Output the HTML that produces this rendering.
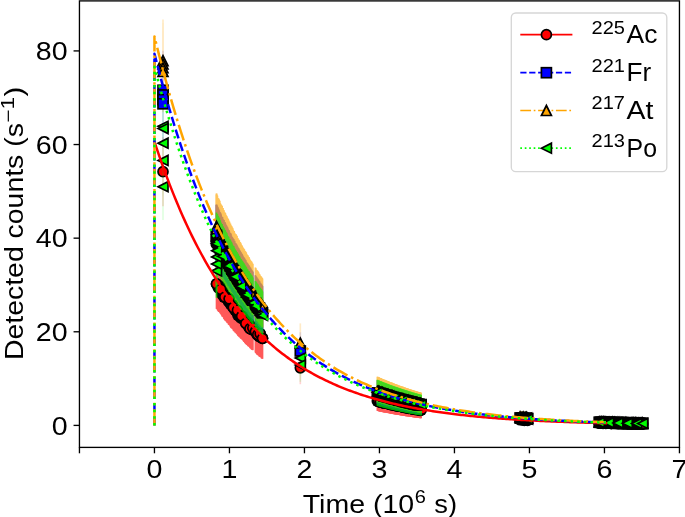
<!DOCTYPE html>
<html><head><meta charset="utf-8"><style>
html,body{margin:0;padding:0;background:#fff;overflow:hidden;}
svg{display:block;will-change:transform;font-family:"Liberation Sans",sans-serif;}
</style></head><body>
<svg width="685" height="517" viewBox="0 0 685 517">
<rect width="685" height="517" fill="#fff"/>
<defs><clipPath id="ax"><rect x="79.45" y="0.90" width="600.00" height="446.50"/></clipPath></defs>
<g clip-path="url(#ax)">
<g opacity="0.17" stroke="#ff0000" stroke-width="1.68">
<line x1="163.00" x2="163.00" y1="137.23" y2="206.15"/>
</g>
<g opacity="0.65" stroke="#ff0000" stroke-width="1.68">
<line x1="216.51" x2="216.51" y1="251.57" y2="308.91"/>
<line x1="216.98" x2="216.98" y1="251.41" y2="308.78"/>
<line x1="217.44" x2="217.44" y1="253.11" y2="310.18"/>
<line x1="217.91" x2="217.91" y1="253.94" y2="310.86"/>
<line x1="218.37" x2="218.37" y1="254.73" y2="311.50"/>
<line x1="218.84" x2="218.84" y1="255.44" y2="312.09"/>
<line x1="219.31" x2="219.31" y1="255.35" y2="312.02"/>
<line x1="219.77" x2="219.77" y1="256.13" y2="312.65"/>
<line x1="220.24" x2="220.24" y1="256.90" y2="313.29"/>
<line x1="220.70" x2="220.70" y1="257.68" y2="313.92"/>
<line x1="221.17" x2="221.17" y1="258.44" y2="314.54"/>
<line x1="221.63" x2="221.63" y1="259.32" y2="315.26"/>
<line x1="222.10" x2="222.10" y1="260.87" y2="316.52"/>
<line x1="222.56" x2="222.56" y1="260.72" y2="316.40"/>
<line x1="223.03" x2="223.03" y1="261.47" y2="317.01"/>
<line x1="223.49" x2="223.49" y1="262.22" y2="317.62"/>
<line x1="223.96" x2="223.96" y1="263.86" y2="318.95"/>
<line x1="224.43" x2="224.43" y1="264.59" y2="319.55"/>
<line x1="224.89" x2="224.89" y1="265.33" y2="320.15"/>
<line x1="225.36" x2="225.36" y1="266.06" y2="320.74"/>
<line x1="225.82" x2="225.82" y1="265.91" y2="320.63"/>
<line x1="226.29" x2="226.29" y1="267.15" y2="321.63"/>
<line x1="226.75" x2="226.75" y1="267.36" y2="321.81"/>
<line x1="227.22" x2="227.22" y1="268.95" y2="323.09"/>
<line x1="227.68" x2="227.68" y1="268.80" y2="322.97"/>
<line x1="228.15" x2="228.15" y1="269.52" y2="323.55"/>
<line x1="228.62" x2="228.62" y1="271.07" y2="324.81"/>
<line x1="229.08" x2="229.08" y1="270.93" y2="324.70"/>
<line x1="229.55" x2="229.55" y1="271.64" y2="325.27"/>
<line x1="230.01" x2="230.01" y1="272.34" y2="325.83"/>
<line x1="230.48" x2="230.48" y1="273.87" y2="327.07"/>
<line x1="230.94" x2="230.94" y1="274.56" y2="327.63"/>
<line x1="231.41" x2="231.41" y1="275.24" y2="328.18"/>
<line x1="231.87" x2="231.87" y1="275.69" y2="328.54"/>
<line x1="232.34" x2="232.34" y1="275.79" y2="328.62"/>
<line x1="232.80" x2="232.80" y1="276.47" y2="329.17"/>
<line x1="233.27" x2="233.27" y1="277.96" y2="330.37"/>
<line x1="233.74" x2="233.74" y1="278.63" y2="330.91"/>
<line x1="234.20" x2="234.20" y1="279.30" y2="331.44"/>
<line x1="234.67" x2="234.67" y1="279.16" y2="331.34"/>
<line x1="235.13" x2="235.13" y1="280.62" y2="332.51"/>
<line x1="235.60" x2="235.60" y1="280.50" y2="332.41"/>
<line x1="236.06" x2="236.06" y1="281.15" y2="332.93"/>
<line x1="236.53" x2="236.53" y1="282.58" y2="334.08"/>
<line x1="236.99" x2="236.99" y1="282.77" y2="334.23"/>
<line x1="237.46" x2="237.46" y1="283.10" y2="334.50"/>
<line x1="237.92" x2="237.92" y1="284.52" y2="335.64"/>
<line x1="238.39" x2="238.39" y1="285.16" y2="336.15"/>
<line x1="238.86" x2="238.86" y1="285.58" y2="336.48"/>
<line x1="239.32" x2="239.32" y1="286.43" y2="337.16"/>
<line x1="239.79" x2="239.79" y1="286.30" y2="337.06"/>
<line x1="240.25" x2="240.25" y1="287.40" y2="337.94"/>
<line x1="240.72" x2="240.72" y1="288.31" y2="338.66"/>
<line x1="241.18" x2="241.18" y1="288.19" y2="338.57"/>
<line x1="241.65" x2="241.65" y1="288.81" y2="339.06"/>
<line x1="242.11" x2="242.11" y1="289.43" y2="339.56"/>
<line x1="242.58" x2="242.58" y1="290.04" y2="340.05"/>
<line x1="243.04" x2="243.04" y1="290.66" y2="340.53"/>
<line x1="243.51" x2="243.51" y1="291.46" y2="341.17"/>
<line x1="243.98" x2="243.98" y1="292.60" y2="342.08"/>
<line x1="244.44" x2="244.44" y1="292.48" y2="341.98"/>
<line x1="244.91" x2="244.91" y1="293.80" y2="343.03"/>
<line x1="245.37" x2="245.37" y1="294.39" y2="343.50"/>
<line x1="245.84" x2="245.84" y1="294.99" y2="343.97"/>
<line x1="246.30" x2="246.30" y1="295.58" y2="344.44"/>
<line x1="246.77" x2="246.77" y1="296.16" y2="344.91"/>
<line x1="247.23" x2="247.23" y1="296.05" y2="344.81"/>
<line x1="247.70" x2="247.70" y1="297.33" y2="345.83"/>
<line x1="248.17" x2="248.17" y1="297.91" y2="346.29"/>
<line x1="248.63" x2="248.63" y1="297.81" y2="346.21"/>
<line x1="249.10" x2="249.10" y1="298.37" y2="346.65"/>
<line x1="249.56" x2="249.56" y1="298.94" y2="347.10"/>
<line x1="250.03" x2="250.03" y1="300.19" y2="348.09"/>
<line x1="250.49" x2="250.49" y1="300.76" y2="348.54"/>
<line x1="250.96" x2="250.96" y1="300.65" y2="348.45"/>
<line x1="251.42" x2="251.42" y1="301.88" y2="349.42"/>
<line x1="251.89" x2="251.89" y1="302.44" y2="349.86"/>
<line x1="252.35" x2="252.35" y1="302.33" y2="349.77"/>
<line x1="252.82" x2="252.82" y1="302.88" y2="350.21"/>
</g>
<g opacity="0.65" stroke="#ff0000" stroke-width="1.68">
<line x1="255.40" x2="255.40" y1="305.91" y2="352.59"/>
<line x1="255.88" x2="255.88" y1="306.46" y2="353.02"/>
<line x1="256.35" x2="256.35" y1="307.37" y2="353.73"/>
<line x1="256.82" x2="256.82" y1="308.12" y2="354.31"/>
<line x1="257.30" x2="257.30" y1="308.72" y2="354.79"/>
<line x1="257.77" x2="257.77" y1="309.26" y2="355.20"/>
<line x1="258.25" x2="258.25" y1="309.17" y2="355.13"/>
<line x1="258.73" x2="258.73" y1="309.88" y2="355.69"/>
<line x1="259.20" x2="259.20" y1="310.85" y2="356.44"/>
<line x1="259.68" x2="259.68" y1="311.38" y2="356.85"/>
<line x1="260.15" x2="260.15" y1="311.28" y2="356.78"/>
<line x1="260.62" x2="260.62" y1="311.81" y2="357.19"/>
<line x1="261.10" x2="261.10" y1="312.33" y2="357.59"/>
<line x1="261.57" x2="261.57" y1="313.45" y2="358.47"/>
<line x1="262.05" x2="262.05" y1="313.36" y2="358.40"/>
<line x1="262.52" x2="262.52" y1="313.88" y2="358.80"/>
</g>
<g opacity="0.17" stroke="#ff0000" stroke-width="1.68">
<line x1="300.32" x2="300.32" y1="351.41" y2="384.24"/>
</g>
<g opacity="0.65" stroke="#ff0000" stroke-width="1.68">
<line x1="377.35" x2="377.35" y1="388.45" y2="410.93"/>
<line x1="377.82" x2="377.82" y1="388.61" y2="411.03"/>
<line x1="378.28" x2="378.28" y1="388.77" y2="411.13"/>
<line x1="378.75" x2="378.75" y1="389.06" y2="411.32"/>
<line x1="379.21" x2="379.21" y1="389.08" y2="411.33"/>
<line x1="379.68" x2="379.68" y1="389.42" y2="411.54"/>
<line x1="380.15" x2="380.15" y1="389.57" y2="411.64"/>
<line x1="380.61" x2="380.61" y1="389.61" y2="411.67"/>
<line x1="381.08" x2="381.08" y1="389.87" y2="411.83"/>
<line x1="381.54" x2="381.54" y1="389.84" y2="411.82"/>
<line x1="382.01" x2="382.01" y1="390.17" y2="412.03"/>
<line x1="382.48" x2="382.48" y1="390.32" y2="412.12"/>
<line x1="382.94" x2="382.94" y1="390.47" y2="412.21"/>
<line x1="383.41" x2="383.41" y1="390.44" y2="412.20"/>
<line x1="383.87" x2="383.87" y1="390.77" y2="412.40"/>
<line x1="384.34" x2="384.34" y1="390.91" y2="412.49"/>
<line x1="384.81" x2="384.81" y1="391.06" y2="412.59"/>
<line x1="385.27" x2="385.27" y1="391.03" y2="412.57"/>
<line x1="385.74" x2="385.74" y1="391.17" y2="412.66"/>
<line x1="386.20" x2="386.20" y1="391.36" y2="412.78"/>
<line x1="386.67" x2="386.67" y1="391.46" y2="412.84"/>
<line x1="387.14" x2="387.14" y1="391.61" y2="412.93"/>
<line x1="387.60" x2="387.60" y1="391.84" y2="413.08"/>
<line x1="388.07" x2="388.07" y1="391.89" y2="413.11"/>
<line x1="388.53" x2="388.53" y1="392.03" y2="413.20"/>
<line x1="389.00" x2="389.00" y1="392.17" y2="413.28"/>
<line x1="389.46" x2="389.46" y1="392.31" y2="413.37"/>
<line x1="389.93" x2="389.93" y1="392.62" y2="413.56"/>
<line x1="390.40" x2="390.40" y1="392.71" y2="413.62"/>
<line x1="390.86" x2="390.86" y1="392.73" y2="413.63"/>
<line x1="391.33" x2="391.33" y1="393.01" y2="413.81"/>
<line x1="391.79" x2="391.79" y1="393.00" y2="413.80"/>
<line x1="392.26" x2="392.26" y1="393.14" y2="413.89"/>
<line x1="392.73" x2="392.73" y1="393.28" y2="413.97"/>
<line x1="393.19" x2="393.19" y1="393.54" y2="414.13"/>
<line x1="393.66" x2="393.66" y1="393.55" y2="414.14"/>
<line x1="394.12" x2="394.12" y1="393.68" y2="414.22"/>
<line x1="394.59" x2="394.59" y1="393.94" y2="414.38"/>
<line x1="395.06" x2="395.06" y1="394.01" y2="414.42"/>
<line x1="395.52" x2="395.52" y1="394.08" y2="414.46"/>
<line x1="395.99" x2="395.99" y1="394.36" y2="414.63"/>
<line x1="396.45" x2="396.45" y1="394.34" y2="414.62"/>
<line x1="396.92" x2="396.92" y1="394.47" y2="414.70"/>
<line x1="397.39" x2="397.39" y1="394.68" y2="414.83"/>
<line x1="397.85" x2="397.85" y1="394.88" y2="414.95"/>
<line x1="398.32" x2="398.32" y1="394.90" y2="414.96"/>
<line x1="398.78" x2="398.78" y1="394.99" y2="415.02"/>
<line x1="399.25" x2="399.25" y1="395.11" y2="415.09"/>
<line x1="399.72" x2="399.72" y1="395.24" y2="415.17"/>
<line x1="400.18" x2="400.18" y1="395.44" y2="415.29"/>
<line x1="400.65" x2="400.65" y1="395.49" y2="415.32"/>
<line x1="401.11" x2="401.11" y1="395.62" y2="415.40"/>
<line x1="401.58" x2="401.58" y1="395.78" y2="415.49"/>
<line x1="402.05" x2="402.05" y1="395.93" y2="415.59"/>
<line x1="402.51" x2="402.51" y1="396.11" y2="415.70"/>
<line x1="402.98" x2="402.98" y1="396.11" y2="415.70"/>
<line x1="403.44" x2="403.44" y1="396.38" y2="415.86"/>
<line x1="403.91" x2="403.91" y1="396.50" y2="415.93"/>
<line x1="404.38" x2="404.38" y1="396.55" y2="415.96"/>
<line x1="404.84" x2="404.84" y1="396.74" y2="416.07"/>
<line x1="405.31" x2="405.31" y1="396.86" y2="416.14"/>
<line x1="405.77" x2="405.77" y1="396.98" y2="416.22"/>
<line x1="406.24" x2="406.24" y1="397.10" y2="416.29"/>
<line x1="406.71" x2="406.71" y1="397.08" y2="416.27"/>
<line x1="407.17" x2="407.17" y1="397.19" y2="416.34"/>
<line x1="407.64" x2="407.64" y1="397.39" y2="416.46"/>
<line x1="408.10" x2="408.10" y1="397.54" y2="416.55"/>
<line x1="408.57" x2="408.57" y1="397.68" y2="416.63"/>
<line x1="409.04" x2="409.04" y1="397.66" y2="416.62"/>
<line x1="409.50" x2="409.50" y1="397.78" y2="416.69"/>
<line x1="409.97" x2="409.97" y1="397.89" y2="416.75"/>
<line x1="410.43" x2="410.43" y1="398.14" y2="416.90"/>
<line x1="410.90" x2="410.90" y1="398.22" y2="416.95"/>
<line x1="411.36" x2="411.36" y1="398.37" y2="417.03"/>
<line x1="411.83" x2="411.83" y1="398.35" y2="417.02"/>
<line x1="412.30" x2="412.30" y1="398.46" y2="417.09"/>
<line x1="412.76" x2="412.76" y1="398.70" y2="417.23"/>
<line x1="413.23" x2="413.23" y1="398.76" y2="417.26"/>
<line x1="413.69" x2="413.69" y1="398.79" y2="417.28"/>
<line x1="414.16" x2="414.16" y1="399.03" y2="417.42"/>
<line x1="414.63" x2="414.63" y1="399.14" y2="417.48"/>
<line x1="415.09" x2="415.09" y1="399.25" y2="417.55"/>
<line x1="415.56" x2="415.56" y1="399.36" y2="417.61"/>
<line x1="416.02" x2="416.02" y1="399.47" y2="417.67"/>
<line x1="416.49" x2="416.49" y1="399.51" y2="417.69"/>
<line x1="416.96" x2="416.96" y1="399.58" y2="417.73"/>
<line x1="417.42" x2="417.42" y1="399.66" y2="417.78"/>
<line x1="417.89" x2="417.89" y1="399.77" y2="417.84"/>
<line x1="418.35" x2="418.35" y1="399.87" y2="417.90"/>
<line x1="418.82" x2="418.82" y1="399.98" y2="417.96"/>
<line x1="419.29" x2="419.29" y1="400.21" y2="418.10"/>
<line x1="419.75" x2="419.75" y1="400.31" y2="418.15"/>
<line x1="420.22" x2="420.22" y1="400.42" y2="418.21"/>
<line x1="420.68" x2="420.68" y1="400.52" y2="418.27"/>
<line x1="421.15" x2="421.15" y1="400.57" y2="418.30"/>
</g>
<g opacity="0.65" stroke="#ff0000" stroke-width="1.68">
<line x1="520.08" x2="520.08" y1="414.69" y2="424.92"/>
<line x1="521.15" x2="521.15" y1="414.78" y2="424.96"/>
<line x1="522.22" x2="522.22" y1="414.88" y2="424.99"/>
<line x1="523.29" x2="523.29" y1="415.01" y2="425.04"/>
<line x1="524.36" x2="524.36" y1="415.11" y2="425.08"/>
<line x1="525.43" x2="525.43" y1="415.15" y2="425.09"/>
<line x1="526.50" x2="526.50" y1="415.25" y2="425.13"/>
<line x1="527.58" x2="527.58" y1="415.37" y2="425.17"/>
</g>
<g opacity="0.65" stroke="#ff0000" stroke-width="1.68">
<line x1="599.20" x2="599.20" y1="419.69" y2="426.36"/>
<line x1="599.75" x2="599.75" y1="419.69" y2="426.36"/>
<line x1="600.30" x2="600.30" y1="419.74" y2="426.37"/>
<line x1="600.85" x2="600.85" y1="419.74" y2="426.37"/>
<line x1="601.40" x2="601.40" y1="419.76" y2="426.37"/>
<line x1="601.95" x2="601.95" y1="419.81" y2="426.38"/>
<line x1="602.50" x2="602.50" y1="419.81" y2="426.38"/>
<line x1="603.05" x2="603.05" y1="419.85" y2="426.39"/>
<line x1="603.61" x2="603.61" y1="419.85" y2="426.39"/>
<line x1="604.16" x2="604.16" y1="419.90" y2="426.39"/>
<line x1="604.71" x2="604.71" y1="419.92" y2="426.40"/>
<line x1="605.26" x2="605.26" y1="419.95" y2="426.40"/>
<line x1="605.81" x2="605.81" y1="419.97" y2="426.41"/>
<line x1="606.36" x2="606.36" y1="419.97" y2="426.41"/>
<line x1="606.91" x2="606.91" y1="419.99" y2="426.41"/>
<line x1="607.46" x2="607.46" y1="420.04" y2="426.42"/>
<line x1="608.01" x2="608.01" y1="420.04" y2="426.42"/>
<line x1="608.56" x2="608.56" y1="420.06" y2="426.42"/>
<line x1="609.11" x2="609.11" y1="420.09" y2="426.42"/>
<line x1="609.66" x2="609.66" y1="420.10" y2="426.43"/>
<line x1="610.21" x2="610.21" y1="420.12" y2="426.43"/>
<line x1="610.76" x2="610.76" y1="420.15" y2="426.43"/>
<line x1="611.31" x2="611.31" y1="420.19" y2="426.44"/>
<line x1="611.86" x2="611.86" y1="420.19" y2="426.44"/>
<line x1="612.42" x2="612.42" y1="420.21" y2="426.44"/>
<line x1="612.97" x2="612.97" y1="420.25" y2="426.45"/>
<line x1="613.52" x2="613.52" y1="420.27" y2="426.45"/>
<line x1="614.07" x2="614.07" y1="420.28" y2="426.45"/>
<line x1="614.62" x2="614.62" y1="420.30" y2="426.45"/>
<line x1="615.17" x2="615.17" y1="420.32" y2="426.46"/>
<line x1="615.72" x2="615.72" y1="420.36" y2="426.46"/>
<line x1="616.27" x2="616.27" y1="420.38" y2="426.47"/>
<line x1="616.82" x2="616.82" y1="420.38" y2="426.46"/>
<line x1="617.37" x2="617.37" y1="420.40" y2="426.47"/>
<line x1="617.92" x2="617.92" y1="420.44" y2="426.47"/>
<line x1="618.47" x2="618.47" y1="420.46" y2="426.48"/>
<line x1="619.02" x2="619.02" y1="420.48" y2="426.48"/>
<line x1="619.57" x2="619.57" y1="420.50" y2="426.48"/>
<line x1="620.12" x2="620.12" y1="420.52" y2="426.48"/>
<line x1="620.67" x2="620.67" y1="420.54" y2="426.49"/>
<line x1="621.23" x2="621.23" y1="420.54" y2="426.49"/>
<line x1="621.78" x2="621.78" y1="420.58" y2="426.49"/>
<line x1="622.33" x2="622.33" y1="420.60" y2="426.49"/>
<line x1="622.88" x2="622.88" y1="420.62" y2="426.49"/>
<line x1="623.43" x2="623.43" y1="420.64" y2="426.50"/>
<line x1="623.98" x2="623.98" y1="420.66" y2="426.50"/>
<line x1="624.53" x2="624.53" y1="420.67" y2="426.50"/>
<line x1="625.08" x2="625.08" y1="420.68" y2="426.50"/>
<line x1="625.63" x2="625.63" y1="420.70" y2="426.50"/>
<line x1="626.18" x2="626.18" y1="420.72" y2="426.50"/>
<line x1="626.73" x2="626.73" y1="420.76" y2="426.51"/>
<line x1="627.28" x2="627.28" y1="420.78" y2="426.51"/>
<line x1="627.83" x2="627.83" y1="420.79" y2="426.51"/>
<line x1="628.38" x2="628.38" y1="420.79" y2="426.51"/>
<line x1="628.93" x2="628.93" y1="420.83" y2="426.52"/>
<line x1="629.48" x2="629.48" y1="420.85" y2="426.52"/>
<line x1="630.04" x2="630.04" y1="420.85" y2="426.52"/>
<line x1="630.59" x2="630.59" y1="420.89" y2="426.52"/>
<line x1="631.14" x2="631.14" y1="420.89" y2="426.52"/>
<line x1="631.69" x2="631.69" y1="420.92" y2="426.52"/>
<line x1="632.24" x2="632.24" y1="420.94" y2="426.53"/>
<line x1="632.79" x2="632.79" y1="420.94" y2="426.53"/>
<line x1="633.34" x2="633.34" y1="420.96" y2="426.53"/>
<line x1="633.89" x2="633.89" y1="421.00" y2="426.53"/>
<line x1="634.44" x2="634.44" y1="421.00" y2="426.53"/>
<line x1="634.99" x2="634.99" y1="421.01" y2="426.53"/>
<line x1="635.54" x2="635.54" y1="421.03" y2="426.53"/>
<line x1="636.09" x2="636.09" y1="421.05" y2="426.54"/>
<line x1="636.64" x2="636.64" y1="421.07" y2="426.54"/>
<line x1="637.19" x2="637.19" y1="421.10" y2="426.54"/>
<line x1="637.74" x2="637.74" y1="421.10" y2="426.54"/>
<line x1="638.29" x2="638.29" y1="421.14" y2="426.54"/>
<line x1="638.85" x2="638.85" y1="421.14" y2="426.54"/>
<line x1="639.40" x2="639.40" y1="421.17" y2="426.54"/>
<line x1="639.95" x2="639.95" y1="421.19" y2="426.55"/>
<line x1="640.50" x2="640.50" y1="421.19" y2="426.55"/>
<line x1="641.05" x2="641.05" y1="421.20" y2="426.55"/>
<line x1="641.60" x2="641.60" y1="421.24" y2="426.55"/>
<line x1="642.15" x2="642.15" y1="421.26" y2="426.55"/>
<line x1="642.70" x2="642.70" y1="421.27" y2="426.55"/>
</g>
<circle cx="163.00" cy="171.69" r="5.00" fill="#ff0000" stroke="#000" stroke-width="1.68" stroke-linejoin="miter"/>
<g fill="#000">
<circle cx="216.51" cy="283.88" r="5.84"/>
<circle cx="217.44" cy="285.24" r="5.84"/>
<circle cx="218.37" cy="287.81" r="5.84"/>
<circle cx="219.31" cy="285.80" r="5.84"/>
<circle cx="220.24" cy="287.31" r="5.84"/>
<circle cx="221.17" cy="289.73" r="5.84"/>
<circle cx="222.10" cy="294.39" r="5.84"/>
<circle cx="223.03" cy="292.24" r="5.84"/>
<circle cx="223.96" cy="297.02" r="5.84"/>
<circle cx="224.89" cy="297.05" r="5.84"/>
<circle cx="225.82" cy="296.49" r="5.84"/>
<circle cx="226.75" cy="297.44" r="5.84"/>
<circle cx="227.68" cy="299.04" r="5.84"/>
<circle cx="228.62" cy="301.74" r="5.84"/>
<circle cx="229.55" cy="301.17" r="5.84"/>
<circle cx="230.48" cy="304.13" r="5.84"/>
<circle cx="231.41" cy="304.94" r="5.84"/>
<circle cx="232.34" cy="304.74" r="5.84"/>
<circle cx="233.27" cy="307.47" r="5.84"/>
<circle cx="234.20" cy="308.75" r="5.84"/>
<circle cx="235.13" cy="310.31" r="5.84"/>
<circle cx="236.06" cy="309.75" r="5.84"/>
<circle cx="236.99" cy="311.42" r="5.84"/>
<circle cx="237.92" cy="315.35" r="5.84"/>
<circle cx="238.86" cy="313.89" r="5.84"/>
<circle cx="239.79" cy="314.20" r="5.84"/>
<circle cx="240.72" cy="317.88" r="5.84"/>
<circle cx="241.65" cy="316.18" r="5.84"/>
<circle cx="242.58" cy="316.27" r="5.84"/>
<circle cx="243.51" cy="319.04" r="5.84"/>
<circle cx="244.44" cy="319.47" r="5.84"/>
<circle cx="245.37" cy="321.86" r="5.84"/>
<circle cx="246.30" cy="323.53" r="5.84"/>
<circle cx="247.23" cy="321.78" r="5.84"/>
<circle cx="248.17" cy="326.14" r="5.84"/>
<circle cx="249.10" cy="323.65" r="5.84"/>
<circle cx="250.03" cy="328.63" r="5.84"/>
<circle cx="250.96" cy="326.94" r="5.84"/>
<circle cx="251.89" cy="329.64" r="5.84"/>
<circle cx="252.82" cy="328.03" r="5.84"/>
<circle cx="252.82" cy="328.03" r="5.84"/>
</g>
<circle cx="216.51" cy="283.88" r="5.00" fill="#ff0000" stroke="#000" stroke-width="1.68" stroke-linejoin="miter"/>
<circle cx="220.70" cy="289.29" r="5.00" fill="#ff0000" stroke="#000" stroke-width="1.68" stroke-linejoin="miter"/>
<circle cx="224.89" cy="297.05" r="5.00" fill="#ff0000" stroke="#000" stroke-width="1.68" stroke-linejoin="miter"/>
<circle cx="229.08" cy="298.82" r="5.00" fill="#ff0000" stroke="#000" stroke-width="1.68" stroke-linejoin="miter"/>
<circle cx="233.27" cy="307.47" r="5.00" fill="#ff0000" stroke="#000" stroke-width="1.68" stroke-linejoin="miter"/>
<circle cx="237.46" cy="310.28" r="5.00" fill="#ff0000" stroke="#000" stroke-width="1.68" stroke-linejoin="miter"/>
<circle cx="241.65" cy="316.18" r="5.00" fill="#ff0000" stroke="#000" stroke-width="1.68" stroke-linejoin="miter"/>
<circle cx="245.84" cy="323.39" r="5.00" fill="#ff0000" stroke="#000" stroke-width="1.68" stroke-linejoin="miter"/>
<circle cx="250.03" cy="328.63" r="5.00" fill="#ff0000" stroke="#000" stroke-width="1.68" stroke-linejoin="miter"/>
<circle cx="252.82" cy="328.03" r="5.00" fill="#ff0000" stroke="#000" stroke-width="1.68" stroke-linejoin="miter"/>
<g fill="#000">
<circle cx="255.40" cy="331.60" r="5.84"/>
<circle cx="256.35" cy="332.92" r="5.84"/>
<circle cx="257.30" cy="334.94" r="5.84"/>
<circle cx="258.25" cy="333.78" r="5.84"/>
<circle cx="259.20" cy="336.59" r="5.84"/>
<circle cx="260.15" cy="333.74" r="5.84"/>
<circle cx="261.10" cy="336.81" r="5.84"/>
<circle cx="262.05" cy="337.73" r="5.84"/>
<circle cx="262.52" cy="338.32" r="5.84"/>
</g>
<circle cx="255.40" cy="331.60" r="5.00" fill="#ff0000" stroke="#000" stroke-width="1.68" stroke-linejoin="miter"/>
<circle cx="257.77" cy="334.68" r="5.00" fill="#ff0000" stroke="#000" stroke-width="1.68" stroke-linejoin="miter"/>
<circle cx="260.15" cy="333.74" r="5.00" fill="#ff0000" stroke="#000" stroke-width="1.68" stroke-linejoin="miter"/>
<circle cx="262.52" cy="338.32" r="5.00" fill="#ff0000" stroke="#000" stroke-width="1.68" stroke-linejoin="miter"/>
<circle cx="300.32" cy="367.82" r="5.00" fill="#ff0000" stroke="#000" stroke-width="1.68" stroke-linejoin="miter"/>
<g fill="#000">
<circle cx="377.35" cy="401.02" r="5.84"/>
<circle cx="378.28" cy="401.26" r="5.84"/>
<circle cx="379.21" cy="401.50" r="5.84"/>
<circle cx="380.15" cy="402.18" r="5.84"/>
<circle cx="381.08" cy="402.23" r="5.84"/>
<circle cx="382.01" cy="402.49" r="5.84"/>
<circle cx="382.94" cy="402.71" r="5.84"/>
<circle cx="383.87" cy="402.81" r="5.84"/>
<circle cx="384.81" cy="403.11" r="5.84"/>
<circle cx="385.74" cy="403.11" r="5.84"/>
<circle cx="386.67" cy="403.15" r="5.84"/>
<circle cx="387.60" cy="403.64" r="5.84"/>
<circle cx="388.53" cy="403.57" r="5.84"/>
<circle cx="389.46" cy="403.89" r="5.84"/>
<circle cx="390.40" cy="404.30" r="5.84"/>
<circle cx="391.33" cy="404.54" r="5.84"/>
<circle cx="392.26" cy="404.60" r="5.84"/>
<circle cx="393.19" cy="404.94" r="5.84"/>
<circle cx="394.12" cy="404.91" r="5.84"/>
<circle cx="395.06" cy="405.30" r="5.84"/>
<circle cx="395.99" cy="405.56" r="5.84"/>
<circle cx="396.92" cy="405.55" r="5.84"/>
<circle cx="397.85" cy="406.09" r="5.84"/>
<circle cx="398.78" cy="406.04" r="5.84"/>
<circle cx="399.72" cy="406.17" r="5.84"/>
<circle cx="400.65" cy="406.35" r="5.84"/>
<circle cx="401.58" cy="406.64" r="5.84"/>
<circle cx="402.51" cy="406.89" r="5.84"/>
<circle cx="403.44" cy="407.20" r="5.84"/>
<circle cx="404.38" cy="407.22" r="5.84"/>
<circle cx="405.31" cy="407.47" r="5.84"/>
<circle cx="406.24" cy="407.68" r="5.84"/>
<circle cx="407.17" cy="407.68" r="5.84"/>
<circle cx="408.10" cy="407.97" r="5.84"/>
<circle cx="409.04" cy="407.86" r="5.84"/>
<circle cx="409.97" cy="408.13" r="5.84"/>
<circle cx="410.90" cy="408.48" r="5.84"/>
<circle cx="411.83" cy="408.52" r="5.84"/>
<circle cx="412.76" cy="409.04" r="5.84"/>
<circle cx="413.69" cy="408.87" r="5.84"/>
<circle cx="414.63" cy="409.36" r="5.84"/>
<circle cx="415.56" cy="409.36" r="5.84"/>
<circle cx="416.49" cy="409.44" r="5.84"/>
<circle cx="417.42" cy="409.52" r="5.84"/>
<circle cx="418.35" cy="409.57" r="5.84"/>
<circle cx="419.29" cy="410.08" r="5.84"/>
<circle cx="420.22" cy="410.20" r="5.84"/>
<circle cx="421.15" cy="410.23" r="5.84"/>
</g><g fill="#f00">
<circle cx="378.45" cy="399.92" r="4.16"/>
<circle cx="379.38" cy="400.16" r="4.16"/>
<circle cx="380.31" cy="400.40" r="4.16"/>
<circle cx="381.25" cy="401.08" r="4.16"/>
<circle cx="382.18" cy="401.13" r="4.16"/>
<circle cx="383.11" cy="401.39" r="4.16"/>
<circle cx="384.04" cy="401.61" r="4.16"/>
<circle cx="384.97" cy="401.71" r="4.16"/>
<circle cx="385.91" cy="402.01" r="4.16"/>
<circle cx="386.84" cy="402.01" r="4.16"/>
<circle cx="387.77" cy="402.05" r="4.16"/>
<circle cx="388.70" cy="402.54" r="4.16"/>
<circle cx="389.63" cy="402.47" r="4.16"/>
<circle cx="390.56" cy="402.79" r="4.16"/>
<circle cx="391.50" cy="403.20" r="4.16"/>
<circle cx="392.43" cy="403.44" r="4.16"/>
<circle cx="393.36" cy="403.50" r="4.16"/>
<circle cx="394.29" cy="403.84" r="4.16"/>
<circle cx="395.22" cy="403.81" r="4.16"/>
<circle cx="396.16" cy="404.20" r="4.16"/>
<circle cx="397.09" cy="404.46" r="4.16"/>
<circle cx="398.02" cy="404.45" r="4.16"/>
<circle cx="398.95" cy="404.99" r="4.16"/>
<circle cx="399.88" cy="404.94" r="4.16"/>
<circle cx="400.82" cy="405.07" r="4.16"/>
<circle cx="401.75" cy="405.25" r="4.16"/>
<circle cx="402.68" cy="405.54" r="4.16"/>
<circle cx="403.61" cy="405.79" r="4.16"/>
<circle cx="404.54" cy="406.10" r="4.16"/>
<circle cx="405.48" cy="406.12" r="4.16"/>
<circle cx="406.41" cy="406.37" r="4.16"/>
<circle cx="407.34" cy="406.58" r="4.16"/>
<circle cx="408.27" cy="406.58" r="4.16"/>
<circle cx="409.20" cy="406.87" r="4.16"/>
<circle cx="410.14" cy="406.76" r="4.16"/>
<circle cx="411.07" cy="407.03" r="4.16"/>
<circle cx="412.00" cy="407.38" r="4.16"/>
<circle cx="412.93" cy="407.42" r="4.16"/>
<circle cx="413.86" cy="407.94" r="4.16"/>
<circle cx="414.79" cy="407.77" r="4.16"/>
<circle cx="415.73" cy="408.26" r="4.16"/>
<circle cx="416.66" cy="408.26" r="4.16"/>
<circle cx="417.59" cy="408.34" r="4.16"/>
<circle cx="418.52" cy="408.42" r="4.16"/>
<circle cx="419.45" cy="408.47" r="4.16"/>
<circle cx="420.39" cy="408.98" r="4.16"/>
<circle cx="421.32" cy="409.10" r="4.16"/>
<circle cx="422.25" cy="409.13" r="4.16"/>
</g>
<g fill="none" stroke="#000" stroke-width="1.68">
<path d="M380.78,405.59 A5.00,5.00 0 0 1 373.58,399.55"/>
<path d="M383.11,406.26 A5.00,5.00 0 0 1 375.91,400.22"/>
<path d="M385.44,407.04 A5.00,5.00 0 0 1 378.24,401.00"/>
<path d="M387.77,407.32 A5.00,5.00 0 0 1 380.57,401.28"/>
<path d="M390.10,407.97 A5.00,5.00 0 0 1 382.90,401.93"/>
<path d="M392.43,408.69 A5.00,5.00 0 0 1 385.23,402.65"/>
<path d="M394.76,408.93 A5.00,5.00 0 0 1 387.56,402.89"/>
<path d="M397.09,409.57 A5.00,5.00 0 0 1 389.89,403.53"/>
<path d="M399.42,409.88 A5.00,5.00 0 0 1 392.22,403.84"/>
<path d="M401.75,410.35 A5.00,5.00 0 0 1 394.55,404.31"/>
<path d="M404.08,410.97 A5.00,5.00 0 0 1 396.88,404.93"/>
<path d="M406.41,411.56 A5.00,5.00 0 0 1 399.21,405.52"/>
<path d="M408.74,412.01 A5.00,5.00 0 0 1 401.54,405.97"/>
<path d="M411.07,412.55 A5.00,5.00 0 0 1 403.87,406.51"/>
<path d="M413.40,412.81 A5.00,5.00 0 0 1 406.20,406.77"/>
<path d="M415.73,413.21 A5.00,5.00 0 0 1 408.53,407.17"/>
<path d="M418.06,413.69 A5.00,5.00 0 0 1 410.86,407.65"/>
<path d="M420.39,413.92 A5.00,5.00 0 0 1 413.19,407.88"/>
<path d="M422.72,414.53 A5.00,5.00 0 0 1 415.52,408.49"/>
</g>
<g fill="#000">
<circle cx="520.08" cy="419.75" r="5.84"/>
<circle cx="522.22" cy="419.91" r="5.84"/>
<circle cx="524.36" cy="420.40" r="5.84"/>
<circle cx="526.50" cy="420.19" r="5.84"/>
<circle cx="527.58" cy="420.31" r="5.84"/>
</g><g fill="#f00">
<circle cx="521.18" cy="418.65" r="4.16"/>
<circle cx="523.32" cy="418.81" r="4.16"/>
<circle cx="525.46" cy="419.30" r="4.16"/>
<circle cx="527.60" cy="419.09" r="4.16"/>
<circle cx="528.68" cy="419.21" r="4.16"/>
</g>
<g fill="#000">
<circle cx="599.20" cy="423.09" r="5.84"/>
<circle cx="600.30" cy="423.17" r="5.84"/>
<circle cx="601.40" cy="423.01" r="5.84"/>
<circle cx="602.50" cy="423.04" r="5.84"/>
<circle cx="603.61" cy="423.04" r="5.84"/>
<circle cx="604.71" cy="423.23" r="5.84"/>
<circle cx="605.81" cy="423.23" r="5.84"/>
<circle cx="606.91" cy="423.20" r="5.84"/>
<circle cx="608.01" cy="423.17" r="5.84"/>
<circle cx="609.11" cy="423.26" r="5.84"/>
<circle cx="610.21" cy="423.15" r="5.84"/>
<circle cx="611.31" cy="423.44" r="5.84"/>
<circle cx="612.42" cy="423.10" r="5.84"/>
<circle cx="613.52" cy="423.36" r="5.84"/>
<circle cx="614.62" cy="423.28" r="5.84"/>
<circle cx="615.72" cy="423.43" r="5.84"/>
<circle cx="616.82" cy="423.42" r="5.84"/>
<circle cx="617.92" cy="423.56" r="5.84"/>
<circle cx="619.02" cy="423.48" r="5.84"/>
<circle cx="620.12" cy="423.52" r="5.84"/>
<circle cx="621.23" cy="423.48" r="5.84"/>
<circle cx="622.33" cy="423.62" r="5.84"/>
<circle cx="623.43" cy="423.57" r="5.84"/>
<circle cx="624.53" cy="423.58" r="5.84"/>
<circle cx="625.63" cy="423.50" r="5.84"/>
<circle cx="626.73" cy="423.70" r="5.84"/>
<circle cx="627.83" cy="423.87" r="5.84"/>
<circle cx="628.93" cy="423.73" r="5.84"/>
<circle cx="630.04" cy="423.64" r="5.84"/>
<circle cx="631.14" cy="423.67" r="5.84"/>
<circle cx="632.24" cy="423.88" r="5.84"/>
<circle cx="633.34" cy="423.65" r="5.84"/>
<circle cx="634.44" cy="423.70" r="5.84"/>
<circle cx="635.54" cy="423.75" r="5.84"/>
<circle cx="636.64" cy="423.70" r="5.84"/>
<circle cx="637.74" cy="423.76" r="5.84"/>
<circle cx="638.85" cy="423.79" r="5.84"/>
<circle cx="639.95" cy="423.87" r="5.84"/>
<circle cx="641.05" cy="423.85" r="5.84"/>
<circle cx="642.15" cy="423.98" r="5.84"/>
<circle cx="642.70" cy="423.97" r="5.84"/>
</g><g fill="#f00">
<circle cx="600.30" cy="421.99" r="4.16"/>
<circle cx="601.40" cy="422.07" r="4.16"/>
<circle cx="602.50" cy="421.91" r="4.16"/>
<circle cx="603.60" cy="421.94" r="4.16"/>
<circle cx="604.71" cy="421.94" r="4.16"/>
<circle cx="605.81" cy="422.13" r="4.16"/>
<circle cx="606.91" cy="422.13" r="4.16"/>
<circle cx="608.01" cy="422.10" r="4.16"/>
<circle cx="609.11" cy="422.07" r="4.16"/>
<circle cx="610.21" cy="422.16" r="4.16"/>
<circle cx="611.31" cy="422.05" r="4.16"/>
<circle cx="612.41" cy="422.34" r="4.16"/>
<circle cx="613.52" cy="422.00" r="4.16"/>
<circle cx="614.62" cy="422.26" r="4.16"/>
<circle cx="615.72" cy="422.18" r="4.16"/>
<circle cx="616.82" cy="422.33" r="4.16"/>
<circle cx="617.92" cy="422.32" r="4.16"/>
<circle cx="619.02" cy="422.46" r="4.16"/>
<circle cx="620.12" cy="422.38" r="4.16"/>
<circle cx="621.22" cy="422.42" r="4.16"/>
<circle cx="622.33" cy="422.38" r="4.16"/>
<circle cx="623.43" cy="422.52" r="4.16"/>
<circle cx="624.53" cy="422.47" r="4.16"/>
<circle cx="625.63" cy="422.48" r="4.16"/>
<circle cx="626.73" cy="422.40" r="4.16"/>
<circle cx="627.83" cy="422.60" r="4.16"/>
<circle cx="628.93" cy="422.77" r="4.16"/>
<circle cx="630.03" cy="422.63" r="4.16"/>
<circle cx="631.14" cy="422.54" r="4.16"/>
<circle cx="632.24" cy="422.57" r="4.16"/>
<circle cx="633.34" cy="422.78" r="4.16"/>
<circle cx="634.44" cy="422.55" r="4.16"/>
<circle cx="635.54" cy="422.60" r="4.16"/>
<circle cx="636.64" cy="422.65" r="4.16"/>
<circle cx="637.74" cy="422.60" r="4.16"/>
<circle cx="638.84" cy="422.66" r="4.16"/>
<circle cx="639.95" cy="422.69" r="4.16"/>
<circle cx="641.05" cy="422.77" r="4.16"/>
<circle cx="642.15" cy="422.75" r="4.16"/>
<circle cx="643.25" cy="422.88" r="4.16"/>
<circle cx="643.80" cy="422.87" r="4.16"/>
</g>
<g fill="none" stroke="#000" stroke-width="1.68">
<path d="M602.80,427.50 A5.00,5.00 0 0 1 595.60,421.46"/>
<path d="M605.55,427.62 A5.00,5.00 0 0 1 598.36,421.58"/>
<path d="M608.31,427.56 A5.00,5.00 0 0 1 601.11,421.52"/>
<path d="M611.06,427.41 A5.00,5.00 0 0 1 603.86,421.36"/>
<path d="M613.81,427.77 A5.00,5.00 0 0 1 606.62,421.73"/>
<path d="M616.57,427.66 A5.00,5.00 0 0 1 609.37,421.62"/>
<path d="M619.32,427.75 A5.00,5.00 0 0 1 612.12,421.71"/>
<path d="M622.07,428.00 A5.00,5.00 0 0 1 614.87,421.96"/>
<path d="M624.83,427.95 A5.00,5.00 0 0 1 617.63,421.91"/>
<path d="M627.58,427.86 A5.00,5.00 0 0 1 620.38,421.82"/>
<path d="M630.33,428.20 A5.00,5.00 0 0 1 623.13,422.16"/>
<path d="M633.09,428.15 A5.00,5.00 0 0 1 625.89,422.10"/>
<path d="M635.84,427.98 A5.00,5.00 0 0 1 628.64,421.94"/>
<path d="M638.59,428.09 A5.00,5.00 0 0 1 631.39,422.05"/>
<path d="M641.35,428.12 A5.00,5.00 0 0 1 634.15,422.08"/>
<path d="M644.10,428.23 A5.00,5.00 0 0 1 636.90,422.19"/>
</g>
<g opacity="0.14" stroke="#0000ff" stroke-width="1.68">
<line x1="163.00" x2="163.00" y1="50.63" y2="129.85"/>
<line x1="163.00" x2="163.00" y1="55.59" y2="134.25"/>
<line x1="163.00" x2="163.00" y1="60.55" y2="138.65"/>
<line x1="163.00" x2="163.00" y1="65.02" y2="142.61"/>
</g>
<g opacity="0.65" stroke="#0000ff" stroke-width="1.68">
<line x1="216.57" x2="216.57" y1="204.75" y2="264.52"/>
<line x1="216.51" x2="216.51" y1="204.75" y2="264.52"/>
<line x1="216.51" x2="216.51" y1="204.65" y2="264.43"/>
<line x1="216.98" x2="216.98" y1="205.63" y2="265.27"/>
<line x1="217.44" x2="217.44" y1="206.53" y2="266.04"/>
<line x1="217.91" x2="217.91" y1="207.21" y2="266.62"/>
<line x1="218.37" x2="218.37" y1="208.45" y2="267.68"/>
<line x1="218.84" x2="218.84" y1="209.52" y2="268.59"/>
<line x1="219.31" x2="219.31" y1="210.51" y2="269.43"/>
<line x1="219.77" x2="219.77" y1="212.43" y2="271.07"/>
<line x1="220.24" x2="220.24" y1="212.23" y2="270.90"/>
<line x1="220.70" x2="220.70" y1="213.25" y2="271.77"/>
<line x1="221.17" x2="221.17" y1="214.49" y2="272.82"/>
<line x1="221.63" x2="221.63" y1="216.36" y2="274.42"/>
<line x1="222.10" x2="222.10" y1="217.12" y2="275.06"/>
<line x1="222.56" x2="222.56" y1="217.23" y2="275.16"/>
<line x1="223.03" x2="223.03" y1="219.26" y2="276.88"/>
<line x1="223.49" x2="223.49" y1="219.75" y2="277.30"/>
<line x1="223.96" x2="223.96" y1="220.03" y2="277.53"/>
<line x1="224.43" x2="224.43" y1="222.12" y2="279.31"/>
<line x1="224.89" x2="224.89" y1="221.93" y2="279.15"/>
<line x1="225.36" x2="225.36" y1="223.12" y2="280.16"/>
<line x1="225.82" x2="225.82" y1="224.46" y2="281.29"/>
<line x1="226.29" x2="226.29" y1="225.12" y2="281.86"/>
<line x1="226.75" x2="226.75" y1="225.87" y2="282.49"/>
<line x1="227.22" x2="227.22" y1="227.09" y2="283.52"/>
<line x1="227.68" x2="227.68" y1="227.52" y2="283.89"/>
<line x1="228.15" x2="228.15" y1="229.35" y2="285.44"/>
<line x1="228.62" x2="228.62" y1="230.12" y2="286.09"/>
<line x1="229.08" x2="229.08" y1="230.26" y2="286.21"/>
<line x1="229.55" x2="229.55" y1="231.69" y2="287.42"/>
<line x1="230.01" x2="230.01" y1="233.08" y2="288.59"/>
<line x1="230.48" x2="230.48" y1="232.99" y2="288.51"/>
<line x1="230.94" x2="230.94" y1="233.85" y2="289.24"/>
<line x1="231.41" x2="231.41" y1="235.50" y2="290.64"/>
<line x1="231.87" x2="231.87" y1="236.68" y2="291.62"/>
<line x1="232.34" x2="232.34" y1="237.09" y2="291.98"/>
<line x1="232.80" x2="232.80" y1="237.97" y2="292.72"/>
<line x1="233.27" x2="233.27" y1="238.92" y2="293.51"/>
<line x1="233.74" x2="233.74" y1="239.11" y2="293.67"/>
<line x1="234.20" x2="234.20" y1="241.00" y2="295.26"/>
<line x1="234.67" x2="234.67" y1="240.83" y2="295.12"/>
<line x1="235.13" x2="235.13" y1="242.70" y2="296.69"/>
<line x1="235.60" x2="235.60" y1="243.44" y2="297.31"/>
<line x1="236.06" x2="236.06" y1="243.56" y2="297.42"/>
<line x1="236.53" x2="236.53" y1="244.22" y2="297.97"/>
<line x1="236.99" x2="236.99" y1="245.13" y2="298.73"/>
<line x1="237.46" x2="237.46" y1="246.21" y2="299.64"/>
<line x1="237.92" x2="237.92" y1="247.14" y2="300.42"/>
<line x1="238.39" x2="238.39" y1="247.96" y2="301.11"/>
<line x1="238.86" x2="238.86" y1="248.57" y2="301.62"/>
<line x1="239.32" x2="239.32" y1="249.75" y2="302.61"/>
<line x1="239.79" x2="239.79" y1="250.34" y2="303.11"/>
<line x1="240.25" x2="240.25" y1="251.01" y2="303.66"/>
<line x1="240.72" x2="240.72" y1="252.09" y2="304.57"/>
<line x1="241.18" x2="241.18" y1="252.52" y2="304.93"/>
<line x1="241.65" x2="241.65" y1="253.42" y2="305.67"/>
<line x1="242.11" x2="242.11" y1="254.00" y2="306.17"/>
<line x1="242.58" x2="242.58" y1="255.11" y2="307.09"/>
<line x1="243.04" x2="243.04" y1="256.25" y2="308.04"/>
<line x1="243.51" x2="243.51" y1="257.00" y2="308.67"/>
<line x1="243.98" x2="243.98" y1="257.61" y2="309.18"/>
<line x1="244.44" x2="244.44" y1="257.95" y2="309.46"/>
<line x1="244.91" x2="244.91" y1="259.30" y2="310.59"/>
<line x1="245.37" x2="245.37" y1="259.74" y2="310.95"/>
<line x1="245.84" x2="245.84" y1="260.22" y2="311.35"/>
<line x1="246.30" x2="246.30" y1="261.89" y2="312.74"/>
<line x1="246.77" x2="246.77" y1="262.64" y2="313.36"/>
<line x1="247.23" x2="247.23" y1="262.83" y2="313.52"/>
<line x1="247.70" x2="247.70" y1="263.51" y2="314.08"/>
<line x1="248.17" x2="248.17" y1="264.33" y2="314.76"/>
<line x1="248.63" x2="248.63" y1="265.36" y2="315.62"/>
<line x1="249.10" x2="249.10" y1="265.62" y2="315.84"/>
<line x1="249.56" x2="249.56" y1="266.52" y2="316.58"/>
<line x1="250.03" x2="250.03" y1="267.60" y2="317.48"/>
<line x1="250.49" x2="250.49" y1="267.66" y2="317.53"/>
<line x1="250.96" x2="250.96" y1="268.67" y2="318.36"/>
<line x1="251.42" x2="251.42" y1="269.78" y2="319.28"/>
<line x1="251.89" x2="251.89" y1="270.30" y2="319.71"/>
<line x1="252.35" x2="252.35" y1="271.07" y2="320.34"/>
<line x1="252.82" x2="252.82" y1="271.71" y2="320.87"/>
</g>
<g opacity="0.65" stroke="#0000ff" stroke-width="1.68">
<line x1="255.40" x2="255.40" y1="275.14" y2="323.70"/>
<line x1="255.88" x2="255.88" y1="276.07" y2="324.48"/>
<line x1="256.35" x2="256.35" y1="276.98" y2="325.22"/>
<line x1="256.82" x2="256.82" y1="277.43" y2="325.59"/>
<line x1="257.30" x2="257.30" y1="278.74" y2="326.67"/>
<line x1="257.77" x2="257.77" y1="278.62" y2="326.57"/>
<line x1="258.25" x2="258.25" y1="279.58" y2="327.36"/>
<line x1="258.73" x2="258.73" y1="280.67" y2="328.25"/>
<line x1="259.20" x2="259.20" y1="280.67" y2="328.25"/>
<line x1="259.68" x2="259.68" y1="281.34" y2="328.81"/>
<line x1="260.15" x2="260.15" y1="282.80" y2="330.01"/>
<line x1="260.62" x2="260.62" y1="283.34" y2="330.44"/>
<line x1="261.10" x2="261.10" y1="283.63" y2="330.68"/>
<line x1="261.57" x2="261.57" y1="284.33" y2="331.26"/>
<line x1="262.05" x2="262.05" y1="285.22" y2="331.98"/>
<line x1="262.52" x2="262.52" y1="286.09" y2="332.70"/>
</g>
<g opacity="0.14" stroke="#0000ff" stroke-width="1.68">
<line x1="300.32" x2="300.32" y1="332.31" y2="369.64"/>
</g>
<g opacity="0.65" stroke="#0000ff" stroke-width="1.68">
<line x1="377.35" x2="377.35" y1="380.19" y2="404.12"/>
<line x1="377.82" x2="377.82" y1="380.28" y2="404.18"/>
<line x1="378.28" x2="378.28" y1="380.71" y2="404.48"/>
<line x1="378.75" x2="378.75" y1="380.90" y2="404.61"/>
<line x1="379.21" x2="379.21" y1="380.99" y2="404.67"/>
<line x1="379.68" x2="379.68" y1="381.24" y2="404.84"/>
<line x1="380.15" x2="380.15" y1="381.46" y2="405.00"/>
<line x1="380.61" x2="380.61" y1="381.58" y2="405.08"/>
<line x1="381.08" x2="381.08" y1="381.86" y2="405.28"/>
<line x1="381.54" x2="381.54" y1="381.83" y2="405.25"/>
<line x1="382.01" x2="382.01" y1="382.02" y2="405.39"/>
<line x1="382.48" x2="382.48" y1="382.35" y2="405.61"/>
<line x1="382.94" x2="382.94" y1="382.62" y2="405.80"/>
<line x1="383.41" x2="383.41" y1="382.75" y2="405.89"/>
<line x1="383.87" x2="383.87" y1="382.99" y2="406.06"/>
<line x1="384.34" x2="384.34" y1="383.18" y2="406.18"/>
<line x1="384.81" x2="384.81" y1="383.24" y2="406.23"/>
<line x1="385.27" x2="385.27" y1="383.54" y2="406.43"/>
<line x1="385.74" x2="385.74" y1="383.56" y2="406.44"/>
<line x1="386.20" x2="386.20" y1="383.75" y2="406.58"/>
<line x1="386.67" x2="386.67" y1="384.09" y2="406.81"/>
<line x1="387.14" x2="387.14" y1="384.23" y2="406.91"/>
<line x1="387.60" x2="387.60" y1="384.43" y2="407.04"/>
<line x1="388.07" x2="388.07" y1="384.41" y2="407.03"/>
<line x1="388.53" x2="388.53" y1="384.59" y2="407.15"/>
<line x1="389.00" x2="389.00" y1="384.88" y2="407.35"/>
<line x1="389.46" x2="389.46" y1="385.15" y2="407.53"/>
<line x1="389.93" x2="389.93" y1="385.26" y2="407.61"/>
<line x1="390.40" x2="390.40" y1="385.41" y2="407.71"/>
<line x1="390.86" x2="390.86" y1="385.46" y2="407.75"/>
<line x1="391.33" x2="391.33" y1="385.66" y2="407.88"/>
<line x1="391.79" x2="391.79" y1="386.02" y2="408.12"/>
<line x1="392.26" x2="392.26" y1="386.19" y2="408.23"/>
<line x1="392.73" x2="392.73" y1="386.35" y2="408.35"/>
<line x1="393.19" x2="393.19" y1="386.52" y2="408.46"/>
<line x1="393.66" x2="393.66" y1="386.69" y2="408.58"/>
<line x1="394.12" x2="394.12" y1="386.79" y2="408.64"/>
<line x1="394.59" x2="394.59" y1="387.03" y2="408.80"/>
<line x1="395.06" x2="395.06" y1="387.07" y2="408.83"/>
<line x1="395.52" x2="395.52" y1="387.16" y2="408.89"/>
<line x1="395.99" x2="395.99" y1="387.52" y2="409.13"/>
<line x1="396.45" x2="396.45" y1="387.49" y2="409.11"/>
<line x1="396.92" x2="396.92" y1="387.84" y2="409.34"/>
<line x1="397.39" x2="397.39" y1="387.82" y2="409.33"/>
<line x1="397.85" x2="397.85" y1="388.04" y2="409.48"/>
<line x1="398.32" x2="398.32" y1="388.14" y2="409.55"/>
<line x1="398.78" x2="398.78" y1="388.49" y2="409.78"/>
<line x1="399.25" x2="399.25" y1="388.65" y2="409.89"/>
<line x1="399.72" x2="399.72" y1="388.65" y2="409.89"/>
<line x1="400.18" x2="400.18" y1="388.78" y2="409.97"/>
<line x1="400.65" x2="400.65" y1="388.94" y2="410.08"/>
<line x1="401.11" x2="401.11" y1="389.11" y2="410.19"/>
<line x1="401.58" x2="401.58" y1="389.25" y2="410.29"/>
<line x1="402.05" x2="402.05" y1="389.41" y2="410.39"/>
<line x1="402.51" x2="402.51" y1="389.56" y2="410.49"/>
<line x1="402.98" x2="402.98" y1="389.72" y2="410.59"/>
<line x1="403.44" x2="403.44" y1="390.00" y2="410.78"/>
<line x1="403.91" x2="403.91" y1="390.02" y2="410.80"/>
<line x1="404.38" x2="404.38" y1="390.36" y2="411.02"/>
<line x1="404.84" x2="404.84" y1="390.33" y2="411.00"/>
<line x1="405.31" x2="405.31" y1="390.66" y2="411.21"/>
<line x1="405.77" x2="405.77" y1="390.66" y2="411.21"/>
<line x1="406.24" x2="406.24" y1="390.78" y2="411.29"/>
<line x1="406.71" x2="406.71" y1="391.07" y2="411.48"/>
<line x1="407.17" x2="407.17" y1="391.16" y2="411.54"/>
<line x1="407.64" x2="407.64" y1="391.22" y2="411.58"/>
<line x1="408.10" x2="408.10" y1="391.45" y2="411.73"/>
<line x1="408.57" x2="408.57" y1="391.69" y2="411.89"/>
<line x1="409.04" x2="409.04" y1="391.69" y2="411.89"/>
<line x1="409.50" x2="409.50" y1="391.80" y2="411.96"/>
<line x1="409.97" x2="409.97" y1="391.95" y2="412.06"/>
<line x1="410.43" x2="410.43" y1="392.26" y2="412.26"/>
<line x1="410.90" x2="410.90" y1="392.23" y2="412.24"/>
<line x1="411.36" x2="411.36" y1="392.38" y2="412.33"/>
<line x1="411.83" x2="411.83" y1="392.60" y2="412.48"/>
<line x1="412.30" x2="412.30" y1="392.68" y2="412.53"/>
<line x1="412.76" x2="412.76" y1="392.96" y2="412.71"/>
<line x1="413.23" x2="413.23" y1="392.94" y2="412.70"/>
<line x1="413.69" x2="413.69" y1="393.24" y2="412.89"/>
<line x1="414.16" x2="414.16" y1="393.21" y2="412.87"/>
<line x1="414.63" x2="414.63" y1="393.52" y2="413.07"/>
<line x1="415.09" x2="415.09" y1="393.65" y2="413.15"/>
<line x1="415.56" x2="415.56" y1="393.62" y2="413.14"/>
<line x1="416.02" x2="416.02" y1="393.76" y2="413.22"/>
<line x1="416.49" x2="416.49" y1="393.98" y2="413.36"/>
<line x1="416.96" x2="416.96" y1="394.19" y2="413.50"/>
<line x1="417.42" x2="417.42" y1="394.16" y2="413.48"/>
<line x1="417.89" x2="417.89" y1="394.39" y2="413.62"/>
<line x1="418.35" x2="418.35" y1="394.44" y2="413.66"/>
<line x1="418.82" x2="418.82" y1="394.56" y2="413.74"/>
<line x1="419.29" x2="419.29" y1="394.69" y2="413.82"/>
<line x1="419.75" x2="419.75" y1="394.98" y2="414.00"/>
<line x1="420.22" x2="420.22" y1="394.95" y2="413.98"/>
<line x1="420.68" x2="420.68" y1="395.16" y2="414.11"/>
<line x1="421.15" x2="421.15" y1="395.21" y2="414.15"/>
</g>
<g opacity="0.65" stroke="#0000ff" stroke-width="1.68">
<line x1="520.08" x2="520.08" y1="412.21" y2="423.93"/>
<line x1="521.15" x2="521.15" y1="412.33" y2="423.98"/>
<line x1="522.22" x2="522.22" y1="412.45" y2="424.03"/>
<line x1="523.29" x2="523.29" y1="412.62" y2="424.10"/>
<line x1="524.36" x2="524.36" y1="412.72" y2="424.14"/>
<line x1="525.43" x2="525.43" y1="412.85" y2="424.20"/>
<line x1="526.50" x2="526.50" y1="412.96" y2="424.24"/>
<line x1="527.58" x2="527.58" y1="413.01" y2="424.26"/>
</g>
<g opacity="0.65" stroke="#0000ff" stroke-width="1.68">
<line x1="599.20" x2="599.20" y1="418.44" y2="426.10"/>
<line x1="599.75" x2="599.75" y1="418.47" y2="426.10"/>
<line x1="600.30" x2="600.30" y1="418.50" y2="426.11"/>
<line x1="600.85" x2="600.85" y1="418.53" y2="426.12"/>
<line x1="601.40" x2="601.40" y1="418.58" y2="426.13"/>
<line x1="601.95" x2="601.95" y1="418.59" y2="426.13"/>
<line x1="602.50" x2="602.50" y1="418.65" y2="426.15"/>
<line x1="603.05" x2="603.05" y1="418.68" y2="426.15"/>
<line x1="603.61" x2="603.61" y1="418.67" y2="426.15"/>
<line x1="604.16" x2="604.16" y1="418.70" y2="426.16"/>
<line x1="604.71" x2="604.71" y1="418.76" y2="426.17"/>
<line x1="605.26" x2="605.26" y1="418.79" y2="426.18"/>
<line x1="605.81" x2="605.81" y1="418.82" y2="426.18"/>
<line x1="606.36" x2="606.36" y1="418.82" y2="426.18"/>
<line x1="606.91" x2="606.91" y1="418.84" y2="426.19"/>
<line x1="607.46" x2="607.46" y1="418.90" y2="426.20"/>
<line x1="608.01" x2="608.01" y1="418.90" y2="426.20"/>
<line x1="608.56" x2="608.56" y1="418.93" y2="426.21"/>
<line x1="609.11" x2="609.11" y1="418.98" y2="426.22"/>
<line x1="609.66" x2="609.66" y1="418.98" y2="426.22"/>
<line x1="610.21" x2="610.21" y1="419.04" y2="426.23"/>
<line x1="610.76" x2="610.76" y1="419.06" y2="426.24"/>
<line x1="611.31" x2="611.31" y1="419.06" y2="426.24"/>
<line x1="611.86" x2="611.86" y1="419.09" y2="426.24"/>
<line x1="612.42" x2="612.42" y1="419.14" y2="426.25"/>
<line x1="612.97" x2="612.97" y1="419.14" y2="426.25"/>
<line x1="613.52" x2="613.52" y1="419.20" y2="426.27"/>
<line x1="614.07" x2="614.07" y1="419.20" y2="426.27"/>
<line x1="614.62" x2="614.62" y1="419.25" y2="426.28"/>
<line x1="615.17" x2="615.17" y1="419.25" y2="426.28"/>
<line x1="615.72" x2="615.72" y1="419.30" y2="426.29"/>
<line x1="616.27" x2="616.27" y1="419.30" y2="426.29"/>
<line x1="616.82" x2="616.82" y1="419.33" y2="426.29"/>
<line x1="617.37" x2="617.37" y1="419.38" y2="426.30"/>
<line x1="617.92" x2="617.92" y1="419.40" y2="426.31"/>
<line x1="618.47" x2="618.47" y1="419.40" y2="426.31"/>
<line x1="619.02" x2="619.02" y1="419.45" y2="426.32"/>
<line x1="619.57" x2="619.57" y1="419.48" y2="426.32"/>
<line x1="620.12" x2="620.12" y1="419.48" y2="426.32"/>
<line x1="620.67" x2="620.67" y1="419.50" y2="426.33"/>
<line x1="621.23" x2="621.23" y1="419.55" y2="426.33"/>
<line x1="621.78" x2="621.78" y1="419.55" y2="426.33"/>
<line x1="622.33" x2="622.33" y1="419.60" y2="426.34"/>
<line x1="622.88" x2="622.88" y1="419.60" y2="426.34"/>
<line x1="623.43" x2="623.43" y1="419.65" y2="426.35"/>
<line x1="623.98" x2="623.98" y1="419.65" y2="426.35"/>
<line x1="624.53" x2="624.53" y1="419.67" y2="426.36"/>
<line x1="625.08" x2="625.08" y1="419.70" y2="426.36"/>
<line x1="625.63" x2="625.63" y1="419.75" y2="426.37"/>
<line x1="626.18" x2="626.18" y1="419.77" y2="426.37"/>
<line x1="626.73" x2="626.73" y1="419.77" y2="426.37"/>
<line x1="627.28" x2="627.28" y1="419.79" y2="426.38"/>
<line x1="627.83" x2="627.83" y1="419.84" y2="426.38"/>
<line x1="628.38" x2="628.38" y1="419.84" y2="426.38"/>
<line x1="628.93" x2="628.93" y1="419.86" y2="426.39"/>
<line x1="629.48" x2="629.48" y1="419.89" y2="426.39"/>
<line x1="630.04" x2="630.04" y1="419.93" y2="426.40"/>
<line x1="630.59" x2="630.59" y1="419.95" y2="426.40"/>
<line x1="631.14" x2="631.14" y1="419.95" y2="426.40"/>
<line x1="631.69" x2="631.69" y1="419.98" y2="426.41"/>
<line x1="632.24" x2="632.24" y1="420.00" y2="426.41"/>
<line x1="632.79" x2="632.79" y1="420.04" y2="426.42"/>
<line x1="633.34" x2="633.34" y1="420.04" y2="426.42"/>
<line x1="633.89" x2="633.89" y1="420.07" y2="426.42"/>
<line x1="634.44" x2="634.44" y1="420.09" y2="426.42"/>
<line x1="634.99" x2="634.99" y1="420.13" y2="426.43"/>
<line x1="635.54" x2="635.54" y1="420.15" y2="426.43"/>
<line x1="636.09" x2="636.09" y1="420.16" y2="426.43"/>
<line x1="636.64" x2="636.64" y1="420.18" y2="426.44"/>
<line x1="637.19" x2="637.19" y1="420.22" y2="426.44"/>
<line x1="637.74" x2="637.74" y1="420.22" y2="426.44"/>
<line x1="638.29" x2="638.29" y1="420.26" y2="426.45"/>
<line x1="638.85" x2="638.85" y1="420.26" y2="426.45"/>
<line x1="639.40" x2="639.40" y1="420.30" y2="426.45"/>
<line x1="639.95" x2="639.95" y1="420.30" y2="426.45"/>
<line x1="640.50" x2="640.50" y1="420.35" y2="426.46"/>
<line x1="641.05" x2="641.05" y1="420.37" y2="426.46"/>
<line x1="641.60" x2="641.60" y1="420.37" y2="426.46"/>
<line x1="642.15" x2="642.15" y1="420.39" y2="426.47"/>
<line x1="642.70" x2="642.70" y1="420.43" y2="426.47"/>
</g>
<g opacity="0.22" stroke="#ffa500" stroke-width="1.68">
<line x1="163.00" x2="163.00" y1="19.44" y2="102.07"/>
<line x1="163.00" x2="163.00" y1="22.90" y2="105.16"/>
<line x1="163.00" x2="163.00" y1="26.86" y2="108.69"/>
<line x1="163.00" x2="163.00" y1="30.82" y2="112.22"/>
</g>
<g opacity="0.65" stroke="#ffa500" stroke-width="1.68">
<line x1="216.57" x2="216.57" y1="193.57" y2="254.94"/>
<line x1="216.51" x2="216.51" y1="193.57" y2="254.94"/>
<line x1="216.51" x2="216.51" y1="194.83" y2="257.03"/>
<line x1="216.98" x2="216.98" y1="195.56" y2="257.65"/>
<line x1="217.44" x2="217.44" y1="195.67" y2="257.74"/>
<line x1="217.91" x2="217.91" y1="198.01" y2="259.74"/>
<line x1="218.37" x2="218.37" y1="198.46" y2="260.13"/>
<line x1="218.84" x2="218.84" y1="198.86" y2="260.47"/>
<line x1="219.31" x2="219.31" y1="199.97" y2="261.42"/>
<line x1="219.77" x2="219.77" y1="200.92" y2="262.23"/>
<line x1="220.24" x2="220.24" y1="203.20" y2="264.18"/>
<line x1="220.70" x2="220.70" y1="203.82" y2="264.71"/>
<line x1="221.17" x2="221.17" y1="204.83" y2="265.57"/>
<line x1="221.63" x2="221.63" y1="205.26" y2="265.93"/>
<line x1="222.10" x2="222.10" y1="206.04" y2="266.60"/>
<line x1="222.56" x2="222.56" y1="208.27" y2="268.50"/>
<line x1="223.03" x2="223.03" y1="208.06" y2="268.32"/>
<line x1="223.49" x2="223.49" y1="210.26" y2="270.20"/>
<line x1="223.96" x2="223.96" y1="210.24" y2="270.18"/>
<line x1="224.43" x2="224.43" y1="212.24" y2="271.88"/>
<line x1="224.89" x2="224.89" y1="212.52" y2="272.12"/>
<line x1="225.36" x2="225.36" y1="213.01" y2="272.53"/>
<line x1="225.82" x2="225.82" y1="214.67" y2="273.94"/>
<line x1="226.29" x2="226.29" y1="215.44" y2="274.59"/>
<line x1="226.75" x2="226.75" y1="216.05" y2="275.11"/>
<line x1="227.22" x2="227.22" y1="217.39" y2="276.25"/>
<line x1="227.68" x2="227.68" y1="218.48" y2="277.17"/>
<line x1="228.15" x2="228.15" y1="218.81" y2="277.45"/>
<line x1="228.62" x2="228.62" y1="219.76" y2="278.25"/>
<line x1="229.08" x2="229.08" y1="221.44" y2="279.68"/>
<line x1="229.55" x2="229.55" y1="221.64" y2="279.85"/>
<line x1="230.01" x2="230.01" y1="223.71" y2="281.60"/>
<line x1="230.48" x2="230.48" y1="223.56" y2="281.47"/>
<line x1="230.94" x2="230.94" y1="225.14" y2="282.82"/>
<line x1="231.41" x2="231.41" y1="225.84" y2="283.41"/>
<line x1="231.87" x2="231.87" y1="226.44" y2="283.91"/>
<line x1="232.34" x2="232.34" y1="227.62" y2="284.91"/>
<line x1="232.80" x2="232.80" y1="228.30" y2="285.48"/>
<line x1="233.27" x2="233.27" y1="230.10" y2="287.00"/>
<line x1="233.74" x2="233.74" y1="231.00" y2="287.75"/>
<line x1="234.20" x2="234.20" y1="231.01" y2="287.77"/>
<line x1="234.67" x2="234.67" y1="232.76" y2="289.24"/>
<line x1="235.13" x2="235.13" y1="233.66" y2="290.00"/>
<line x1="235.60" x2="235.60" y1="234.54" y2="290.74"/>
<line x1="236.06" x2="236.06" y1="234.35" y2="290.58"/>
<line x1="236.53" x2="236.53" y1="235.36" y2="291.43"/>
<line x1="236.99" x2="236.99" y1="236.10" y2="292.05"/>
<line x1="237.46" x2="237.46" y1="237.98" y2="293.63"/>
<line x1="237.92" x2="237.92" y1="238.35" y2="293.94"/>
<line x1="238.39" x2="238.39" y1="239.73" y2="295.10"/>
<line x1="238.86" x2="238.86" y1="239.66" y2="295.05"/>
<line x1="239.32" x2="239.32" y1="240.39" y2="295.66"/>
<line x1="239.79" x2="239.79" y1="242.21" y2="297.18"/>
<line x1="240.25" x2="240.25" y1="242.09" y2="297.08"/>
<line x1="240.72" x2="240.72" y1="242.93" y2="297.78"/>
<line x1="241.18" x2="241.18" y1="244.35" y2="298.98"/>
<line x1="241.65" x2="241.65" y1="245.59" y2="300.01"/>
<line x1="242.11" x2="242.11" y1="245.42" y2="299.87"/>
<line x1="242.58" x2="242.58" y1="246.79" y2="301.01"/>
<line x1="243.04" x2="243.04" y1="247.85" y2="301.90"/>
<line x1="243.51" x2="243.51" y1="248.17" y2="302.17"/>
<line x1="243.98" x2="243.98" y1="248.98" y2="302.84"/>
<line x1="244.44" x2="244.44" y1="249.50" y2="303.28"/>
<line x1="244.91" x2="244.91" y1="251.27" y2="304.76"/>
<line x1="245.37" x2="245.37" y1="251.10" y2="304.62"/>
<line x1="245.84" x2="245.84" y1="251.90" y2="305.28"/>
<line x1="246.30" x2="246.30" y1="252.69" y2="305.94"/>
<line x1="246.77" x2="246.77" y1="254.04" y2="307.07"/>
<line x1="247.23" x2="247.23" y1="255.09" y2="307.94"/>
<line x1="247.70" x2="247.70" y1="255.04" y2="307.90"/>
<line x1="248.17" x2="248.17" y1="256.24" y2="308.89"/>
<line x1="248.63" x2="248.63" y1="257.00" y2="309.53"/>
<line x1="249.10" x2="249.10" y1="257.37" y2="309.83"/>
<line x1="249.56" x2="249.56" y1="258.72" y2="310.96"/>
<line x1="250.03" x2="250.03" y1="259.82" y2="311.87"/>
<line x1="250.49" x2="250.49" y1="260.29" y2="312.26"/>
<line x1="250.96" x2="250.96" y1="261.32" y2="313.12"/>
<line x1="251.42" x2="251.42" y1="261.25" y2="313.05"/>
<line x1="251.89" x2="251.89" y1="262.22" y2="313.86"/>
<line x1="252.35" x2="252.35" y1="263.38" y2="314.82"/>
<line x1="252.82" x2="252.82" y1="263.85" y2="315.21"/>
</g>
<g opacity="0.65" stroke="#ffa500" stroke-width="1.68">
<line x1="255.40" x2="255.40" y1="267.45" y2="318.19"/>
<line x1="255.88" x2="255.88" y1="268.18" y2="318.79"/>
<line x1="256.35" x2="256.35" y1="269.77" y2="320.11"/>
<line x1="256.82" x2="256.82" y1="270.50" y2="320.70"/>
<line x1="257.30" x2="257.30" y1="270.36" y2="320.59"/>
<line x1="257.77" x2="257.77" y1="271.08" y2="321.19"/>
<line x1="258.25" x2="258.25" y1="271.80" y2="321.77"/>
<line x1="258.73" x2="258.73" y1="272.59" y2="322.43"/>
<line x1="259.20" x2="259.20" y1="274.00" y2="323.59"/>
<line x1="259.68" x2="259.68" y1="274.23" y2="323.78"/>
<line x1="260.15" x2="260.15" y1="275.46" y2="324.78"/>
<line x1="260.62" x2="260.62" y1="276.05" y2="325.27"/>
<line x1="261.10" x2="261.10" y1="276.46" y2="325.60"/>
<line x1="261.57" x2="261.57" y1="276.91" y2="325.98"/>
<line x1="262.05" x2="262.05" y1="278.11" y2="326.96"/>
<line x1="262.52" x2="262.52" y1="278.54" y2="327.32"/>
</g>
<g opacity="0.22" stroke="#ffa500" stroke-width="1.68">
<line x1="300.32" x2="300.32" y1="323.38" y2="362.65"/>
</g>
<g opacity="0.65" stroke="#ffa500" stroke-width="1.68">
<line x1="377.35" x2="377.35" y1="376.71" y2="402.13"/>
<line x1="377.82" x2="377.82" y1="376.81" y2="402.20"/>
<line x1="378.28" x2="378.28" y1="377.13" y2="402.43"/>
<line x1="378.75" x2="378.75" y1="377.09" y2="402.40"/>
<line x1="379.21" x2="379.21" y1="377.30" y2="402.54"/>
<line x1="379.68" x2="379.68" y1="377.75" y2="402.86"/>
<line x1="380.15" x2="380.15" y1="377.96" y2="403.00"/>
<line x1="380.61" x2="380.61" y1="378.16" y2="403.15"/>
<line x1="381.08" x2="381.08" y1="378.12" y2="403.12"/>
<line x1="381.54" x2="381.54" y1="378.57" y2="403.43"/>
<line x1="382.01" x2="382.01" y1="378.67" y2="403.50"/>
<line x1="382.48" x2="382.48" y1="378.95" y2="403.69"/>
<line x1="382.94" x2="382.94" y1="379.09" y2="403.79"/>
<line x1="383.41" x2="383.41" y1="379.37" y2="403.98"/>
<line x1="383.87" x2="383.87" y1="379.44" y2="404.03"/>
<line x1="384.34" x2="384.34" y1="379.76" y2="404.26"/>
<line x1="384.81" x2="384.81" y1="379.86" y2="404.33"/>
<line x1="385.27" x2="385.27" y1="379.94" y2="404.38"/>
<line x1="385.74" x2="385.74" y1="380.11" y2="404.50"/>
<line x1="386.20" x2="386.20" y1="380.50" y2="404.76"/>
<line x1="386.67" x2="386.67" y1="380.74" y2="404.93"/>
<line x1="387.14" x2="387.14" y1="380.76" y2="404.94"/>
<line x1="387.60" x2="387.60" y1="381.12" y2="405.19"/>
<line x1="388.07" x2="388.07" y1="381.08" y2="405.16"/>
<line x1="388.53" x2="388.53" y1="381.27" y2="405.29"/>
<line x1="389.00" x2="389.00" y1="381.61" y2="405.52"/>
<line x1="389.46" x2="389.46" y1="381.87" y2="405.71"/>
<line x1="389.93" x2="389.93" y1="382.06" y2="405.83"/>
<line x1="390.40" x2="390.40" y1="382.24" y2="405.96"/>
<line x1="390.86" x2="390.86" y1="382.42" y2="406.08"/>
<line x1="391.33" x2="391.33" y1="382.41" y2="406.08"/>
<line x1="391.79" x2="391.79" y1="382.57" y2="406.19"/>
<line x1="392.26" x2="392.26" y1="382.76" y2="406.31"/>
<line x1="392.73" x2="392.73" y1="382.94" y2="406.43"/>
<line x1="393.19" x2="393.19" y1="383.34" y2="406.71"/>
<line x1="393.66" x2="393.66" y1="383.41" y2="406.75"/>
<line x1="394.12" x2="394.12" y1="383.48" y2="406.80"/>
<line x1="394.59" x2="394.59" y1="383.88" y2="407.07"/>
<line x1="395.06" x2="395.06" y1="384.05" y2="407.19"/>
<line x1="395.52" x2="395.52" y1="384.07" y2="407.20"/>
<line x1="395.99" x2="395.99" y1="384.25" y2="407.33"/>
<line x1="396.45" x2="396.45" y1="384.37" y2="407.40"/>
<line x1="396.92" x2="396.92" y1="384.72" y2="407.64"/>
<line x1="397.39" x2="397.39" y1="384.72" y2="407.64"/>
<line x1="397.85" x2="397.85" y1="384.98" y2="407.82"/>
<line x1="398.32" x2="398.32" y1="385.06" y2="407.87"/>
<line x1="398.78" x2="398.78" y1="385.44" y2="408.13"/>
<line x1="399.25" x2="399.25" y1="385.61" y2="408.24"/>
<line x1="399.72" x2="399.72" y1="385.68" y2="408.28"/>
<line x1="400.18" x2="400.18" y1="385.95" y2="408.47"/>
<line x1="400.65" x2="400.65" y1="386.12" y2="408.58"/>
<line x1="401.11" x2="401.11" y1="386.08" y2="408.55"/>
<line x1="401.58" x2="401.58" y1="386.45" y2="408.80"/>
<line x1="402.05" x2="402.05" y1="386.42" y2="408.78"/>
<line x1="402.51" x2="402.51" y1="386.58" y2="408.89"/>
<line x1="402.98" x2="402.98" y1="386.76" y2="409.01"/>
<line x1="403.44" x2="403.44" y1="386.91" y2="409.11"/>
<line x1="403.91" x2="403.91" y1="387.20" y2="409.30"/>
<line x1="404.38" x2="404.38" y1="387.43" y2="409.45"/>
<line x1="404.84" x2="404.84" y1="387.50" y2="409.50"/>
<line x1="405.31" x2="405.31" y1="387.56" y2="409.54"/>
<line x1="405.77" x2="405.77" y1="387.91" y2="409.77"/>
<line x1="406.24" x2="406.24" y1="388.00" y2="409.83"/>
<line x1="406.71" x2="406.71" y1="388.04" y2="409.85"/>
<line x1="407.17" x2="407.17" y1="388.39" y2="410.08"/>
<line x1="407.64" x2="407.64" y1="388.36" y2="410.06"/>
<line x1="408.10" x2="408.10" y1="388.51" y2="410.16"/>
<line x1="408.57" x2="408.57" y1="388.86" y2="410.39"/>
<line x1="409.04" x2="409.04" y1="388.88" y2="410.41"/>
<line x1="409.50" x2="409.50" y1="389.11" y2="410.56"/>
<line x1="409.97" x2="409.97" y1="389.13" y2="410.57"/>
<line x1="410.43" x2="410.43" y1="389.30" y2="410.68"/>
<line x1="410.90" x2="410.90" y1="389.44" y2="410.77"/>
<line x1="411.36" x2="411.36" y1="389.77" y2="410.99"/>
<line x1="411.83" x2="411.83" y1="389.84" y2="411.03"/>
<line x1="412.30" x2="412.30" y1="389.99" y2="411.13"/>
<line x1="412.76" x2="412.76" y1="390.22" y2="411.28"/>
<line x1="413.23" x2="413.23" y1="390.19" y2="411.26"/>
<line x1="413.69" x2="413.69" y1="390.34" y2="411.36"/>
<line x1="414.16" x2="414.16" y1="390.67" y2="411.57"/>
<line x1="414.63" x2="414.63" y1="390.64" y2="411.55"/>
<line x1="415.09" x2="415.09" y1="390.90" y2="411.72"/>
<line x1="415.56" x2="415.56" y1="390.93" y2="411.74"/>
<line x1="416.02" x2="416.02" y1="391.08" y2="411.83"/>
<line x1="416.49" x2="416.49" y1="391.39" y2="412.04"/>
<line x1="416.96" x2="416.96" y1="391.50" y2="412.11"/>
<line x1="417.42" x2="417.42" y1="391.51" y2="412.11"/>
<line x1="417.89" x2="417.89" y1="391.82" y2="412.31"/>
<line x1="418.35" x2="418.35" y1="391.96" y2="412.40"/>
<line x1="418.82" x2="418.82" y1="392.10" y2="412.49"/>
<line x1="419.29" x2="419.29" y1="392.24" y2="412.58"/>
<line x1="419.75" x2="419.75" y1="392.22" y2="412.57"/>
<line x1="420.22" x2="420.22" y1="392.35" y2="412.65"/>
<line x1="420.68" x2="420.68" y1="392.49" y2="412.74"/>
<line x1="421.15" x2="421.15" y1="392.66" y2="412.85"/>
</g>
<g opacity="0.65" stroke="#ffa500" stroke-width="1.68">
<line x1="520.08" x2="520.08" y1="411.26" y2="423.51"/>
<line x1="521.15" x2="521.15" y1="411.45" y2="423.60"/>
<line x1="522.22" x2="522.22" y1="411.58" y2="423.65"/>
<line x1="523.29" x2="523.29" y1="411.63" y2="423.68"/>
<line x1="524.36" x2="524.36" y1="411.82" y2="423.76"/>
<line x1="525.43" x2="525.43" y1="411.88" y2="423.78"/>
<line x1="526.50" x2="526.50" y1="412.00" y2="423.83"/>
<line x1="527.58" x2="527.58" y1="412.13" y2="423.89"/>
</g>
<g opacity="0.65" stroke="#ffa500" stroke-width="1.68">
<line x1="599.20" x2="599.20" y1="417.92" y2="425.97"/>
<line x1="599.75" x2="599.75" y1="417.95" y2="425.97"/>
<line x1="600.30" x2="600.30" y1="418.02" y2="425.99"/>
<line x1="600.85" x2="600.85" y1="418.05" y2="426.00"/>
<line x1="601.40" x2="601.40" y1="418.05" y2="426.00"/>
<line x1="601.95" x2="601.95" y1="418.08" y2="426.01"/>
<line x1="602.50" x2="602.50" y1="418.14" y2="426.02"/>
<line x1="603.05" x2="603.05" y1="418.17" y2="426.03"/>
<line x1="603.61" x2="603.61" y1="418.17" y2="426.03"/>
<line x1="604.16" x2="604.16" y1="418.20" y2="426.04"/>
<line x1="604.71" x2="604.71" y1="418.25" y2="426.05"/>
<line x1="605.26" x2="605.26" y1="418.29" y2="426.06"/>
<line x1="605.81" x2="605.81" y1="418.29" y2="426.06"/>
<line x1="606.36" x2="606.36" y1="418.35" y2="426.08"/>
<line x1="606.91" x2="606.91" y1="418.38" y2="426.08"/>
<line x1="607.46" x2="607.46" y1="418.41" y2="426.09"/>
<line x1="608.01" x2="608.01" y1="418.44" y2="426.10"/>
<line x1="608.56" x2="608.56" y1="418.47" y2="426.11"/>
<line x1="609.11" x2="609.11" y1="418.50" y2="426.11"/>
<line x1="609.66" x2="609.66" y1="418.50" y2="426.11"/>
<line x1="610.21" x2="610.21" y1="418.56" y2="426.13"/>
<line x1="610.76" x2="610.76" y1="418.56" y2="426.13"/>
<line x1="611.31" x2="611.31" y1="418.62" y2="426.14"/>
<line x1="611.86" x2="611.86" y1="418.62" y2="426.14"/>
<line x1="612.42" x2="612.42" y1="418.65" y2="426.15"/>
<line x1="612.97" x2="612.97" y1="418.67" y2="426.15"/>
<line x1="613.52" x2="613.52" y1="418.73" y2="426.17"/>
<line x1="614.07" x2="614.07" y1="418.73" y2="426.17"/>
<line x1="614.62" x2="614.62" y1="418.76" y2="426.17"/>
<line x1="615.17" x2="615.17" y1="418.82" y2="426.18"/>
<line x1="615.72" x2="615.72" y1="418.84" y2="426.19"/>
<line x1="616.27" x2="616.27" y1="418.84" y2="426.19"/>
<line x1="616.82" x2="616.82" y1="418.90" y2="426.20"/>
<line x1="617.37" x2="617.37" y1="418.90" y2="426.20"/>
<line x1="617.92" x2="617.92" y1="418.93" y2="426.21"/>
<line x1="618.47" x2="618.47" y1="418.95" y2="426.21"/>
<line x1="619.02" x2="619.02" y1="418.98" y2="426.22"/>
<line x1="619.57" x2="619.57" y1="419.01" y2="426.23"/>
<line x1="620.12" x2="620.12" y1="419.06" y2="426.24"/>
<line x1="620.67" x2="620.67" y1="419.08" y2="426.24"/>
<line x1="621.23" x2="621.23" y1="419.11" y2="426.25"/>
<line x1="621.78" x2="621.78" y1="419.14" y2="426.25"/>
<line x1="622.33" x2="622.33" y1="419.17" y2="426.26"/>
<line x1="622.88" x2="622.88" y1="419.19" y2="426.26"/>
<line x1="623.43" x2="623.43" y1="419.22" y2="426.27"/>
<line x1="623.98" x2="623.98" y1="419.24" y2="426.27"/>
<line x1="624.53" x2="624.53" y1="419.27" y2="426.28"/>
<line x1="625.08" x2="625.08" y1="419.29" y2="426.28"/>
<line x1="625.63" x2="625.63" y1="419.29" y2="426.29"/>
<line x1="626.18" x2="626.18" y1="419.35" y2="426.30"/>
<line x1="626.73" x2="626.73" y1="419.34" y2="426.30"/>
<line x1="627.28" x2="627.28" y1="419.40" y2="426.31"/>
<line x1="627.83" x2="627.83" y1="419.42" y2="426.31"/>
<line x1="628.38" x2="628.38" y1="419.45" y2="426.31"/>
<line x1="628.93" x2="628.93" y1="419.44" y2="426.31"/>
<line x1="629.48" x2="629.48" y1="419.47" y2="426.32"/>
<line x1="630.04" x2="630.04" y1="419.52" y2="426.33"/>
<line x1="630.59" x2="630.59" y1="419.52" y2="426.33"/>
<line x1="631.14" x2="631.14" y1="419.54" y2="426.33"/>
<line x1="631.69" x2="631.69" y1="419.59" y2="426.34"/>
<line x1="632.24" x2="632.24" y1="419.59" y2="426.34"/>
<line x1="632.79" x2="632.79" y1="419.64" y2="426.35"/>
<line x1="633.34" x2="633.34" y1="419.64" y2="426.35"/>
<line x1="633.89" x2="633.89" y1="419.66" y2="426.35"/>
<line x1="634.44" x2="634.44" y1="419.69" y2="426.36"/>
<line x1="634.99" x2="634.99" y1="419.73" y2="426.37"/>
<line x1="635.54" x2="635.54" y1="419.73" y2="426.37"/>
<line x1="636.09" x2="636.09" y1="419.78" y2="426.37"/>
<line x1="636.64" x2="636.64" y1="419.78" y2="426.37"/>
<line x1="637.19" x2="637.19" y1="419.83" y2="426.38"/>
<line x1="637.74" x2="637.74" y1="419.85" y2="426.39"/>
<line x1="638.29" x2="638.29" y1="419.87" y2="426.39"/>
<line x1="638.85" x2="638.85" y1="419.87" y2="426.39"/>
<line x1="639.40" x2="639.40" y1="419.90" y2="426.39"/>
<line x1="639.95" x2="639.95" y1="419.94" y2="426.40"/>
<line x1="640.50" x2="640.50" y1="419.96" y2="426.40"/>
<line x1="641.05" x2="641.05" y1="419.96" y2="426.40"/>
<line x1="641.60" x2="641.60" y1="419.99" y2="426.41"/>
<line x1="642.15" x2="642.15" y1="420.01" y2="426.41"/>
<line x1="642.70" x2="642.70" y1="420.03" y2="426.42"/>
</g>
<g opacity="0.12" stroke="#00ff00" stroke-width="1.68">
<line x1="163.00" x2="163.00" y1="88.87" y2="163.70"/>
<line x1="163.00" x2="163.00" y1="91.35" y2="165.90"/>
<line x1="163.00" x2="163.00" y1="106.79" y2="179.49"/>
<line x1="163.00" x2="163.00" y1="125.24" y2="195.67"/>
<line x1="163.00" x2="163.00" y1="153.24" y2="220.10"/>
</g>
<g opacity="0.65" stroke="#00ff00" stroke-width="1.68">
<line x1="216.69" x2="216.69" y1="222.21" y2="279.39"/>
<line x1="216.63" x2="216.63" y1="228.80" y2="284.97"/>
<line x1="216.57" x2="216.57" y1="236.41" y2="291.40"/>
<line x1="216.51" x2="216.51" y1="244.04" y2="297.82"/>
<line x1="216.51" x2="216.51" y1="212.56" y2="269.26"/>
<line x1="216.98" x2="216.98" y1="214.00" y2="270.49"/>
<line x1="217.44" x2="217.44" y1="214.44" y2="270.87"/>
<line x1="217.91" x2="217.91" y1="216.05" y2="272.24"/>
<line x1="218.37" x2="218.37" y1="216.40" y2="272.55"/>
<line x1="218.84" x2="218.84" y1="217.38" y2="273.38"/>
<line x1="219.31" x2="219.31" y1="218.35" y2="274.21"/>
<line x1="219.77" x2="219.77" y1="220.27" y2="275.86"/>
<line x1="220.24" x2="220.24" y1="220.34" y2="275.91"/>
<line x1="220.70" x2="220.70" y1="222.36" y2="277.64"/>
<line x1="221.17" x2="221.17" y1="223.31" y2="278.45"/>
<line x1="221.63" x2="221.63" y1="224.25" y2="279.25"/>
<line x1="222.10" x2="222.10" y1="224.06" y2="279.09"/>
<line x1="222.56" x2="222.56" y1="226.12" y2="280.84"/>
<line x1="223.03" x2="223.03" y1="226.50" y2="281.17"/>
<line x1="223.49" x2="223.49" y1="227.52" y2="282.04"/>
<line x1="223.96" x2="223.96" y1="228.35" y2="282.75"/>
<line x1="224.43" x2="224.43" y1="229.57" y2="283.79"/>
<line x1="224.89" x2="224.89" y1="230.04" y2="284.18"/>
<line x1="225.36" x2="225.36" y1="230.53" y2="284.60"/>
<line x1="225.82" x2="225.82" y1="231.95" y2="285.81"/>
<line x1="226.29" x2="226.29" y1="232.59" y2="286.35"/>
<line x1="226.75" x2="226.75" y1="233.23" y2="286.90"/>
<line x1="227.22" x2="227.22" y1="234.76" y2="288.20"/>
<line x1="227.68" x2="227.68" y1="236.07" y2="289.31"/>
<line x1="228.15" x2="228.15" y1="236.72" y2="289.86"/>
<line x1="228.62" x2="228.62" y1="236.78" y2="289.91"/>
<line x1="229.08" x2="229.08" y1="238.70" y2="291.54"/>
<line x1="229.55" x2="229.55" y1="239.35" y2="292.10"/>
<line x1="230.01" x2="230.01" y1="239.39" y2="292.13"/>
<line x1="230.48" x2="230.48" y1="240.36" y2="292.95"/>
<line x1="230.94" x2="230.94" y1="241.62" y2="294.02"/>
<line x1="231.41" x2="231.41" y1="242.07" y2="294.39"/>
<line x1="231.87" x2="231.87" y1="243.24" y2="295.39"/>
<line x1="232.34" x2="232.34" y1="244.68" y2="296.60"/>
<line x1="232.80" x2="232.80" y1="245.51" y2="297.31"/>
<line x1="233.27" x2="233.27" y1="246.17" y2="297.86"/>
<line x1="233.74" x2="233.74" y1="246.22" y2="297.91"/>
<line x1="234.20" x2="234.20" y1="247.79" y2="299.23"/>
<line x1="234.67" x2="234.67" y1="248.78" y2="300.06"/>
<line x1="235.13" x2="235.13" y1="249.53" y2="300.70"/>
<line x1="235.60" x2="235.60" y1="250.46" y2="301.48"/>
<line x1="236.06" x2="236.06" y1="250.84" y2="301.80"/>
<line x1="236.53" x2="236.53" y1="252.07" y2="302.84"/>
<line x1="236.99" x2="236.99" y1="252.22" y2="302.96"/>
<line x1="237.46" x2="237.46" y1="253.67" y2="304.19"/>
<line x1="237.92" x2="237.92" y1="253.84" y2="304.32"/>
<line x1="238.39" x2="238.39" y1="255.09" y2="305.38"/>
<line x1="238.86" x2="238.86" y1="256.05" y2="306.18"/>
<line x1="239.32" x2="239.32" y1="256.02" y2="306.16"/>
<line x1="239.79" x2="239.79" y1="257.27" y2="307.21"/>
<line x1="240.25" x2="240.25" y1="258.38" y2="308.14"/>
<line x1="240.72" x2="240.72" y1="259.10" y2="308.74"/>
<line x1="241.18" x2="241.18" y1="259.33" y2="308.94"/>
<line x1="241.65" x2="241.65" y1="260.44" y2="309.87"/>
<line x1="242.11" x2="242.11" y1="260.64" y2="310.03"/>
<line x1="242.58" x2="242.58" y1="261.41" y2="310.68"/>
<line x1="243.04" x2="243.04" y1="262.21" y2="311.35"/>
<line x1="243.51" x2="243.51" y1="263.12" y2="312.11"/>
<line x1="243.98" x2="243.98" y1="263.56" y2="312.48"/>
<line x1="244.44" x2="244.44" y1="264.46" y2="313.23"/>
<line x1="244.91" x2="244.91" y1="265.30" y2="313.93"/>
<line x1="245.37" x2="245.37" y1="266.68" y2="315.08"/>
<line x1="245.84" x2="245.84" y1="266.58" y2="315.00"/>
<line x1="246.30" x2="246.30" y1="267.26" y2="315.57"/>
<line x1="246.77" x2="246.77" y1="268.56" y2="316.65"/>
<line x1="247.23" x2="247.23" y1="269.35" y2="317.32"/>
<line x1="247.70" x2="247.70" y1="269.44" y2="317.39"/>
<line x1="248.17" x2="248.17" y1="271.02" y2="318.70"/>
<line x1="248.63" x2="248.63" y1="271.10" y2="318.77"/>
<line x1="249.10" x2="249.10" y1="271.59" y2="319.18"/>
<line x1="249.56" x2="249.56" y1="273.11" y2="320.45"/>
<line x1="250.03" x2="250.03" y1="273.13" y2="320.46"/>
<line x1="250.49" x2="250.49" y1="273.70" y2="320.94"/>
<line x1="250.96" x2="250.96" y1="274.87" y2="321.91"/>
<line x1="251.42" x2="251.42" y1="275.28" y2="322.25"/>
<line x1="251.89" x2="251.89" y1="275.83" y2="322.70"/>
<line x1="252.35" x2="252.35" y1="277.26" y2="323.89"/>
<line x1="252.82" x2="252.82" y1="277.61" y2="324.18"/>
</g>
<g opacity="0.65" stroke="#00ff00" stroke-width="1.68">
<line x1="255.40" x2="255.40" y1="281.12" y2="327.09"/>
<line x1="255.88" x2="255.88" y1="281.83" y2="327.67"/>
<line x1="256.35" x2="256.35" y1="282.40" y2="328.14"/>
<line x1="256.82" x2="256.82" y1="283.24" y2="328.84"/>
<line x1="257.30" x2="257.30" y1="284.11" y2="329.56"/>
<line x1="257.77" x2="257.77" y1="284.34" y2="329.75"/>
<line x1="258.25" x2="258.25" y1="285.29" y2="330.53"/>
<line x1="258.73" x2="258.73" y1="286.28" y2="331.35"/>
<line x1="259.20" x2="259.20" y1="286.86" y2="331.82"/>
<line x1="259.68" x2="259.68" y1="287.27" y2="332.16"/>
<line x1="260.15" x2="260.15" y1="287.96" y2="332.72"/>
<line x1="260.62" x2="260.62" y1="288.50" y2="333.17"/>
<line x1="261.10" x2="261.10" y1="289.20" y2="333.75"/>
<line x1="261.57" x2="261.57" y1="289.77" y2="334.22"/>
<line x1="262.05" x2="262.05" y1="290.52" y2="334.83"/>
<line x1="262.52" x2="262.52" y1="291.47" y2="335.61"/>
</g>
<g opacity="0.12" stroke="#00ff00" stroke-width="1.68">
<line x1="300.32" x2="300.32" y1="340.23" y2="375.76"/>
<line x1="300.32" x2="300.32" y1="348.20" y2="381.83"/>
</g>
<g opacity="0.65" stroke="#00ff00" stroke-width="1.68">
<line x1="377.35" x2="377.35" y1="379.74" y2="405.71"/>
<line x1="377.82" x2="377.82" y1="380.16" y2="405.99"/>
<line x1="378.28" x2="378.28" y1="380.36" y2="406.12"/>
<line x1="378.75" x2="378.75" y1="380.32" y2="406.10"/>
<line x1="379.21" x2="379.21" y1="380.51" y2="406.23"/>
<line x1="379.68" x2="379.68" y1="380.94" y2="406.51"/>
<line x1="380.15" x2="380.15" y1="381.13" y2="406.63"/>
<line x1="380.61" x2="380.61" y1="381.11" y2="406.63"/>
<line x1="381.08" x2="381.08" y1="381.32" y2="406.76"/>
<line x1="381.54" x2="381.54" y1="381.69" y2="407.01"/>
<line x1="382.01" x2="382.01" y1="381.83" y2="407.10"/>
<line x1="382.48" x2="382.48" y1="382.07" y2="407.26"/>
<line x1="382.94" x2="382.94" y1="382.03" y2="407.23"/>
<line x1="383.41" x2="383.41" y1="382.36" y2="407.45"/>
<line x1="383.87" x2="383.87" y1="382.53" y2="407.56"/>
<line x1="384.34" x2="384.34" y1="382.79" y2="407.74"/>
<line x1="384.81" x2="384.81" y1="382.77" y2="407.72"/>
<line x1="385.27" x2="385.27" y1="382.95" y2="407.84"/>
<line x1="385.74" x2="385.74" y1="383.34" y2="408.10"/>
<line x1="386.20" x2="386.20" y1="383.31" y2="408.07"/>
<line x1="386.67" x2="386.67" y1="383.70" y2="408.33"/>
<line x1="387.14" x2="387.14" y1="383.75" y2="408.36"/>
<line x1="387.60" x2="387.60" y1="383.85" y2="408.42"/>
<line x1="388.07" x2="388.07" y1="384.02" y2="408.54"/>
<line x1="388.53" x2="388.53" y1="384.41" y2="408.79"/>
<line x1="389.00" x2="389.00" y1="384.50" y2="408.85"/>
<line x1="389.46" x2="389.46" y1="384.60" y2="408.91"/>
<line x1="389.93" x2="389.93" y1="384.93" y2="409.13"/>
<line x1="390.40" x2="390.40" y1="384.99" y2="409.17"/>
<line x1="390.86" x2="390.86" y1="385.27" y2="409.35"/>
<line x1="391.33" x2="391.33" y1="385.24" y2="409.33"/>
<line x1="391.79" x2="391.79" y1="385.61" y2="409.57"/>
<line x1="392.26" x2="392.26" y1="385.78" y2="409.68"/>
<line x1="392.73" x2="392.73" y1="385.84" y2="409.72"/>
<line x1="393.19" x2="393.19" y1="385.95" y2="409.79"/>
<line x1="393.66" x2="393.66" y1="386.29" y2="410.01"/>
<line x1="394.12" x2="394.12" y1="386.25" y2="409.98"/>
<line x1="394.59" x2="394.59" y1="386.59" y2="410.20"/>
<line x1="395.06" x2="395.06" y1="386.78" y2="410.32"/>
<line x1="395.52" x2="395.52" y1="386.75" y2="410.30"/>
<line x1="395.99" x2="395.99" y1="387.11" y2="410.53"/>
<line x1="396.45" x2="396.45" y1="387.27" y2="410.64"/>
<line x1="396.92" x2="396.92" y1="387.34" y2="410.68"/>
<line x1="397.39" x2="397.39" y1="387.40" y2="410.72"/>
<line x1="397.85" x2="397.85" y1="387.70" y2="410.91"/>
<line x1="398.32" x2="398.32" y1="387.74" y2="410.93"/>
<line x1="398.78" x2="398.78" y1="388.07" y2="411.15"/>
<line x1="399.25" x2="399.25" y1="388.06" y2="411.14"/>
<line x1="399.72" x2="399.72" y1="388.20" y2="411.23"/>
<line x1="400.18" x2="400.18" y1="388.54" y2="411.44"/>
<line x1="400.65" x2="400.65" y1="388.51" y2="411.42"/>
<line x1="401.11" x2="401.11" y1="388.85" y2="411.64"/>
<line x1="401.58" x2="401.58" y1="388.91" y2="411.68"/>
<line x1="402.05" x2="402.05" y1="389.03" y2="411.75"/>
<line x1="402.51" x2="402.51" y1="389.13" y2="411.81"/>
<line x1="402.98" x2="402.98" y1="389.47" y2="412.03"/>
<line x1="403.44" x2="403.44" y1="389.62" y2="412.12"/>
<line x1="403.91" x2="403.91" y1="389.59" y2="412.10"/>
<line x1="404.38" x2="404.38" y1="389.74" y2="412.20"/>
<line x1="404.84" x2="404.84" y1="389.89" y2="412.29"/>
<line x1="405.31" x2="405.31" y1="390.04" y2="412.38"/>
<line x1="405.77" x2="405.77" y1="390.23" y2="412.50"/>
<line x1="406.24" x2="406.24" y1="390.36" y2="412.59"/>
<line x1="406.71" x2="406.71" y1="390.48" y2="412.66"/>
<line x1="407.17" x2="407.17" y1="390.63" y2="412.75"/>
<line x1="407.64" x2="407.64" y1="390.78" y2="412.84"/>
<line x1="408.10" x2="408.10" y1="391.10" y2="413.04"/>
<line x1="408.57" x2="408.57" y1="391.24" y2="413.13"/>
<line x1="409.04" x2="409.04" y1="391.38" y2="413.22"/>
<line x1="409.50" x2="409.50" y1="391.36" y2="413.20"/>
<line x1="409.97" x2="409.97" y1="391.67" y2="413.40"/>
<line x1="410.43" x2="410.43" y1="391.64" y2="413.38"/>
<line x1="410.90" x2="410.90" y1="391.78" y2="413.47"/>
<line x1="411.36" x2="411.36" y1="392.01" y2="413.60"/>
<line x1="411.83" x2="411.83" y1="392.20" y2="413.72"/>
<line x1="412.30" x2="412.30" y1="392.37" y2="413.83"/>
<line x1="412.76" x2="412.76" y1="392.51" y2="413.91"/>
<line x1="413.23" x2="413.23" y1="392.65" y2="414.00"/>
<line x1="413.69" x2="413.69" y1="392.62" y2="413.98"/>
<line x1="414.16" x2="414.16" y1="392.83" y2="414.11"/>
<line x1="414.63" x2="414.63" y1="392.96" y2="414.19"/>
<line x1="415.09" x2="415.09" y1="393.15" y2="414.30"/>
<line x1="415.56" x2="415.56" y1="393.16" y2="414.31"/>
<line x1="416.02" x2="416.02" y1="393.30" y2="414.39"/>
<line x1="416.49" x2="416.49" y1="393.54" y2="414.54"/>
<line x1="416.96" x2="416.96" y1="393.57" y2="414.56"/>
<line x1="417.42" x2="417.42" y1="393.81" y2="414.70"/>
<line x1="417.89" x2="417.89" y1="393.99" y2="414.81"/>
<line x1="418.35" x2="418.35" y1="393.96" y2="414.80"/>
<line x1="418.82" x2="418.82" y1="394.10" y2="414.87"/>
<line x1="419.29" x2="419.29" y1="394.38" y2="415.05"/>
<line x1="419.75" x2="419.75" y1="394.36" y2="415.03"/>
<line x1="420.22" x2="420.22" y1="394.49" y2="415.11"/>
<line x1="420.68" x2="420.68" y1="394.77" y2="415.28"/>
<line x1="421.15" x2="421.15" y1="394.74" y2="415.26"/>
</g>
<g opacity="0.65" stroke="#00ff00" stroke-width="1.68">
<line x1="520.08" x2="520.08" y1="412.63" y2="424.10"/>
<line x1="521.15" x2="521.15" y1="412.80" y2="424.18"/>
<line x1="522.22" x2="522.22" y1="412.85" y2="424.20"/>
<line x1="523.29" x2="523.29" y1="413.02" y2="424.27"/>
<line x1="524.36" x2="524.36" y1="413.07" y2="424.29"/>
<line x1="525.43" x2="525.43" y1="413.18" y2="424.33"/>
<line x1="526.50" x2="526.50" y1="413.29" y2="424.38"/>
<line x1="527.58" x2="527.58" y1="413.45" y2="424.44"/>
</g>
<g opacity="0.65" stroke="#00ff00" stroke-width="1.68">
<line x1="599.20" x2="599.20" y1="418.68" y2="426.15"/>
<line x1="599.75" x2="599.75" y1="418.71" y2="426.16"/>
<line x1="600.30" x2="600.30" y1="418.71" y2="426.16"/>
<line x1="600.85" x2="600.85" y1="418.73" y2="426.17"/>
<line x1="601.40" x2="601.40" y1="418.76" y2="426.17"/>
<line x1="601.95" x2="601.95" y1="418.79" y2="426.18"/>
<line x1="602.50" x2="602.50" y1="418.85" y2="426.19"/>
<line x1="603.05" x2="603.05" y1="418.87" y2="426.20"/>
<line x1="603.61" x2="603.61" y1="418.87" y2="426.20"/>
<line x1="604.16" x2="604.16" y1="418.93" y2="426.21"/>
<line x1="604.71" x2="604.71" y1="418.96" y2="426.22"/>
<line x1="605.26" x2="605.26" y1="418.99" y2="426.22"/>
<line x1="605.81" x2="605.81" y1="418.98" y2="426.22"/>
<line x1="606.36" x2="606.36" y1="419.01" y2="426.23"/>
<line x1="606.91" x2="606.91" y1="419.07" y2="426.24"/>
<line x1="607.46" x2="607.46" y1="419.09" y2="426.24"/>
<line x1="608.01" x2="608.01" y1="419.09" y2="426.24"/>
<line x1="608.56" x2="608.56" y1="419.15" y2="426.26"/>
<line x1="609.11" x2="609.11" y1="419.15" y2="426.26"/>
<line x1="609.66" x2="609.66" y1="419.20" y2="426.27"/>
<line x1="610.21" x2="610.21" y1="419.23" y2="426.27"/>
<line x1="610.76" x2="610.76" y1="419.23" y2="426.27"/>
<line x1="611.31" x2="611.31" y1="419.28" y2="426.28"/>
<line x1="611.86" x2="611.86" y1="419.28" y2="426.28"/>
<line x1="612.42" x2="612.42" y1="419.32" y2="426.29"/>
<line x1="612.97" x2="612.97" y1="419.35" y2="426.30"/>
<line x1="613.52" x2="613.52" y1="419.35" y2="426.30"/>
<line x1="614.07" x2="614.07" y1="419.41" y2="426.31"/>
<line x1="614.62" x2="614.62" y1="419.43" y2="426.31"/>
<line x1="615.17" x2="615.17" y1="419.46" y2="426.32"/>
<line x1="615.72" x2="615.72" y1="419.48" y2="426.32"/>
<line x1="616.27" x2="616.27" y1="419.51" y2="426.33"/>
<line x1="616.82" x2="616.82" y1="419.52" y2="426.33"/>
<line x1="617.37" x2="617.37" y1="419.53" y2="426.33"/>
<line x1="617.92" x2="617.92" y1="419.55" y2="426.33"/>
<line x1="618.47" x2="618.47" y1="419.58" y2="426.34"/>
<line x1="619.02" x2="619.02" y1="419.63" y2="426.35"/>
<line x1="619.57" x2="619.57" y1="419.65" y2="426.35"/>
<line x1="620.12" x2="620.12" y1="419.68" y2="426.36"/>
<line x1="620.67" x2="620.67" y1="419.70" y2="426.36"/>
<line x1="621.23" x2="621.23" y1="419.70" y2="426.36"/>
<line x1="621.78" x2="621.78" y1="419.72" y2="426.37"/>
<line x1="622.33" x2="622.33" y1="419.77" y2="426.37"/>
<line x1="622.88" x2="622.88" y1="419.80" y2="426.38"/>
<line x1="623.43" x2="623.43" y1="419.80" y2="426.38"/>
<line x1="623.98" x2="623.98" y1="419.83" y2="426.38"/>
<line x1="624.53" x2="624.53" y1="419.84" y2="426.39"/>
<line x1="625.08" x2="625.08" y1="419.87" y2="426.39"/>
<line x1="625.63" x2="625.63" y1="419.89" y2="426.39"/>
<line x1="626.18" x2="626.18" y1="419.91" y2="426.40"/>
<line x1="626.73" x2="626.73" y1="419.96" y2="426.40"/>
<line x1="627.28" x2="627.28" y1="419.98" y2="426.41"/>
<line x1="627.83" x2="627.83" y1="420.00" y2="426.41"/>
<line x1="628.38" x2="628.38" y1="420.02" y2="426.41"/>
<line x1="628.93" x2="628.93" y1="420.02" y2="426.41"/>
<line x1="629.48" x2="629.48" y1="420.05" y2="426.42"/>
<line x1="630.04" x2="630.04" y1="420.08" y2="426.42"/>
<line x1="630.59" x2="630.59" y1="420.09" y2="426.42"/>
<line x1="631.14" x2="631.14" y1="420.11" y2="426.43"/>
<line x1="631.69" x2="631.69" y1="420.13" y2="426.43"/>
<line x1="632.24" x2="632.24" y1="420.16" y2="426.43"/>
<line x1="632.79" x2="632.79" y1="420.20" y2="426.44"/>
<line x1="633.34" x2="633.34" y1="420.22" y2="426.44"/>
<line x1="633.89" x2="633.89" y1="420.22" y2="426.44"/>
<line x1="634.44" x2="634.44" y1="420.24" y2="426.45"/>
<line x1="634.99" x2="634.99" y1="420.26" y2="426.45"/>
<line x1="635.54" x2="635.54" y1="420.31" y2="426.46"/>
<line x1="636.09" x2="636.09" y1="420.33" y2="426.46"/>
<line x1="636.64" x2="636.64" y1="420.35" y2="426.46"/>
<line x1="637.19" x2="637.19" y1="420.37" y2="426.46"/>
<line x1="637.74" x2="637.74" y1="420.37" y2="426.46"/>
<line x1="638.29" x2="638.29" y1="420.41" y2="426.47"/>
<line x1="638.85" x2="638.85" y1="420.42" y2="426.47"/>
<line x1="639.40" x2="639.40" y1="420.43" y2="426.47"/>
<line x1="639.95" x2="639.95" y1="420.45" y2="426.47"/>
<line x1="640.50" x2="640.50" y1="420.47" y2="426.48"/>
<line x1="641.05" x2="641.05" y1="420.51" y2="426.48"/>
<line x1="641.60" x2="641.60" y1="420.51" y2="426.48"/>
<line x1="642.15" x2="642.15" y1="420.53" y2="426.48"/>
<line x1="642.70" x2="642.70" y1="420.55" y2="426.49"/>
</g>
<rect x="158.00" y="85.24" width="10.00" height="10.00" fill="#0000ff" stroke="#000" stroke-width="1.68" stroke-linejoin="miter"/>
<rect x="158.00" y="89.92" width="10.00" height="10.00" fill="#0000ff" stroke="#000" stroke-width="1.68" stroke-linejoin="miter"/>
<rect x="158.00" y="94.60" width="10.00" height="10.00" fill="#0000ff" stroke="#000" stroke-width="1.68" stroke-linejoin="miter"/>
<rect x="158.00" y="98.82" width="10.00" height="10.00" fill="#0000ff" stroke="#000" stroke-width="1.68" stroke-linejoin="miter"/>
<rect x="211.51" y="230.35" width="10.00" height="10.00" fill="#0000ff" stroke="#000" stroke-width="1.68" stroke-linejoin="miter"/>
<rect x="211.51" y="235.27" width="10.00" height="10.00" fill="#0000ff" stroke="#000" stroke-width="1.68" stroke-linejoin="miter"/>
<rect x="211.57" y="232.69" width="10.00" height="10.00" fill="#0000ff" stroke="#000" stroke-width="1.68" stroke-linejoin="miter"/>
<rect x="211.98" y="236.15" width="10.00" height="10.00" fill="#0000ff" stroke="#000" stroke-width="1.68" stroke-linejoin="miter"/>
<rect x="212.44" y="236.96" width="10.00" height="10.00" fill="#0000ff" stroke="#000" stroke-width="1.68" stroke-linejoin="miter"/>
<rect x="212.91" y="237.24" width="10.00" height="10.00" fill="#0000ff" stroke="#000" stroke-width="1.68" stroke-linejoin="miter"/>
<rect x="213.37" y="238.69" width="10.00" height="10.00" fill="#0000ff" stroke="#000" stroke-width="1.68" stroke-linejoin="miter"/>
<rect x="213.84" y="239.65" width="10.00" height="10.00" fill="#0000ff" stroke="#000" stroke-width="1.68" stroke-linejoin="miter"/>
<rect x="214.31" y="240.53" width="10.00" height="10.00" fill="#0000ff" stroke="#000" stroke-width="1.68" stroke-linejoin="miter"/>
<rect x="214.77" y="242.57" width="10.00" height="10.00" fill="#0000ff" stroke="#000" stroke-width="1.68" stroke-linejoin="miter"/>
<rect x="215.24" y="241.93" width="10.00" height="10.00" fill="#0000ff" stroke="#000" stroke-width="1.68" stroke-linejoin="miter"/>
<rect x="215.70" y="243.00" width="10.00" height="10.00" fill="#0000ff" stroke="#000" stroke-width="1.68" stroke-linejoin="miter"/>
<rect x="216.17" y="244.11" width="10.00" height="10.00" fill="#0000ff" stroke="#000" stroke-width="1.68" stroke-linejoin="miter"/>
<rect x="216.63" y="246.30" width="10.00" height="10.00" fill="#0000ff" stroke="#000" stroke-width="1.68" stroke-linejoin="miter"/>
<rect x="217.10" y="246.47" width="10.00" height="10.00" fill="#0000ff" stroke="#000" stroke-width="1.68" stroke-linejoin="miter"/>
<rect x="217.56" y="246.57" width="10.00" height="10.00" fill="#0000ff" stroke="#000" stroke-width="1.68" stroke-linejoin="miter"/>
<rect x="218.03" y="248.81" width="10.00" height="10.00" fill="#0000ff" stroke="#000" stroke-width="1.68" stroke-linejoin="miter"/>
<rect x="218.49" y="248.83" width="10.00" height="10.00" fill="#0000ff" stroke="#000" stroke-width="1.68" stroke-linejoin="miter"/>
<rect x="218.96" y="249.07" width="10.00" height="10.00" fill="#0000ff" stroke="#000" stroke-width="1.68" stroke-linejoin="miter"/>
<rect x="219.43" y="251.11" width="10.00" height="10.00" fill="#0000ff" stroke="#000" stroke-width="1.68" stroke-linejoin="miter"/>
<rect x="219.89" y="250.47" width="10.00" height="10.00" fill="#0000ff" stroke="#000" stroke-width="1.68" stroke-linejoin="miter"/>
<rect x="220.36" y="251.86" width="10.00" height="10.00" fill="#0000ff" stroke="#000" stroke-width="1.68" stroke-linejoin="miter"/>
<rect x="220.82" y="253.05" width="10.00" height="10.00" fill="#0000ff" stroke="#000" stroke-width="1.68" stroke-linejoin="miter"/>
<rect x="221.29" y="253.65" width="10.00" height="10.00" fill="#0000ff" stroke="#000" stroke-width="1.68" stroke-linejoin="miter"/>
<rect x="221.75" y="254.32" width="10.00" height="10.00" fill="#0000ff" stroke="#000" stroke-width="1.68" stroke-linejoin="miter"/>
<rect x="222.22" y="255.41" width="10.00" height="10.00" fill="#0000ff" stroke="#000" stroke-width="1.68" stroke-linejoin="miter"/>
<rect x="222.68" y="255.73" width="10.00" height="10.00" fill="#0000ff" stroke="#000" stroke-width="1.68" stroke-linejoin="miter"/>
<rect x="223.15" y="257.43" width="10.00" height="10.00" fill="#0000ff" stroke="#000" stroke-width="1.68" stroke-linejoin="miter"/>
<rect x="223.62" y="258.13" width="10.00" height="10.00" fill="#0000ff" stroke="#000" stroke-width="1.68" stroke-linejoin="miter"/>
<rect x="224.08" y="258.23" width="10.00" height="10.00" fill="#0000ff" stroke="#000" stroke-width="1.68" stroke-linejoin="miter"/>
<rect x="224.55" y="259.53" width="10.00" height="10.00" fill="#0000ff" stroke="#000" stroke-width="1.68" stroke-linejoin="miter"/>
<rect x="225.01" y="260.77" width="10.00" height="10.00" fill="#0000ff" stroke="#000" stroke-width="1.68" stroke-linejoin="miter"/>
<rect x="225.48" y="260.69" width="10.00" height="10.00" fill="#0000ff" stroke="#000" stroke-width="1.68" stroke-linejoin="miter"/>
<rect x="225.94" y="261.24" width="10.00" height="10.00" fill="#0000ff" stroke="#000" stroke-width="1.68" stroke-linejoin="miter"/>
<rect x="226.41" y="262.94" width="10.00" height="10.00" fill="#0000ff" stroke="#000" stroke-width="1.68" stroke-linejoin="miter"/>
<rect x="226.87" y="264.17" width="10.00" height="10.00" fill="#0000ff" stroke="#000" stroke-width="1.68" stroke-linejoin="miter"/>
<rect x="227.34" y="264.36" width="10.00" height="10.00" fill="#0000ff" stroke="#000" stroke-width="1.68" stroke-linejoin="miter"/>
<rect x="227.80" y="265.15" width="10.00" height="10.00" fill="#0000ff" stroke="#000" stroke-width="1.68" stroke-linejoin="miter"/>
<rect x="228.27" y="265.99" width="10.00" height="10.00" fill="#0000ff" stroke="#000" stroke-width="1.68" stroke-linejoin="miter"/>
<rect x="228.74" y="265.98" width="10.00" height="10.00" fill="#0000ff" stroke="#000" stroke-width="1.68" stroke-linejoin="miter"/>
<rect x="229.20" y="267.86" width="10.00" height="10.00" fill="#0000ff" stroke="#000" stroke-width="1.68" stroke-linejoin="miter"/>
<rect x="229.67" y="267.58" width="10.00" height="10.00" fill="#0000ff" stroke="#000" stroke-width="1.68" stroke-linejoin="miter"/>
<rect x="230.13" y="269.49" width="10.00" height="10.00" fill="#0000ff" stroke="#000" stroke-width="1.68" stroke-linejoin="miter"/>
<rect x="230.60" y="270.03" width="10.00" height="10.00" fill="#0000ff" stroke="#000" stroke-width="1.68" stroke-linejoin="miter"/>
<rect x="231.06" y="270.14" width="10.00" height="10.00" fill="#0000ff" stroke="#000" stroke-width="1.68" stroke-linejoin="miter"/>
<rect x="231.53" y="270.67" width="10.00" height="10.00" fill="#0000ff" stroke="#000" stroke-width="1.68" stroke-linejoin="miter"/>
<rect x="231.99" y="271.53" width="10.00" height="10.00" fill="#0000ff" stroke="#000" stroke-width="1.68" stroke-linejoin="miter"/>
<rect x="232.46" y="272.50" width="10.00" height="10.00" fill="#0000ff" stroke="#000" stroke-width="1.68" stroke-linejoin="miter"/>
<rect x="232.92" y="273.33" width="10.00" height="10.00" fill="#0000ff" stroke="#000" stroke-width="1.68" stroke-linejoin="miter"/>
<rect x="233.39" y="274.06" width="10.00" height="10.00" fill="#0000ff" stroke="#000" stroke-width="1.68" stroke-linejoin="miter"/>
<rect x="233.86" y="274.61" width="10.00" height="10.00" fill="#0000ff" stroke="#000" stroke-width="1.68" stroke-linejoin="miter"/>
<rect x="234.32" y="275.66" width="10.00" height="10.00" fill="#0000ff" stroke="#000" stroke-width="1.68" stroke-linejoin="miter"/>
<rect x="234.79" y="276.19" width="10.00" height="10.00" fill="#0000ff" stroke="#000" stroke-width="1.68" stroke-linejoin="miter"/>
<rect x="235.25" y="276.78" width="10.00" height="10.00" fill="#0000ff" stroke="#000" stroke-width="1.68" stroke-linejoin="miter"/>
<rect x="235.72" y="277.74" width="10.00" height="10.00" fill="#0000ff" stroke="#000" stroke-width="1.68" stroke-linejoin="miter"/>
<rect x="236.18" y="278.13" width="10.00" height="10.00" fill="#0000ff" stroke="#000" stroke-width="1.68" stroke-linejoin="miter"/>
<rect x="236.65" y="278.92" width="10.00" height="10.00" fill="#0000ff" stroke="#000" stroke-width="1.68" stroke-linejoin="miter"/>
<rect x="237.11" y="279.02" width="10.00" height="10.00" fill="#0000ff" stroke="#000" stroke-width="1.68" stroke-linejoin="miter"/>
<rect x="237.58" y="280.43" width="10.00" height="10.00" fill="#0000ff" stroke="#000" stroke-width="1.68" stroke-linejoin="miter"/>
<rect x="238.04" y="281.44" width="10.00" height="10.00" fill="#0000ff" stroke="#000" stroke-width="1.68" stroke-linejoin="miter"/>
<rect x="238.51" y="282.11" width="10.00" height="10.00" fill="#0000ff" stroke="#000" stroke-width="1.68" stroke-linejoin="miter"/>
<rect x="238.98" y="282.65" width="10.00" height="10.00" fill="#0000ff" stroke="#000" stroke-width="1.68" stroke-linejoin="miter"/>
<rect x="239.44" y="282.96" width="10.00" height="10.00" fill="#0000ff" stroke="#000" stroke-width="1.68" stroke-linejoin="miter"/>
<rect x="239.91" y="284.16" width="10.00" height="10.00" fill="#0000ff" stroke="#000" stroke-width="1.68" stroke-linejoin="miter"/>
<rect x="240.37" y="284.54" width="10.00" height="10.00" fill="#0000ff" stroke="#000" stroke-width="1.68" stroke-linejoin="miter"/>
<rect x="240.84" y="284.63" width="10.00" height="10.00" fill="#0000ff" stroke="#000" stroke-width="1.68" stroke-linejoin="miter"/>
<rect x="241.30" y="287.09" width="10.00" height="10.00" fill="#0000ff" stroke="#000" stroke-width="1.68" stroke-linejoin="miter"/>
<rect x="241.77" y="287.17" width="10.00" height="10.00" fill="#0000ff" stroke="#000" stroke-width="1.68" stroke-linejoin="miter"/>
<rect x="242.23" y="287.29" width="10.00" height="10.00" fill="#0000ff" stroke="#000" stroke-width="1.68" stroke-linejoin="miter"/>
<rect x="242.70" y="287.89" width="10.00" height="10.00" fill="#0000ff" stroke="#000" stroke-width="1.68" stroke-linejoin="miter"/>
<rect x="243.17" y="288.62" width="10.00" height="10.00" fill="#0000ff" stroke="#000" stroke-width="1.68" stroke-linejoin="miter"/>
<rect x="243.63" y="289.54" width="10.00" height="10.00" fill="#0000ff" stroke="#000" stroke-width="1.68" stroke-linejoin="miter"/>
<rect x="244.10" y="289.77" width="10.00" height="10.00" fill="#0000ff" stroke="#000" stroke-width="1.68" stroke-linejoin="miter"/>
<rect x="244.56" y="290.57" width="10.00" height="10.00" fill="#0000ff" stroke="#000" stroke-width="1.68" stroke-linejoin="miter"/>
<rect x="245.03" y="291.52" width="10.00" height="10.00" fill="#0000ff" stroke="#000" stroke-width="1.68" stroke-linejoin="miter"/>
<rect x="245.49" y="291.03" width="10.00" height="10.00" fill="#0000ff" stroke="#000" stroke-width="1.68" stroke-linejoin="miter"/>
<rect x="245.96" y="292.47" width="10.00" height="10.00" fill="#0000ff" stroke="#000" stroke-width="1.68" stroke-linejoin="miter"/>
<rect x="246.42" y="293.46" width="10.00" height="10.00" fill="#0000ff" stroke="#000" stroke-width="1.68" stroke-linejoin="miter"/>
<rect x="246.89" y="293.92" width="10.00" height="10.00" fill="#0000ff" stroke="#000" stroke-width="1.68" stroke-linejoin="miter"/>
<rect x="247.35" y="294.60" width="10.00" height="10.00" fill="#0000ff" stroke="#000" stroke-width="1.68" stroke-linejoin="miter"/>
<rect x="247.82" y="295.16" width="10.00" height="10.00" fill="#0000ff" stroke="#000" stroke-width="1.68" stroke-linejoin="miter"/>
<rect x="250.40" y="297.95" width="10.00" height="10.00" fill="#0000ff" stroke="#000" stroke-width="1.68" stroke-linejoin="miter"/>
<rect x="250.88" y="299.03" width="10.00" height="10.00" fill="#0000ff" stroke="#000" stroke-width="1.68" stroke-linejoin="miter"/>
<rect x="251.35" y="299.83" width="10.00" height="10.00" fill="#0000ff" stroke="#000" stroke-width="1.68" stroke-linejoin="miter"/>
<rect x="251.82" y="300.23" width="10.00" height="10.00" fill="#0000ff" stroke="#000" stroke-width="1.68" stroke-linejoin="miter"/>
<rect x="252.30" y="301.72" width="10.00" height="10.00" fill="#0000ff" stroke="#000" stroke-width="1.68" stroke-linejoin="miter"/>
<rect x="252.77" y="301.27" width="10.00" height="10.00" fill="#0000ff" stroke="#000" stroke-width="1.68" stroke-linejoin="miter"/>
<rect x="253.25" y="302.12" width="10.00" height="10.00" fill="#0000ff" stroke="#000" stroke-width="1.68" stroke-linejoin="miter"/>
<rect x="253.73" y="303.09" width="10.00" height="10.00" fill="#0000ff" stroke="#000" stroke-width="1.68" stroke-linejoin="miter"/>
<rect x="254.20" y="302.97" width="10.00" height="10.00" fill="#0000ff" stroke="#000" stroke-width="1.68" stroke-linejoin="miter"/>
<rect x="254.68" y="303.40" width="10.00" height="10.00" fill="#0000ff" stroke="#000" stroke-width="1.68" stroke-linejoin="miter"/>
<rect x="255.15" y="305.11" width="10.00" height="10.00" fill="#0000ff" stroke="#000" stroke-width="1.68" stroke-linejoin="miter"/>
<rect x="255.62" y="305.45" width="10.00" height="10.00" fill="#0000ff" stroke="#000" stroke-width="1.68" stroke-linejoin="miter"/>
<rect x="256.10" y="305.70" width="10.00" height="10.00" fill="#0000ff" stroke="#000" stroke-width="1.68" stroke-linejoin="miter"/>
<rect x="256.57" y="306.32" width="10.00" height="10.00" fill="#0000ff" stroke="#000" stroke-width="1.68" stroke-linejoin="miter"/>
<rect x="257.05" y="307.10" width="10.00" height="10.00" fill="#0000ff" stroke="#000" stroke-width="1.68" stroke-linejoin="miter"/>
<rect x="257.52" y="307.87" width="10.00" height="10.00" fill="#0000ff" stroke="#000" stroke-width="1.68" stroke-linejoin="miter"/>
<rect x="295.32" y="345.97" width="10.00" height="10.00" fill="#0000ff" stroke="#000" stroke-width="1.68" stroke-linejoin="miter"/>
<rect x="372.35" y="388.05" width="10.00" height="10.00" fill="#0000ff" stroke="#000" stroke-width="1.68" stroke-linejoin="miter"/>
<rect x="372.82" y="388.09" width="10.00" height="10.00" fill="#0000ff" stroke="#000" stroke-width="1.68" stroke-linejoin="miter"/>
<rect x="373.28" y="388.78" width="10.00" height="10.00" fill="#0000ff" stroke="#000" stroke-width="1.68" stroke-linejoin="miter"/>
<rect x="373.75" y="388.85" width="10.00" height="10.00" fill="#0000ff" stroke="#000" stroke-width="1.68" stroke-linejoin="miter"/>
<rect x="374.21" y="388.70" width="10.00" height="10.00" fill="#0000ff" stroke="#000" stroke-width="1.68" stroke-linejoin="miter"/>
<rect x="374.68" y="388.90" width="10.00" height="10.00" fill="#0000ff" stroke="#000" stroke-width="1.68" stroke-linejoin="miter"/>
<rect x="375.15" y="389.09" width="10.00" height="10.00" fill="#0000ff" stroke="#000" stroke-width="1.68" stroke-linejoin="miter"/>
<rect x="375.61" y="389.18" width="10.00" height="10.00" fill="#0000ff" stroke="#000" stroke-width="1.68" stroke-linejoin="miter"/>
<rect x="376.08" y="389.51" width="10.00" height="10.00" fill="#0000ff" stroke="#000" stroke-width="1.68" stroke-linejoin="miter"/>
<rect x="376.54" y="389.30" width="10.00" height="10.00" fill="#0000ff" stroke="#000" stroke-width="1.68" stroke-linejoin="miter"/>
<rect x="377.01" y="389.55" width="10.00" height="10.00" fill="#0000ff" stroke="#000" stroke-width="1.68" stroke-linejoin="miter"/>
<rect x="377.48" y="389.81" width="10.00" height="10.00" fill="#0000ff" stroke="#000" stroke-width="1.68" stroke-linejoin="miter"/>
<rect x="377.94" y="390.10" width="10.00" height="10.00" fill="#0000ff" stroke="#000" stroke-width="1.68" stroke-linejoin="miter"/>
<rect x="378.41" y="390.13" width="10.00" height="10.00" fill="#0000ff" stroke="#000" stroke-width="1.68" stroke-linejoin="miter"/>
<rect x="378.87" y="390.90" width="10.00" height="10.00" fill="#0000ff" stroke="#000" stroke-width="1.68" stroke-linejoin="miter"/>
<rect x="379.34" y="390.63" width="10.00" height="10.00" fill="#0000ff" stroke="#000" stroke-width="1.68" stroke-linejoin="miter"/>
<rect x="379.81" y="390.53" width="10.00" height="10.00" fill="#0000ff" stroke="#000" stroke-width="1.68" stroke-linejoin="miter"/>
<rect x="380.27" y="391.05" width="10.00" height="10.00" fill="#0000ff" stroke="#000" stroke-width="1.68" stroke-linejoin="miter"/>
<rect x="380.74" y="390.79" width="10.00" height="10.00" fill="#0000ff" stroke="#000" stroke-width="1.68" stroke-linejoin="miter"/>
<rect x="381.20" y="390.95" width="10.00" height="10.00" fill="#0000ff" stroke="#000" stroke-width="1.68" stroke-linejoin="miter"/>
<rect x="381.67" y="391.46" width="10.00" height="10.00" fill="#0000ff" stroke="#000" stroke-width="1.68" stroke-linejoin="miter"/>
<rect x="382.14" y="391.34" width="10.00" height="10.00" fill="#0000ff" stroke="#000" stroke-width="1.68" stroke-linejoin="miter"/>
<rect x="382.60" y="391.50" width="10.00" height="10.00" fill="#0000ff" stroke="#000" stroke-width="1.68" stroke-linejoin="miter"/>
<rect x="383.07" y="391.47" width="10.00" height="10.00" fill="#0000ff" stroke="#000" stroke-width="1.68" stroke-linejoin="miter"/>
<rect x="383.53" y="391.58" width="10.00" height="10.00" fill="#0000ff" stroke="#000" stroke-width="1.68" stroke-linejoin="miter"/>
<rect x="384.00" y="391.87" width="10.00" height="10.00" fill="#0000ff" stroke="#000" stroke-width="1.68" stroke-linejoin="miter"/>
<rect x="384.46" y="392.19" width="10.00" height="10.00" fill="#0000ff" stroke="#000" stroke-width="1.68" stroke-linejoin="miter"/>
<rect x="384.93" y="392.18" width="10.00" height="10.00" fill="#0000ff" stroke="#000" stroke-width="1.68" stroke-linejoin="miter"/>
<rect x="385.40" y="392.30" width="10.00" height="10.00" fill="#0000ff" stroke="#000" stroke-width="1.68" stroke-linejoin="miter"/>
<rect x="385.86" y="392.26" width="10.00" height="10.00" fill="#0000ff" stroke="#000" stroke-width="1.68" stroke-linejoin="miter"/>
<rect x="386.33" y="392.50" width="10.00" height="10.00" fill="#0000ff" stroke="#000" stroke-width="1.68" stroke-linejoin="miter"/>
<rect x="386.79" y="392.86" width="10.00" height="10.00" fill="#0000ff" stroke="#000" stroke-width="1.68" stroke-linejoin="miter"/>
<rect x="387.26" y="393.14" width="10.00" height="10.00" fill="#0000ff" stroke="#000" stroke-width="1.68" stroke-linejoin="miter"/>
<rect x="387.73" y="393.06" width="10.00" height="10.00" fill="#0000ff" stroke="#000" stroke-width="1.68" stroke-linejoin="miter"/>
<rect x="388.19" y="393.28" width="10.00" height="10.00" fill="#0000ff" stroke="#000" stroke-width="1.68" stroke-linejoin="miter"/>
<rect x="388.66" y="393.49" width="10.00" height="10.00" fill="#0000ff" stroke="#000" stroke-width="1.68" stroke-linejoin="miter"/>
<rect x="389.12" y="393.41" width="10.00" height="10.00" fill="#0000ff" stroke="#000" stroke-width="1.68" stroke-linejoin="miter"/>
<rect x="389.59" y="393.63" width="10.00" height="10.00" fill="#0000ff" stroke="#000" stroke-width="1.68" stroke-linejoin="miter"/>
<rect x="390.06" y="393.64" width="10.00" height="10.00" fill="#0000ff" stroke="#000" stroke-width="1.68" stroke-linejoin="miter"/>
<rect x="390.52" y="393.68" width="10.00" height="10.00" fill="#0000ff" stroke="#000" stroke-width="1.68" stroke-linejoin="miter"/>
<rect x="390.99" y="394.01" width="10.00" height="10.00" fill="#0000ff" stroke="#000" stroke-width="1.68" stroke-linejoin="miter"/>
<rect x="391.45" y="393.57" width="10.00" height="10.00" fill="#0000ff" stroke="#000" stroke-width="1.68" stroke-linejoin="miter"/>
<rect x="391.92" y="394.26" width="10.00" height="10.00" fill="#0000ff" stroke="#000" stroke-width="1.68" stroke-linejoin="miter"/>
<rect x="392.39" y="394.09" width="10.00" height="10.00" fill="#0000ff" stroke="#000" stroke-width="1.68" stroke-linejoin="miter"/>
<rect x="392.85" y="394.42" width="10.00" height="10.00" fill="#0000ff" stroke="#000" stroke-width="1.68" stroke-linejoin="miter"/>
<rect x="393.32" y="394.35" width="10.00" height="10.00" fill="#0000ff" stroke="#000" stroke-width="1.68" stroke-linejoin="miter"/>
<rect x="393.78" y="395.20" width="10.00" height="10.00" fill="#0000ff" stroke="#000" stroke-width="1.68" stroke-linejoin="miter"/>
<rect x="394.25" y="394.99" width="10.00" height="10.00" fill="#0000ff" stroke="#000" stroke-width="1.68" stroke-linejoin="miter"/>
<rect x="394.72" y="394.91" width="10.00" height="10.00" fill="#0000ff" stroke="#000" stroke-width="1.68" stroke-linejoin="miter"/>
<rect x="395.18" y="394.97" width="10.00" height="10.00" fill="#0000ff" stroke="#000" stroke-width="1.68" stroke-linejoin="miter"/>
<rect x="395.65" y="394.75" width="10.00" height="10.00" fill="#0000ff" stroke="#000" stroke-width="1.68" stroke-linejoin="miter"/>
<rect x="396.11" y="395.28" width="10.00" height="10.00" fill="#0000ff" stroke="#000" stroke-width="1.68" stroke-linejoin="miter"/>
<rect x="396.58" y="395.21" width="10.00" height="10.00" fill="#0000ff" stroke="#000" stroke-width="1.68" stroke-linejoin="miter"/>
<rect x="397.05" y="395.44" width="10.00" height="10.00" fill="#0000ff" stroke="#000" stroke-width="1.68" stroke-linejoin="miter"/>
<rect x="397.51" y="395.53" width="10.00" height="10.00" fill="#0000ff" stroke="#000" stroke-width="1.68" stroke-linejoin="miter"/>
<rect x="397.98" y="395.74" width="10.00" height="10.00" fill="#0000ff" stroke="#000" stroke-width="1.68" stroke-linejoin="miter"/>
<rect x="398.44" y="395.99" width="10.00" height="10.00" fill="#0000ff" stroke="#000" stroke-width="1.68" stroke-linejoin="miter"/>
<rect x="398.91" y="395.99" width="10.00" height="10.00" fill="#0000ff" stroke="#000" stroke-width="1.68" stroke-linejoin="miter"/>
<rect x="399.38" y="396.41" width="10.00" height="10.00" fill="#0000ff" stroke="#000" stroke-width="1.68" stroke-linejoin="miter"/>
<rect x="399.84" y="396.10" width="10.00" height="10.00" fill="#0000ff" stroke="#000" stroke-width="1.68" stroke-linejoin="miter"/>
<rect x="400.31" y="396.64" width="10.00" height="10.00" fill="#0000ff" stroke="#000" stroke-width="1.68" stroke-linejoin="miter"/>
<rect x="400.77" y="396.52" width="10.00" height="10.00" fill="#0000ff" stroke="#000" stroke-width="1.68" stroke-linejoin="miter"/>
<rect x="401.24" y="396.28" width="10.00" height="10.00" fill="#0000ff" stroke="#000" stroke-width="1.68" stroke-linejoin="miter"/>
<rect x="401.71" y="396.85" width="10.00" height="10.00" fill="#0000ff" stroke="#000" stroke-width="1.68" stroke-linejoin="miter"/>
<rect x="402.17" y="396.92" width="10.00" height="10.00" fill="#0000ff" stroke="#000" stroke-width="1.68" stroke-linejoin="miter"/>
<rect x="402.64" y="396.82" width="10.00" height="10.00" fill="#0000ff" stroke="#000" stroke-width="1.68" stroke-linejoin="miter"/>
<rect x="403.10" y="397.15" width="10.00" height="10.00" fill="#0000ff" stroke="#000" stroke-width="1.68" stroke-linejoin="miter"/>
<rect x="403.57" y="397.42" width="10.00" height="10.00" fill="#0000ff" stroke="#000" stroke-width="1.68" stroke-linejoin="miter"/>
<rect x="404.04" y="397.34" width="10.00" height="10.00" fill="#0000ff" stroke="#000" stroke-width="1.68" stroke-linejoin="miter"/>
<rect x="404.50" y="397.40" width="10.00" height="10.00" fill="#0000ff" stroke="#000" stroke-width="1.68" stroke-linejoin="miter"/>
<rect x="404.97" y="397.49" width="10.00" height="10.00" fill="#0000ff" stroke="#000" stroke-width="1.68" stroke-linejoin="miter"/>
<rect x="405.43" y="397.87" width="10.00" height="10.00" fill="#0000ff" stroke="#000" stroke-width="1.68" stroke-linejoin="miter"/>
<rect x="405.90" y="397.53" width="10.00" height="10.00" fill="#0000ff" stroke="#000" stroke-width="1.68" stroke-linejoin="miter"/>
<rect x="406.36" y="397.66" width="10.00" height="10.00" fill="#0000ff" stroke="#000" stroke-width="1.68" stroke-linejoin="miter"/>
<rect x="406.83" y="398.07" width="10.00" height="10.00" fill="#0000ff" stroke="#000" stroke-width="1.68" stroke-linejoin="miter"/>
<rect x="407.30" y="398.13" width="10.00" height="10.00" fill="#0000ff" stroke="#000" stroke-width="1.68" stroke-linejoin="miter"/>
<rect x="407.76" y="398.37" width="10.00" height="10.00" fill="#0000ff" stroke="#000" stroke-width="1.68" stroke-linejoin="miter"/>
<rect x="408.23" y="398.15" width="10.00" height="10.00" fill="#0000ff" stroke="#000" stroke-width="1.68" stroke-linejoin="miter"/>
<rect x="408.69" y="398.64" width="10.00" height="10.00" fill="#0000ff" stroke="#000" stroke-width="1.68" stroke-linejoin="miter"/>
<rect x="409.16" y="398.50" width="10.00" height="10.00" fill="#0000ff" stroke="#000" stroke-width="1.68" stroke-linejoin="miter"/>
<rect x="409.63" y="398.81" width="10.00" height="10.00" fill="#0000ff" stroke="#000" stroke-width="1.68" stroke-linejoin="miter"/>
<rect x="410.09" y="398.96" width="10.00" height="10.00" fill="#0000ff" stroke="#000" stroke-width="1.68" stroke-linejoin="miter"/>
<rect x="410.56" y="398.82" width="10.00" height="10.00" fill="#0000ff" stroke="#000" stroke-width="1.68" stroke-linejoin="miter"/>
<rect x="411.02" y="398.83" width="10.00" height="10.00" fill="#0000ff" stroke="#000" stroke-width="1.68" stroke-linejoin="miter"/>
<rect x="411.49" y="399.16" width="10.00" height="10.00" fill="#0000ff" stroke="#000" stroke-width="1.68" stroke-linejoin="miter"/>
<rect x="411.96" y="399.38" width="10.00" height="10.00" fill="#0000ff" stroke="#000" stroke-width="1.68" stroke-linejoin="miter"/>
<rect x="412.42" y="399.23" width="10.00" height="10.00" fill="#0000ff" stroke="#000" stroke-width="1.68" stroke-linejoin="miter"/>
<rect x="412.89" y="399.48" width="10.00" height="10.00" fill="#0000ff" stroke="#000" stroke-width="1.68" stroke-linejoin="miter"/>
<rect x="413.35" y="399.53" width="10.00" height="10.00" fill="#0000ff" stroke="#000" stroke-width="1.68" stroke-linejoin="miter"/>
<rect x="413.82" y="399.43" width="10.00" height="10.00" fill="#0000ff" stroke="#000" stroke-width="1.68" stroke-linejoin="miter"/>
<rect x="414.29" y="399.60" width="10.00" height="10.00" fill="#0000ff" stroke="#000" stroke-width="1.68" stroke-linejoin="miter"/>
<rect x="414.75" y="399.98" width="10.00" height="10.00" fill="#0000ff" stroke="#000" stroke-width="1.68" stroke-linejoin="miter"/>
<rect x="415.22" y="399.62" width="10.00" height="10.00" fill="#0000ff" stroke="#000" stroke-width="1.68" stroke-linejoin="miter"/>
<rect x="415.68" y="400.10" width="10.00" height="10.00" fill="#0000ff" stroke="#000" stroke-width="1.68" stroke-linejoin="miter"/>
<rect x="416.15" y="400.07" width="10.00" height="10.00" fill="#0000ff" stroke="#000" stroke-width="1.68" stroke-linejoin="miter"/>
<rect x="515.08" y="412.99" width="10.00" height="10.00" fill="#0000ff" stroke="#000" stroke-width="1.68" stroke-linejoin="miter"/>
<rect x="516.15" y="413.15" width="10.00" height="10.00" fill="#0000ff" stroke="#000" stroke-width="1.68" stroke-linejoin="miter"/>
<rect x="517.22" y="413.07" width="10.00" height="10.00" fill="#0000ff" stroke="#000" stroke-width="1.68" stroke-linejoin="miter"/>
<rect x="518.29" y="413.45" width="10.00" height="10.00" fill="#0000ff" stroke="#000" stroke-width="1.68" stroke-linejoin="miter"/>
<rect x="519.36" y="413.43" width="10.00" height="10.00" fill="#0000ff" stroke="#000" stroke-width="1.68" stroke-linejoin="miter"/>
<rect x="520.43" y="414.09" width="10.00" height="10.00" fill="#0000ff" stroke="#000" stroke-width="1.68" stroke-linejoin="miter"/>
<rect x="521.50" y="413.70" width="10.00" height="10.00" fill="#0000ff" stroke="#000" stroke-width="1.68" stroke-linejoin="miter"/>
<rect x="522.58" y="413.48" width="10.00" height="10.00" fill="#0000ff" stroke="#000" stroke-width="1.68" stroke-linejoin="miter"/>
<rect x="594.20" y="417.25" width="10.00" height="10.00" fill="#0000ff" stroke="#000" stroke-width="1.68" stroke-linejoin="miter"/>
<rect x="595.30" y="417.25" width="10.00" height="10.00" fill="#0000ff" stroke="#000" stroke-width="1.68" stroke-linejoin="miter"/>
<rect x="596.40" y="417.36" width="10.00" height="10.00" fill="#0000ff" stroke="#000" stroke-width="1.68" stroke-linejoin="miter"/>
<rect x="597.50" y="417.45" width="10.00" height="10.00" fill="#0000ff" stroke="#000" stroke-width="1.68" stroke-linejoin="miter"/>
<rect x="598.61" y="417.29" width="10.00" height="10.00" fill="#0000ff" stroke="#000" stroke-width="1.68" stroke-linejoin="miter"/>
<rect x="599.71" y="417.50" width="10.00" height="10.00" fill="#0000ff" stroke="#000" stroke-width="1.68" stroke-linejoin="miter"/>
<rect x="600.81" y="417.53" width="10.00" height="10.00" fill="#0000ff" stroke="#000" stroke-width="1.68" stroke-linejoin="miter"/>
<rect x="601.91" y="417.48" width="10.00" height="10.00" fill="#0000ff" stroke="#000" stroke-width="1.68" stroke-linejoin="miter"/>
<rect x="603.01" y="417.50" width="10.00" height="10.00" fill="#0000ff" stroke="#000" stroke-width="1.68" stroke-linejoin="miter"/>
<rect x="604.11" y="417.73" width="10.00" height="10.00" fill="#0000ff" stroke="#000" stroke-width="1.68" stroke-linejoin="miter"/>
<rect x="605.21" y="417.67" width="10.00" height="10.00" fill="#0000ff" stroke="#000" stroke-width="1.68" stroke-linejoin="miter"/>
<rect x="606.31" y="417.55" width="10.00" height="10.00" fill="#0000ff" stroke="#000" stroke-width="1.68" stroke-linejoin="miter"/>
<rect x="607.42" y="417.78" width="10.00" height="10.00" fill="#0000ff" stroke="#000" stroke-width="1.68" stroke-linejoin="miter"/>
<rect x="608.52" y="417.84" width="10.00" height="10.00" fill="#0000ff" stroke="#000" stroke-width="1.68" stroke-linejoin="miter"/>
<rect x="609.62" y="417.82" width="10.00" height="10.00" fill="#0000ff" stroke="#000" stroke-width="1.68" stroke-linejoin="miter"/>
<rect x="610.72" y="417.87" width="10.00" height="10.00" fill="#0000ff" stroke="#000" stroke-width="1.68" stroke-linejoin="miter"/>
<rect x="611.82" y="417.53" width="10.00" height="10.00" fill="#0000ff" stroke="#000" stroke-width="1.68" stroke-linejoin="miter"/>
<rect x="612.92" y="417.90" width="10.00" height="10.00" fill="#0000ff" stroke="#000" stroke-width="1.68" stroke-linejoin="miter"/>
<rect x="614.02" y="417.89" width="10.00" height="10.00" fill="#0000ff" stroke="#000" stroke-width="1.68" stroke-linejoin="miter"/>
<rect x="615.12" y="417.64" width="10.00" height="10.00" fill="#0000ff" stroke="#000" stroke-width="1.68" stroke-linejoin="miter"/>
<rect x="616.23" y="418.14" width="10.00" height="10.00" fill="#0000ff" stroke="#000" stroke-width="1.68" stroke-linejoin="miter"/>
<rect x="617.33" y="418.17" width="10.00" height="10.00" fill="#0000ff" stroke="#000" stroke-width="1.68" stroke-linejoin="miter"/>
<rect x="618.43" y="418.06" width="10.00" height="10.00" fill="#0000ff" stroke="#000" stroke-width="1.68" stroke-linejoin="miter"/>
<rect x="619.53" y="417.87" width="10.00" height="10.00" fill="#0000ff" stroke="#000" stroke-width="1.68" stroke-linejoin="miter"/>
<rect x="620.63" y="418.21" width="10.00" height="10.00" fill="#0000ff" stroke="#000" stroke-width="1.68" stroke-linejoin="miter"/>
<rect x="621.73" y="417.94" width="10.00" height="10.00" fill="#0000ff" stroke="#000" stroke-width="1.68" stroke-linejoin="miter"/>
<rect x="622.83" y="418.20" width="10.00" height="10.00" fill="#0000ff" stroke="#000" stroke-width="1.68" stroke-linejoin="miter"/>
<rect x="623.93" y="418.08" width="10.00" height="10.00" fill="#0000ff" stroke="#000" stroke-width="1.68" stroke-linejoin="miter"/>
<rect x="625.04" y="418.41" width="10.00" height="10.00" fill="#0000ff" stroke="#000" stroke-width="1.68" stroke-linejoin="miter"/>
<rect x="626.14" y="418.09" width="10.00" height="10.00" fill="#0000ff" stroke="#000" stroke-width="1.68" stroke-linejoin="miter"/>
<rect x="627.24" y="418.11" width="10.00" height="10.00" fill="#0000ff" stroke="#000" stroke-width="1.68" stroke-linejoin="miter"/>
<rect x="628.34" y="418.22" width="10.00" height="10.00" fill="#0000ff" stroke="#000" stroke-width="1.68" stroke-linejoin="miter"/>
<rect x="629.44" y="417.99" width="10.00" height="10.00" fill="#0000ff" stroke="#000" stroke-width="1.68" stroke-linejoin="miter"/>
<rect x="630.54" y="418.32" width="10.00" height="10.00" fill="#0000ff" stroke="#000" stroke-width="1.68" stroke-linejoin="miter"/>
<rect x="631.64" y="418.22" width="10.00" height="10.00" fill="#0000ff" stroke="#000" stroke-width="1.68" stroke-linejoin="miter"/>
<rect x="632.74" y="418.22" width="10.00" height="10.00" fill="#0000ff" stroke="#000" stroke-width="1.68" stroke-linejoin="miter"/>
<rect x="633.85" y="418.33" width="10.00" height="10.00" fill="#0000ff" stroke="#000" stroke-width="1.68" stroke-linejoin="miter"/>
<rect x="634.95" y="418.37" width="10.00" height="10.00" fill="#0000ff" stroke="#000" stroke-width="1.68" stroke-linejoin="miter"/>
<rect x="636.05" y="418.57" width="10.00" height="10.00" fill="#0000ff" stroke="#000" stroke-width="1.68" stroke-linejoin="miter"/>
<rect x="637.15" y="418.40" width="10.00" height="10.00" fill="#0000ff" stroke="#000" stroke-width="1.68" stroke-linejoin="miter"/>
<rect x="637.70" y="418.50" width="10.00" height="10.00" fill="#0000ff" stroke="#000" stroke-width="1.68" stroke-linejoin="miter"/>
<path d="M163.00,55.75L158.00,65.75L168.00,65.75Z" fill="#ffa500" stroke="#000" stroke-width="1.68" stroke-linejoin="miter"/>
<path d="M163.00,59.03L158.00,69.03L168.00,69.03Z" fill="#ffa500" stroke="#000" stroke-width="1.68" stroke-linejoin="miter"/>
<path d="M163.00,62.77L158.00,72.77L168.00,72.77Z" fill="#ffa500" stroke="#000" stroke-width="1.68" stroke-linejoin="miter"/>
<path d="M163.00,66.52L158.00,76.52L168.00,76.52Z" fill="#ffa500" stroke="#000" stroke-width="1.68" stroke-linejoin="miter"/>
<path d="M216.51,221.46L211.51,231.46L221.51,231.46Z" fill="#ffa500" stroke="#000" stroke-width="1.68" stroke-linejoin="miter"/>
<path d="M216.51,230.87L211.51,240.87L221.51,240.87Z" fill="#ffa500" stroke="#000" stroke-width="1.68" stroke-linejoin="miter"/>
<path d="M216.57,223.80L211.57,233.80L221.57,233.80Z" fill="#ffa500" stroke="#000" stroke-width="1.68" stroke-linejoin="miter"/>
<path d="M216.98,230.53L211.98,240.53L221.98,240.53Z" fill="#ffa500" stroke="#000" stroke-width="1.68" stroke-linejoin="miter"/>
<path d="M217.44,230.62L212.44,240.62L222.44,240.62Z" fill="#ffa500" stroke="#000" stroke-width="1.68" stroke-linejoin="miter"/>
<path d="M217.91,232.78L212.91,242.78L222.91,242.78Z" fill="#ffa500" stroke="#000" stroke-width="1.68" stroke-linejoin="miter"/>
<path d="M218.37,233.09L213.37,243.09L223.37,243.09Z" fill="#ffa500" stroke="#000" stroke-width="1.68" stroke-linejoin="miter"/>
<path d="M218.84,233.44L213.84,243.44L223.84,243.44Z" fill="#ffa500" stroke="#000" stroke-width="1.68" stroke-linejoin="miter"/>
<path d="M219.31,234.42L214.31,244.42L224.31,244.42Z" fill="#ffa500" stroke="#000" stroke-width="1.68" stroke-linejoin="miter"/>
<path d="M219.77,234.99L214.77,244.99L224.77,244.99Z" fill="#ffa500" stroke="#000" stroke-width="1.68" stroke-linejoin="miter"/>
<path d="M220.24,237.66L215.24,247.66L225.24,247.66Z" fill="#ffa500" stroke="#000" stroke-width="1.68" stroke-linejoin="miter"/>
<path d="M220.70,237.82L215.70,247.82L225.70,247.82Z" fill="#ffa500" stroke="#000" stroke-width="1.68" stroke-linejoin="miter"/>
<path d="M221.17,238.72L216.17,248.72L226.17,248.72Z" fill="#ffa500" stroke="#000" stroke-width="1.68" stroke-linejoin="miter"/>
<path d="M221.63,239.09L216.63,249.09L226.63,249.09Z" fill="#ffa500" stroke="#000" stroke-width="1.68" stroke-linejoin="miter"/>
<path d="M222.10,239.73L217.10,249.73L227.10,249.73Z" fill="#ffa500" stroke="#000" stroke-width="1.68" stroke-linejoin="miter"/>
<path d="M222.56,242.65L217.56,252.65L227.56,252.65Z" fill="#ffa500" stroke="#000" stroke-width="1.68" stroke-linejoin="miter"/>
<path d="M223.03,241.51L218.03,251.51L228.03,251.51Z" fill="#ffa500" stroke="#000" stroke-width="1.68" stroke-linejoin="miter"/>
<path d="M223.49,243.75L218.49,253.75L228.49,253.75Z" fill="#ffa500" stroke="#000" stroke-width="1.68" stroke-linejoin="miter"/>
<path d="M223.96,243.49L218.96,253.49L228.96,253.49Z" fill="#ffa500" stroke="#000" stroke-width="1.68" stroke-linejoin="miter"/>
<path d="M224.43,245.51L219.43,255.51L229.43,255.51Z" fill="#ffa500" stroke="#000" stroke-width="1.68" stroke-linejoin="miter"/>
<path d="M224.89,245.50L219.89,255.50L229.89,255.50Z" fill="#ffa500" stroke="#000" stroke-width="1.68" stroke-linejoin="miter"/>
<path d="M225.36,245.83L220.36,255.83L230.36,255.83Z" fill="#ffa500" stroke="#000" stroke-width="1.68" stroke-linejoin="miter"/>
<path d="M225.82,247.39L220.82,257.39L230.82,257.39Z" fill="#ffa500" stroke="#000" stroke-width="1.68" stroke-linejoin="miter"/>
<path d="M226.29,248.06L221.29,258.06L231.29,258.06Z" fill="#ffa500" stroke="#000" stroke-width="1.68" stroke-linejoin="miter"/>
<path d="M226.75,248.60L221.75,258.60L231.75,258.60Z" fill="#ffa500" stroke="#000" stroke-width="1.68" stroke-linejoin="miter"/>
<path d="M227.22,249.79L222.22,259.79L232.22,259.79Z" fill="#ffa500" stroke="#000" stroke-width="1.68" stroke-linejoin="miter"/>
<path d="M227.68,250.75L222.68,260.75L232.68,260.75Z" fill="#ffa500" stroke="#000" stroke-width="1.68" stroke-linejoin="miter"/>
<path d="M228.15,250.76L223.15,260.76L233.15,260.76Z" fill="#ffa500" stroke="#000" stroke-width="1.68" stroke-linejoin="miter"/>
<path d="M228.62,251.84L223.62,261.84L233.62,261.84Z" fill="#ffa500" stroke="#000" stroke-width="1.68" stroke-linejoin="miter"/>
<path d="M229.08,253.35L224.08,263.35L234.08,263.35Z" fill="#ffa500" stroke="#000" stroke-width="1.68" stroke-linejoin="miter"/>
<path d="M229.55,252.65L224.55,262.65L234.55,262.65Z" fill="#ffa500" stroke="#000" stroke-width="1.68" stroke-linejoin="miter"/>
<path d="M230.01,255.42L225.01,265.42L235.01,265.42Z" fill="#ffa500" stroke="#000" stroke-width="1.68" stroke-linejoin="miter"/>
<path d="M230.48,255.21L225.48,265.21L235.48,265.21Z" fill="#ffa500" stroke="#000" stroke-width="1.68" stroke-linejoin="miter"/>
<path d="M230.94,256.61L225.94,266.61L235.94,266.61Z" fill="#ffa500" stroke="#000" stroke-width="1.68" stroke-linejoin="miter"/>
<path d="M231.41,257.22L226.41,267.22L236.41,267.22Z" fill="#ffa500" stroke="#000" stroke-width="1.68" stroke-linejoin="miter"/>
<path d="M231.87,257.75L226.87,267.75L236.87,267.75Z" fill="#ffa500" stroke="#000" stroke-width="1.68" stroke-linejoin="miter"/>
<path d="M232.34,258.78L227.34,268.78L237.34,268.78Z" fill="#ffa500" stroke="#000" stroke-width="1.68" stroke-linejoin="miter"/>
<path d="M232.80,259.38L227.80,269.38L237.80,269.38Z" fill="#ffa500" stroke="#000" stroke-width="1.68" stroke-linejoin="miter"/>
<path d="M233.27,261.21L228.27,271.21L238.27,271.21Z" fill="#ffa500" stroke="#000" stroke-width="1.68" stroke-linejoin="miter"/>
<path d="M233.74,261.99L228.74,271.99L238.74,271.99Z" fill="#ffa500" stroke="#000" stroke-width="1.68" stroke-linejoin="miter"/>
<path d="M234.20,261.76L229.20,271.76L239.20,271.76Z" fill="#ffa500" stroke="#000" stroke-width="1.68" stroke-linejoin="miter"/>
<path d="M234.67,263.29L229.67,273.29L239.67,273.29Z" fill="#ffa500" stroke="#000" stroke-width="1.68" stroke-linejoin="miter"/>
<path d="M235.13,264.10L230.13,274.10L240.13,274.10Z" fill="#ffa500" stroke="#000" stroke-width="1.68" stroke-linejoin="miter"/>
<path d="M235.60,265.08L230.60,275.08L240.60,275.08Z" fill="#ffa500" stroke="#000" stroke-width="1.68" stroke-linejoin="miter"/>
<path d="M236.06,264.57L231.06,274.57L241.06,274.57Z" fill="#ffa500" stroke="#000" stroke-width="1.68" stroke-linejoin="miter"/>
<path d="M236.53,265.58L231.53,275.58L241.53,275.58Z" fill="#ffa500" stroke="#000" stroke-width="1.68" stroke-linejoin="miter"/>
<path d="M236.99,266.01L231.99,276.01L241.99,276.01Z" fill="#ffa500" stroke="#000" stroke-width="1.68" stroke-linejoin="miter"/>
<path d="M237.46,267.87L232.46,277.87L242.46,277.87Z" fill="#ffa500" stroke="#000" stroke-width="1.68" stroke-linejoin="miter"/>
<path d="M237.92,268.20L232.92,278.20L242.92,278.20Z" fill="#ffa500" stroke="#000" stroke-width="1.68" stroke-linejoin="miter"/>
<path d="M238.39,269.47L233.39,279.47L243.39,279.47Z" fill="#ffa500" stroke="#000" stroke-width="1.68" stroke-linejoin="miter"/>
<path d="M238.86,269.35L233.86,279.35L243.86,279.35Z" fill="#ffa500" stroke="#000" stroke-width="1.68" stroke-linejoin="miter"/>
<path d="M239.32,269.73L234.32,279.73L244.32,279.73Z" fill="#ffa500" stroke="#000" stroke-width="1.68" stroke-linejoin="miter"/>
<path d="M239.79,271.58L234.79,281.58L244.79,281.58Z" fill="#ffa500" stroke="#000" stroke-width="1.68" stroke-linejoin="miter"/>
<path d="M240.25,271.22L235.25,281.22L245.25,281.22Z" fill="#ffa500" stroke="#000" stroke-width="1.68" stroke-linejoin="miter"/>
<path d="M240.72,272.21L235.72,282.21L245.72,282.21Z" fill="#ffa500" stroke="#000" stroke-width="1.68" stroke-linejoin="miter"/>
<path d="M241.18,273.46L236.18,283.46L246.18,283.46Z" fill="#ffa500" stroke="#000" stroke-width="1.68" stroke-linejoin="miter"/>
<path d="M241.65,274.97L236.65,284.97L246.65,284.97Z" fill="#ffa500" stroke="#000" stroke-width="1.68" stroke-linejoin="miter"/>
<path d="M242.11,274.21L237.11,284.21L247.11,284.21Z" fill="#ffa500" stroke="#000" stroke-width="1.68" stroke-linejoin="miter"/>
<path d="M242.58,275.59L237.58,285.59L247.58,285.59Z" fill="#ffa500" stroke="#000" stroke-width="1.68" stroke-linejoin="miter"/>
<path d="M243.04,276.52L238.04,286.52L248.04,286.52Z" fill="#ffa500" stroke="#000" stroke-width="1.68" stroke-linejoin="miter"/>
<path d="M243.51,276.80L238.51,286.80L248.51,286.80Z" fill="#ffa500" stroke="#000" stroke-width="1.68" stroke-linejoin="miter"/>
<path d="M243.98,277.50L238.98,287.50L248.98,287.50Z" fill="#ffa500" stroke="#000" stroke-width="1.68" stroke-linejoin="miter"/>
<path d="M244.44,277.74L239.44,287.74L249.44,287.74Z" fill="#ffa500" stroke="#000" stroke-width="1.68" stroke-linejoin="miter"/>
<path d="M244.91,279.52L239.91,289.52L249.91,289.52Z" fill="#ffa500" stroke="#000" stroke-width="1.68" stroke-linejoin="miter"/>
<path d="M245.37,279.30L240.37,289.30L250.37,289.30Z" fill="#ffa500" stroke="#000" stroke-width="1.68" stroke-linejoin="miter"/>
<path d="M245.84,279.85L240.84,289.85L250.84,289.85Z" fill="#ffa500" stroke="#000" stroke-width="1.68" stroke-linejoin="miter"/>
<path d="M246.30,280.56L241.30,290.56L251.30,290.56Z" fill="#ffa500" stroke="#000" stroke-width="1.68" stroke-linejoin="miter"/>
<path d="M246.77,281.93L241.77,291.93L251.77,291.93Z" fill="#ffa500" stroke="#000" stroke-width="1.68" stroke-linejoin="miter"/>
<path d="M247.23,282.84L242.23,292.84L252.23,292.84Z" fill="#ffa500" stroke="#000" stroke-width="1.68" stroke-linejoin="miter"/>
<path d="M247.70,282.80L242.70,292.80L252.70,292.80Z" fill="#ffa500" stroke="#000" stroke-width="1.68" stroke-linejoin="miter"/>
<path d="M248.17,283.84L243.17,293.84L253.17,293.84Z" fill="#ffa500" stroke="#000" stroke-width="1.68" stroke-linejoin="miter"/>
<path d="M248.63,284.51L243.63,294.51L253.63,294.51Z" fill="#ffa500" stroke="#000" stroke-width="1.68" stroke-linejoin="miter"/>
<path d="M249.10,284.66L244.10,294.66L254.10,294.66Z" fill="#ffa500" stroke="#000" stroke-width="1.68" stroke-linejoin="miter"/>
<path d="M249.56,286.01L244.56,296.01L254.56,296.01Z" fill="#ffa500" stroke="#000" stroke-width="1.68" stroke-linejoin="miter"/>
<path d="M250.03,287.49L245.03,297.49L255.03,297.49Z" fill="#ffa500" stroke="#000" stroke-width="1.68" stroke-linejoin="miter"/>
<path d="M250.49,287.38L245.49,297.38L255.49,297.38Z" fill="#ffa500" stroke="#000" stroke-width="1.68" stroke-linejoin="miter"/>
<path d="M250.96,288.62L245.96,298.62L255.96,298.62Z" fill="#ffa500" stroke="#000" stroke-width="1.68" stroke-linejoin="miter"/>
<path d="M251.42,288.21L246.42,298.21L256.42,298.21Z" fill="#ffa500" stroke="#000" stroke-width="1.68" stroke-linejoin="miter"/>
<path d="M251.89,289.06L246.89,299.06L256.89,299.06Z" fill="#ffa500" stroke="#000" stroke-width="1.68" stroke-linejoin="miter"/>
<path d="M252.35,290.08L247.35,300.08L257.35,300.08Z" fill="#ffa500" stroke="#000" stroke-width="1.68" stroke-linejoin="miter"/>
<path d="M252.82,290.48L247.82,300.48L257.82,300.48Z" fill="#ffa500" stroke="#000" stroke-width="1.68" stroke-linejoin="miter"/>
<path d="M255.40,293.19L250.40,303.19L260.40,303.19Z" fill="#ffa500" stroke="#000" stroke-width="1.68" stroke-linejoin="miter"/>
<path d="M255.88,294.24L250.88,304.24L260.88,304.24Z" fill="#ffa500" stroke="#000" stroke-width="1.68" stroke-linejoin="miter"/>
<path d="M256.35,295.71L251.35,305.71L261.35,305.71Z" fill="#ffa500" stroke="#000" stroke-width="1.68" stroke-linejoin="miter"/>
<path d="M256.82,296.40L251.82,306.40L261.82,306.40Z" fill="#ffa500" stroke="#000" stroke-width="1.68" stroke-linejoin="miter"/>
<path d="M257.30,295.89L252.30,305.89L262.30,305.89Z" fill="#ffa500" stroke="#000" stroke-width="1.68" stroke-linejoin="miter"/>
<path d="M257.77,296.78L252.77,306.78L262.77,306.78Z" fill="#ffa500" stroke="#000" stroke-width="1.68" stroke-linejoin="miter"/>
<path d="M258.25,297.09L253.25,307.09L263.25,307.09Z" fill="#ffa500" stroke="#000" stroke-width="1.68" stroke-linejoin="miter"/>
<path d="M258.73,298.09L253.73,308.09L263.73,308.09Z" fill="#ffa500" stroke="#000" stroke-width="1.68" stroke-linejoin="miter"/>
<path d="M259.20,299.31L254.20,309.31L264.20,309.31Z" fill="#ffa500" stroke="#000" stroke-width="1.68" stroke-linejoin="miter"/>
<path d="M259.68,299.51L254.68,309.51L264.68,309.51Z" fill="#ffa500" stroke="#000" stroke-width="1.68" stroke-linejoin="miter"/>
<path d="M260.15,300.99L255.15,310.99L265.15,310.99Z" fill="#ffa500" stroke="#000" stroke-width="1.68" stroke-linejoin="miter"/>
<path d="M260.62,301.09L255.62,311.09L265.62,311.09Z" fill="#ffa500" stroke="#000" stroke-width="1.68" stroke-linejoin="miter"/>
<path d="M261.10,301.44L256.10,311.44L266.10,311.44Z" fill="#ffa500" stroke="#000" stroke-width="1.68" stroke-linejoin="miter"/>
<path d="M261.57,301.84L256.57,311.84L266.57,311.84Z" fill="#ffa500" stroke="#000" stroke-width="1.68" stroke-linejoin="miter"/>
<path d="M262.05,302.88L257.05,312.88L267.05,312.88Z" fill="#ffa500" stroke="#000" stroke-width="1.68" stroke-linejoin="miter"/>
<path d="M262.52,303.25L257.52,313.25L267.52,313.25Z" fill="#ffa500" stroke="#000" stroke-width="1.68" stroke-linejoin="miter"/>
<path d="M300.32,338.01L295.32,348.01L305.32,348.01Z" fill="#ffa500" stroke="#000" stroke-width="1.68" stroke-linejoin="miter"/>
<path d="M377.35,386.53L372.35,396.53L382.35,396.53Z" fill="#ffa500" stroke="#000" stroke-width="1.68" stroke-linejoin="miter"/>
<path d="M377.82,386.54L372.82,396.54L382.82,396.54Z" fill="#ffa500" stroke="#000" stroke-width="1.68" stroke-linejoin="miter"/>
<path d="M378.28,387.16L373.28,397.16L383.28,397.16Z" fill="#ffa500" stroke="#000" stroke-width="1.68" stroke-linejoin="miter"/>
<path d="M378.75,386.38L373.75,396.38L383.75,396.38Z" fill="#ffa500" stroke="#000" stroke-width="1.68" stroke-linejoin="miter"/>
<path d="M379.21,386.66L374.21,396.66L384.21,396.66Z" fill="#ffa500" stroke="#000" stroke-width="1.68" stroke-linejoin="miter"/>
<path d="M379.68,387.51L374.68,397.51L384.68,397.51Z" fill="#ffa500" stroke="#000" stroke-width="1.68" stroke-linejoin="miter"/>
<path d="M380.15,387.75L375.15,397.75L385.15,397.75Z" fill="#ffa500" stroke="#000" stroke-width="1.68" stroke-linejoin="miter"/>
<path d="M380.61,387.94L375.61,397.94L385.61,397.94Z" fill="#ffa500" stroke="#000" stroke-width="1.68" stroke-linejoin="miter"/>
<path d="M381.08,387.37L376.08,397.37L386.08,397.37Z" fill="#ffa500" stroke="#000" stroke-width="1.68" stroke-linejoin="miter"/>
<path d="M381.54,387.96L376.54,397.96L386.54,397.96Z" fill="#ffa500" stroke="#000" stroke-width="1.68" stroke-linejoin="miter"/>
<path d="M382.01,388.02L377.01,398.02L387.01,398.02Z" fill="#ffa500" stroke="#000" stroke-width="1.68" stroke-linejoin="miter"/>
<path d="M382.48,388.24L377.48,398.24L387.48,398.24Z" fill="#ffa500" stroke="#000" stroke-width="1.68" stroke-linejoin="miter"/>
<path d="M382.94,388.35L377.94,398.35L387.94,398.35Z" fill="#ffa500" stroke="#000" stroke-width="1.68" stroke-linejoin="miter"/>
<path d="M383.41,388.76L378.41,398.76L388.41,398.76Z" fill="#ffa500" stroke="#000" stroke-width="1.68" stroke-linejoin="miter"/>
<path d="M383.87,388.63L378.87,398.63L388.87,398.63Z" fill="#ffa500" stroke="#000" stroke-width="1.68" stroke-linejoin="miter"/>
<path d="M384.34,389.16L379.34,399.16L389.34,399.16Z" fill="#ffa500" stroke="#000" stroke-width="1.68" stroke-linejoin="miter"/>
<path d="M384.81,388.97L379.81,398.97L389.81,398.97Z" fill="#ffa500" stroke="#000" stroke-width="1.68" stroke-linejoin="miter"/>
<path d="M385.27,389.03L380.27,399.03L390.27,399.03Z" fill="#ffa500" stroke="#000" stroke-width="1.68" stroke-linejoin="miter"/>
<path d="M385.74,389.14L380.74,399.14L390.74,399.14Z" fill="#ffa500" stroke="#000" stroke-width="1.68" stroke-linejoin="miter"/>
<path d="M386.20,389.47L381.20,399.47L391.20,399.47Z" fill="#ffa500" stroke="#000" stroke-width="1.68" stroke-linejoin="miter"/>
<path d="M386.67,389.79L381.67,399.79L391.67,399.79Z" fill="#ffa500" stroke="#000" stroke-width="1.68" stroke-linejoin="miter"/>
<path d="M387.14,389.68L382.14,399.68L392.14,399.68Z" fill="#ffa500" stroke="#000" stroke-width="1.68" stroke-linejoin="miter"/>
<path d="M387.60,389.99L382.60,399.99L392.60,399.99Z" fill="#ffa500" stroke="#000" stroke-width="1.68" stroke-linejoin="miter"/>
<path d="M388.07,389.64L383.07,399.64L393.07,399.64Z" fill="#ffa500" stroke="#000" stroke-width="1.68" stroke-linejoin="miter"/>
<path d="M388.53,389.98L383.53,399.98L393.53,399.98Z" fill="#ffa500" stroke="#000" stroke-width="1.68" stroke-linejoin="miter"/>
<path d="M389.00,390.35L384.00,400.35L394.00,400.35Z" fill="#ffa500" stroke="#000" stroke-width="1.68" stroke-linejoin="miter"/>
<path d="M389.46,390.58L384.46,400.58L394.46,400.58Z" fill="#ffa500" stroke="#000" stroke-width="1.68" stroke-linejoin="miter"/>
<path d="M389.93,390.78L384.93,400.78L394.93,400.78Z" fill="#ffa500" stroke="#000" stroke-width="1.68" stroke-linejoin="miter"/>
<path d="M390.40,390.99L385.40,400.99L395.40,400.99Z" fill="#ffa500" stroke="#000" stroke-width="1.68" stroke-linejoin="miter"/>
<path d="M390.86,390.99L385.86,400.99L395.86,400.99Z" fill="#ffa500" stroke="#000" stroke-width="1.68" stroke-linejoin="miter"/>
<path d="M391.33,390.99L386.33,400.99L396.33,400.99Z" fill="#ffa500" stroke="#000" stroke-width="1.68" stroke-linejoin="miter"/>
<path d="M391.79,391.08L386.79,401.08L396.79,401.08Z" fill="#ffa500" stroke="#000" stroke-width="1.68" stroke-linejoin="miter"/>
<path d="M392.26,391.21L387.26,401.21L397.26,401.21Z" fill="#ffa500" stroke="#000" stroke-width="1.68" stroke-linejoin="miter"/>
<path d="M392.73,391.00L387.73,401.00L397.73,401.00Z" fill="#ffa500" stroke="#000" stroke-width="1.68" stroke-linejoin="miter"/>
<path d="M393.19,391.79L388.19,401.79L398.19,401.79Z" fill="#ffa500" stroke="#000" stroke-width="1.68" stroke-linejoin="miter"/>
<path d="M393.66,391.77L388.66,401.77L398.66,401.77Z" fill="#ffa500" stroke="#000" stroke-width="1.68" stroke-linejoin="miter"/>
<path d="M394.12,391.28L389.12,401.28L399.12,401.28Z" fill="#ffa500" stroke="#000" stroke-width="1.68" stroke-linejoin="miter"/>
<path d="M394.59,392.48L389.59,402.48L399.59,402.48Z" fill="#ffa500" stroke="#000" stroke-width="1.68" stroke-linejoin="miter"/>
<path d="M395.06,392.31L390.06,402.31L400.06,402.31Z" fill="#ffa500" stroke="#000" stroke-width="1.68" stroke-linejoin="miter"/>
<path d="M395.52,392.30L390.52,402.30L400.52,402.30Z" fill="#ffa500" stroke="#000" stroke-width="1.68" stroke-linejoin="miter"/>
<path d="M395.99,392.44L390.99,402.44L400.99,402.44Z" fill="#ffa500" stroke="#000" stroke-width="1.68" stroke-linejoin="miter"/>
<path d="M396.45,392.52L391.45,402.52L401.45,402.52Z" fill="#ffa500" stroke="#000" stroke-width="1.68" stroke-linejoin="miter"/>
<path d="M396.92,392.80L391.92,402.80L401.92,402.80Z" fill="#ffa500" stroke="#000" stroke-width="1.68" stroke-linejoin="miter"/>
<path d="M397.39,392.80L392.39,402.80L402.39,402.80Z" fill="#ffa500" stroke="#000" stroke-width="1.68" stroke-linejoin="miter"/>
<path d="M397.85,393.01L392.85,403.01L402.85,403.01Z" fill="#ffa500" stroke="#000" stroke-width="1.68" stroke-linejoin="miter"/>
<path d="M398.32,392.99L393.32,402.99L403.32,402.99Z" fill="#ffa500" stroke="#000" stroke-width="1.68" stroke-linejoin="miter"/>
<path d="M398.78,393.70L393.78,403.70L403.78,403.70Z" fill="#ffa500" stroke="#000" stroke-width="1.68" stroke-linejoin="miter"/>
<path d="M399.25,393.62L394.25,403.62L404.25,403.62Z" fill="#ffa500" stroke="#000" stroke-width="1.68" stroke-linejoin="miter"/>
<path d="M399.72,393.56L394.72,403.56L404.72,403.56Z" fill="#ffa500" stroke="#000" stroke-width="1.68" stroke-linejoin="miter"/>
<path d="M400.18,393.91L395.18,403.91L405.18,403.91Z" fill="#ffa500" stroke="#000" stroke-width="1.68" stroke-linejoin="miter"/>
<path d="M400.65,394.04L395.65,404.04L405.65,404.04Z" fill="#ffa500" stroke="#000" stroke-width="1.68" stroke-linejoin="miter"/>
<path d="M401.11,393.82L396.11,403.82L406.11,403.82Z" fill="#ffa500" stroke="#000" stroke-width="1.68" stroke-linejoin="miter"/>
<path d="M401.58,394.22L396.58,404.22L406.58,404.22Z" fill="#ffa500" stroke="#000" stroke-width="1.68" stroke-linejoin="miter"/>
<path d="M402.05,394.08L397.05,404.08L407.05,404.08Z" fill="#ffa500" stroke="#000" stroke-width="1.68" stroke-linejoin="miter"/>
<path d="M402.51,394.19L397.51,404.19L407.51,404.19Z" fill="#ffa500" stroke="#000" stroke-width="1.68" stroke-linejoin="miter"/>
<path d="M402.98,394.41L397.98,404.41L407.98,404.41Z" fill="#ffa500" stroke="#000" stroke-width="1.68" stroke-linejoin="miter"/>
<path d="M403.44,394.50L398.44,404.50L408.44,404.50Z" fill="#ffa500" stroke="#000" stroke-width="1.68" stroke-linejoin="miter"/>
<path d="M403.91,394.75L398.91,404.75L408.91,404.75Z" fill="#ffa500" stroke="#000" stroke-width="1.68" stroke-linejoin="miter"/>
<path d="M404.38,395.14L399.38,405.14L409.38,405.14Z" fill="#ffa500" stroke="#000" stroke-width="1.68" stroke-linejoin="miter"/>
<path d="M404.84,394.99L399.84,404.99L409.84,404.99Z" fill="#ffa500" stroke="#000" stroke-width="1.68" stroke-linejoin="miter"/>
<path d="M405.31,395.01L400.31,405.01L410.31,405.01Z" fill="#ffa500" stroke="#000" stroke-width="1.68" stroke-linejoin="miter"/>
<path d="M405.77,395.34L400.77,405.34L410.77,405.34Z" fill="#ffa500" stroke="#000" stroke-width="1.68" stroke-linejoin="miter"/>
<path d="M406.24,395.38L401.24,405.38L411.24,405.38Z" fill="#ffa500" stroke="#000" stroke-width="1.68" stroke-linejoin="miter"/>
<path d="M406.71,395.33L401.71,405.33L411.71,405.33Z" fill="#ffa500" stroke="#000" stroke-width="1.68" stroke-linejoin="miter"/>
<path d="M407.17,395.78L402.17,405.78L412.17,405.78Z" fill="#ffa500" stroke="#000" stroke-width="1.68" stroke-linejoin="miter"/>
<path d="M407.64,395.60L402.64,405.60L412.64,405.60Z" fill="#ffa500" stroke="#000" stroke-width="1.68" stroke-linejoin="miter"/>
<path d="M408.10,395.48L403.10,405.48L413.10,405.48Z" fill="#ffa500" stroke="#000" stroke-width="1.68" stroke-linejoin="miter"/>
<path d="M408.57,396.08L403.57,406.08L413.57,406.08Z" fill="#ffa500" stroke="#000" stroke-width="1.68" stroke-linejoin="miter"/>
<path d="M409.04,396.06L404.04,406.06L414.04,406.06Z" fill="#ffa500" stroke="#000" stroke-width="1.68" stroke-linejoin="miter"/>
<path d="M409.50,396.24L404.50,406.24L414.50,406.24Z" fill="#ffa500" stroke="#000" stroke-width="1.68" stroke-linejoin="miter"/>
<path d="M409.97,396.03L404.97,406.03L414.97,406.03Z" fill="#ffa500" stroke="#000" stroke-width="1.68" stroke-linejoin="miter"/>
<path d="M410.43,396.39L405.43,406.39L415.43,406.39Z" fill="#ffa500" stroke="#000" stroke-width="1.68" stroke-linejoin="miter"/>
<path d="M410.90,396.39L405.90,406.39L415.90,406.39Z" fill="#ffa500" stroke="#000" stroke-width="1.68" stroke-linejoin="miter"/>
<path d="M411.36,396.81L406.36,406.81L416.36,406.81Z" fill="#ffa500" stroke="#000" stroke-width="1.68" stroke-linejoin="miter"/>
<path d="M411.83,396.80L406.83,406.80L416.83,406.80Z" fill="#ffa500" stroke="#000" stroke-width="1.68" stroke-linejoin="miter"/>
<path d="M412.30,396.92L407.30,406.92L417.30,406.92Z" fill="#ffa500" stroke="#000" stroke-width="1.68" stroke-linejoin="miter"/>
<path d="M412.76,397.36L407.76,407.36L417.76,407.36Z" fill="#ffa500" stroke="#000" stroke-width="1.68" stroke-linejoin="miter"/>
<path d="M413.23,396.88L408.23,406.88L418.23,406.88Z" fill="#ffa500" stroke="#000" stroke-width="1.68" stroke-linejoin="miter"/>
<path d="M413.69,397.10L408.69,407.10L418.69,407.10Z" fill="#ffa500" stroke="#000" stroke-width="1.68" stroke-linejoin="miter"/>
<path d="M414.16,397.70L409.16,407.70L419.16,407.70Z" fill="#ffa500" stroke="#000" stroke-width="1.68" stroke-linejoin="miter"/>
<path d="M414.63,397.35L409.63,407.35L419.63,407.35Z" fill="#ffa500" stroke="#000" stroke-width="1.68" stroke-linejoin="miter"/>
<path d="M415.09,397.63L410.09,407.63L420.09,407.63Z" fill="#ffa500" stroke="#000" stroke-width="1.68" stroke-linejoin="miter"/>
<path d="M415.56,397.64L410.56,407.64L420.56,407.64Z" fill="#ffa500" stroke="#000" stroke-width="1.68" stroke-linejoin="miter"/>
<path d="M416.02,397.76L411.02,407.76L421.02,407.76Z" fill="#ffa500" stroke="#000" stroke-width="1.68" stroke-linejoin="miter"/>
<path d="M416.49,398.21L411.49,408.21L421.49,408.21Z" fill="#ffa500" stroke="#000" stroke-width="1.68" stroke-linejoin="miter"/>
<path d="M416.96,398.09L411.96,408.09L421.96,408.09Z" fill="#ffa500" stroke="#000" stroke-width="1.68" stroke-linejoin="miter"/>
<path d="M417.42,397.90L412.42,407.90L422.42,407.90Z" fill="#ffa500" stroke="#000" stroke-width="1.68" stroke-linejoin="miter"/>
<path d="M417.89,398.37L412.89,408.37L422.89,408.37Z" fill="#ffa500" stroke="#000" stroke-width="1.68" stroke-linejoin="miter"/>
<path d="M418.35,398.56L413.35,408.56L423.35,408.56Z" fill="#ffa500" stroke="#000" stroke-width="1.68" stroke-linejoin="miter"/>
<path d="M418.82,398.73L413.82,408.73L423.82,408.73Z" fill="#ffa500" stroke="#000" stroke-width="1.68" stroke-linejoin="miter"/>
<path d="M419.29,398.81L414.29,408.81L424.29,408.81Z" fill="#ffa500" stroke="#000" stroke-width="1.68" stroke-linejoin="miter"/>
<path d="M419.75,398.65L414.75,408.65L424.75,408.65Z" fill="#ffa500" stroke="#000" stroke-width="1.68" stroke-linejoin="miter"/>
<path d="M420.22,398.52L415.22,408.52L425.22,408.52Z" fill="#ffa500" stroke="#000" stroke-width="1.68" stroke-linejoin="miter"/>
<path d="M420.68,398.85L415.68,408.85L425.68,408.85Z" fill="#ffa500" stroke="#000" stroke-width="1.68" stroke-linejoin="miter"/>
<path d="M421.15,398.98L416.15,408.98L426.15,408.98Z" fill="#ffa500" stroke="#000" stroke-width="1.68" stroke-linejoin="miter"/>
<path d="M520.08,411.98L515.08,421.98L525.08,421.98Z" fill="#ffa500" stroke="#000" stroke-width="1.68" stroke-linejoin="miter"/>
<path d="M521.15,412.62L516.15,422.62L526.15,422.62Z" fill="#ffa500" stroke="#000" stroke-width="1.68" stroke-linejoin="miter"/>
<path d="M522.22,412.63L517.22,422.63L527.22,422.63Z" fill="#ffa500" stroke="#000" stroke-width="1.68" stroke-linejoin="miter"/>
<path d="M523.29,412.19L518.29,422.19L528.29,422.19Z" fill="#ffa500" stroke="#000" stroke-width="1.68" stroke-linejoin="miter"/>
<path d="M524.36,412.87L519.36,422.87L529.36,422.87Z" fill="#ffa500" stroke="#000" stroke-width="1.68" stroke-linejoin="miter"/>
<path d="M525.43,412.63L520.43,422.63L530.43,422.63Z" fill="#ffa500" stroke="#000" stroke-width="1.68" stroke-linejoin="miter"/>
<path d="M526.50,412.44L521.50,422.44L531.50,422.44Z" fill="#ffa500" stroke="#000" stroke-width="1.68" stroke-linejoin="miter"/>
<path d="M527.58,413.01L522.58,423.01L532.58,423.01Z" fill="#ffa500" stroke="#000" stroke-width="1.68" stroke-linejoin="miter"/>
<path d="M599.20,416.92L594.20,426.92L604.20,426.92Z" fill="#ffa500" stroke="#000" stroke-width="1.68" stroke-linejoin="miter"/>
<path d="M600.30,417.16L595.30,427.16L605.30,427.16Z" fill="#ffa500" stroke="#000" stroke-width="1.68" stroke-linejoin="miter"/>
<path d="M601.40,416.94L596.40,426.94L606.40,426.94Z" fill="#ffa500" stroke="#000" stroke-width="1.68" stroke-linejoin="miter"/>
<path d="M602.50,417.13L597.50,427.13L607.50,427.13Z" fill="#ffa500" stroke="#000" stroke-width="1.68" stroke-linejoin="miter"/>
<path d="M603.61,416.91L598.61,426.91L608.61,426.91Z" fill="#ffa500" stroke="#000" stroke-width="1.68" stroke-linejoin="miter"/>
<path d="M604.71,417.15L599.71,427.15L609.71,427.15Z" fill="#ffa500" stroke="#000" stroke-width="1.68" stroke-linejoin="miter"/>
<path d="M605.81,417.14L600.81,427.14L610.81,427.14Z" fill="#ffa500" stroke="#000" stroke-width="1.68" stroke-linejoin="miter"/>
<path d="M606.91,417.39L601.91,427.39L611.91,427.39Z" fill="#ffa500" stroke="#000" stroke-width="1.68" stroke-linejoin="miter"/>
<path d="M608.01,417.36L603.01,427.36L613.01,427.36Z" fill="#ffa500" stroke="#000" stroke-width="1.68" stroke-linejoin="miter"/>
<path d="M609.11,417.48L604.11,427.48L614.11,427.48Z" fill="#ffa500" stroke="#000" stroke-width="1.68" stroke-linejoin="miter"/>
<path d="M610.21,417.53L605.21,427.53L615.21,427.53Z" fill="#ffa500" stroke="#000" stroke-width="1.68" stroke-linejoin="miter"/>
<path d="M611.31,417.52L606.31,427.52L616.31,427.52Z" fill="#ffa500" stroke="#000" stroke-width="1.68" stroke-linejoin="miter"/>
<path d="M612.42,417.20L607.42,427.20L617.42,427.20Z" fill="#ffa500" stroke="#000" stroke-width="1.68" stroke-linejoin="miter"/>
<path d="M613.52,417.55L608.52,427.55L618.52,427.55Z" fill="#ffa500" stroke="#000" stroke-width="1.68" stroke-linejoin="miter"/>
<path d="M614.62,417.45L609.62,427.45L619.62,427.45Z" fill="#ffa500" stroke="#000" stroke-width="1.68" stroke-linejoin="miter"/>
<path d="M615.72,417.60L610.72,427.60L620.72,427.60Z" fill="#ffa500" stroke="#000" stroke-width="1.68" stroke-linejoin="miter"/>
<path d="M616.82,417.61L611.82,427.61L621.82,427.61Z" fill="#ffa500" stroke="#000" stroke-width="1.68" stroke-linejoin="miter"/>
<path d="M617.92,417.47L612.92,427.47L622.92,427.47Z" fill="#ffa500" stroke="#000" stroke-width="1.68" stroke-linejoin="miter"/>
<path d="M619.02,417.48L614.02,427.48L624.02,427.48Z" fill="#ffa500" stroke="#000" stroke-width="1.68" stroke-linejoin="miter"/>
<path d="M620.12,417.68L615.12,427.68L625.12,427.68Z" fill="#ffa500" stroke="#000" stroke-width="1.68" stroke-linejoin="miter"/>
<path d="M621.23,417.71L616.23,427.71L626.23,427.71Z" fill="#ffa500" stroke="#000" stroke-width="1.68" stroke-linejoin="miter"/>
<path d="M622.33,417.73L617.33,427.73L627.33,427.73Z" fill="#ffa500" stroke="#000" stroke-width="1.68" stroke-linejoin="miter"/>
<path d="M623.43,417.78L618.43,427.78L628.43,427.78Z" fill="#ffa500" stroke="#000" stroke-width="1.68" stroke-linejoin="miter"/>
<path d="M624.53,417.90L619.53,427.90L629.53,427.90Z" fill="#ffa500" stroke="#000" stroke-width="1.68" stroke-linejoin="miter"/>
<path d="M625.63,417.73L620.63,427.73L630.63,427.73Z" fill="#ffa500" stroke="#000" stroke-width="1.68" stroke-linejoin="miter"/>
<path d="M626.73,417.56L621.73,427.56L631.73,427.56Z" fill="#ffa500" stroke="#000" stroke-width="1.68" stroke-linejoin="miter"/>
<path d="M627.83,417.88L622.83,427.88L632.83,427.88Z" fill="#ffa500" stroke="#000" stroke-width="1.68" stroke-linejoin="miter"/>
<path d="M628.93,417.76L623.93,427.76L633.93,427.76Z" fill="#ffa500" stroke="#000" stroke-width="1.68" stroke-linejoin="miter"/>
<path d="M630.04,418.23L625.04,428.23L635.04,428.23Z" fill="#ffa500" stroke="#000" stroke-width="1.68" stroke-linejoin="miter"/>
<path d="M631.14,417.88L626.14,427.88L636.14,427.88Z" fill="#ffa500" stroke="#000" stroke-width="1.68" stroke-linejoin="miter"/>
<path d="M632.24,417.91L627.24,427.91L637.24,427.91Z" fill="#ffa500" stroke="#000" stroke-width="1.68" stroke-linejoin="miter"/>
<path d="M633.34,417.90L628.34,427.90L638.34,427.90Z" fill="#ffa500" stroke="#000" stroke-width="1.68" stroke-linejoin="miter"/>
<path d="M634.44,418.03L629.44,428.03L639.44,428.03Z" fill="#ffa500" stroke="#000" stroke-width="1.68" stroke-linejoin="miter"/>
<path d="M635.54,417.98L630.54,427.98L640.54,427.98Z" fill="#ffa500" stroke="#000" stroke-width="1.68" stroke-linejoin="miter"/>
<path d="M636.64,418.06L631.64,428.06L641.64,428.06Z" fill="#ffa500" stroke="#000" stroke-width="1.68" stroke-linejoin="miter"/>
<path d="M637.74,418.37L632.74,428.37L642.74,428.37Z" fill="#ffa500" stroke="#000" stroke-width="1.68" stroke-linejoin="miter"/>
<path d="M638.85,418.12L633.85,428.12L643.85,428.12Z" fill="#ffa500" stroke="#000" stroke-width="1.68" stroke-linejoin="miter"/>
<path d="M639.95,418.26L634.95,428.26L644.95,428.26Z" fill="#ffa500" stroke="#000" stroke-width="1.68" stroke-linejoin="miter"/>
<path d="M641.05,418.12L636.05,428.12L646.05,428.12Z" fill="#ffa500" stroke="#000" stroke-width="1.68" stroke-linejoin="miter"/>
<path d="M642.15,418.08L637.15,428.08L647.15,428.08Z" fill="#ffa500" stroke="#000" stroke-width="1.68" stroke-linejoin="miter"/>
<path d="M642.70,418.01L637.70,428.01L647.70,428.01Z" fill="#ffa500" stroke="#000" stroke-width="1.68" stroke-linejoin="miter"/>
<path d="M158.00,126.28L168.00,121.28L168.00,131.28Z" fill="#00ff00" stroke="#000" stroke-width="1.68" stroke-linejoin="miter"/>
<path d="M158.00,128.62L168.00,123.62L168.00,133.62Z" fill="#00ff00" stroke="#000" stroke-width="1.68" stroke-linejoin="miter"/>
<path d="M158.00,143.14L168.00,138.14L168.00,148.14Z" fill="#00ff00" stroke="#000" stroke-width="1.68" stroke-linejoin="miter"/>
<path d="M158.00,160.46L168.00,155.46L168.00,165.46Z" fill="#00ff00" stroke="#000" stroke-width="1.68" stroke-linejoin="miter"/>
<path d="M158.00,186.67L168.00,181.67L168.00,191.67Z" fill="#00ff00" stroke="#000" stroke-width="1.68" stroke-linejoin="miter"/>
<path d="M211.51,270.93L221.51,265.93L221.51,275.93Z" fill="#00ff00" stroke="#000" stroke-width="1.68" stroke-linejoin="miter"/>
<path d="M211.51,243.82L221.51,238.82L221.51,248.82Z" fill="#00ff00" stroke="#000" stroke-width="1.68" stroke-linejoin="miter"/>
<path d="M211.57,263.91L221.57,258.91L221.57,268.91Z" fill="#00ff00" stroke="#000" stroke-width="1.68" stroke-linejoin="miter"/>
<path d="M211.63,256.88L221.63,251.88L221.63,261.88Z" fill="#00ff00" stroke="#000" stroke-width="1.68" stroke-linejoin="miter"/>
<path d="M211.69,250.80L221.69,245.80L221.69,255.80Z" fill="#00ff00" stroke="#000" stroke-width="1.68" stroke-linejoin="miter"/>
<path d="M217.56,256.32L227.56,251.32L227.56,261.32Z" fill="#00ff00" stroke="#000" stroke-width="1.68" stroke-linejoin="miter"/>
<path d="M223.62,265.88L233.62,260.88L233.62,270.88Z" fill="#00ff00" stroke="#000" stroke-width="1.68" stroke-linejoin="miter"/>
<path d="M229.67,276.81L239.67,271.81L239.67,281.81Z" fill="#00ff00" stroke="#000" stroke-width="1.68" stroke-linejoin="miter"/>
<path d="M235.72,286.17L245.72,281.17L245.72,291.17Z" fill="#00ff00" stroke="#000" stroke-width="1.68" stroke-linejoin="miter"/>
<path d="M241.77,294.72L251.77,289.72L251.77,299.72Z" fill="#00ff00" stroke="#000" stroke-width="1.68" stroke-linejoin="miter"/>
<path d="M247.82,302.88L257.82,297.88L257.82,307.88Z" fill="#00ff00" stroke="#000" stroke-width="1.68" stroke-linejoin="miter"/>
<path d="M250.40,306.04L260.40,301.04L260.40,311.04Z" fill="#00ff00" stroke="#000" stroke-width="1.68" stroke-linejoin="miter"/>
<path d="M256.57,313.81L266.57,308.81L266.57,318.81Z" fill="#00ff00" stroke="#000" stroke-width="1.68" stroke-linejoin="miter"/>
<path d="M257.52,315.42L267.52,310.42L267.52,320.42Z" fill="#00ff00" stroke="#000" stroke-width="1.68" stroke-linejoin="miter"/>
<path d="M295.32,357.99L305.32,352.99L305.32,362.99Z" fill="#00ff00" stroke="#000" stroke-width="1.68" stroke-linejoin="miter"/>
<path d="M295.32,365.02L305.32,360.02L305.32,370.02Z" fill="#00ff00" stroke="#000" stroke-width="1.68" stroke-linejoin="miter"/>
<path d="M372.35,392.24L382.35,387.24L382.35,397.24Z" fill="#00ff00" stroke="#000" stroke-width="1.68" stroke-linejoin="miter"/>
<path d="M376.54,394.58L386.54,389.58L386.54,399.58Z" fill="#00ff00" stroke="#000" stroke-width="1.68" stroke-linejoin="miter"/>
<path d="M380.74,395.72L390.74,390.72L390.74,400.72Z" fill="#00ff00" stroke="#000" stroke-width="1.68" stroke-linejoin="miter"/>
<path d="M384.93,397.29L394.93,392.29L394.93,402.29Z" fill="#00ff00" stroke="#000" stroke-width="1.68" stroke-linejoin="miter"/>
<path d="M389.12,398.01L399.12,393.01L399.12,403.01Z" fill="#00ff00" stroke="#000" stroke-width="1.68" stroke-linejoin="miter"/>
<path d="M393.32,399.34L403.32,394.34L403.32,404.34Z" fill="#00ff00" stroke="#000" stroke-width="1.68" stroke-linejoin="miter"/>
<path d="M397.51,400.34L407.51,395.34L407.51,405.34Z" fill="#00ff00" stroke="#000" stroke-width="1.68" stroke-linejoin="miter"/>
<path d="M401.71,401.47L411.71,396.47L411.71,406.47Z" fill="#00ff00" stroke="#000" stroke-width="1.68" stroke-linejoin="miter"/>
<path d="M405.90,402.30L415.90,397.30L415.90,407.30Z" fill="#00ff00" stroke="#000" stroke-width="1.68" stroke-linejoin="miter"/>
<path d="M410.09,403.72L420.09,398.72L420.09,408.72Z" fill="#00ff00" stroke="#000" stroke-width="1.68" stroke-linejoin="miter"/>
<path d="M414.29,404.81L424.29,399.81L424.29,409.81Z" fill="#00ff00" stroke="#000" stroke-width="1.68" stroke-linejoin="miter"/>
<path d="M416.15,404.80L426.15,399.80L426.15,409.80Z" fill="#00ff00" stroke="#000" stroke-width="1.68" stroke-linejoin="miter"/>
<path d="M515.08,418.04L525.08,413.04L525.08,423.04Z" fill="#00ff00" stroke="#000" stroke-width="1.68" stroke-linejoin="miter"/>
<path d="M516.15,418.66L526.15,413.66L526.15,423.66Z" fill="#00ff00" stroke="#000" stroke-width="1.68" stroke-linejoin="miter"/>
<path d="M517.22,418.49L527.22,413.49L527.22,423.49Z" fill="#00ff00" stroke="#000" stroke-width="1.68" stroke-linejoin="miter"/>
<path d="M518.29,418.64L528.29,413.64L528.29,423.64Z" fill="#00ff00" stroke="#000" stroke-width="1.68" stroke-linejoin="miter"/>
<path d="M519.36,418.67L529.36,413.67L529.36,423.67Z" fill="#00ff00" stroke="#000" stroke-width="1.68" stroke-linejoin="miter"/>
<path d="M520.43,418.48L530.43,413.48L530.43,423.48Z" fill="#00ff00" stroke="#000" stroke-width="1.68" stroke-linejoin="miter"/>
<path d="M521.50,418.23L531.50,413.23L531.50,423.23Z" fill="#00ff00" stroke="#000" stroke-width="1.68" stroke-linejoin="miter"/>
<path d="M522.58,419.10L532.58,414.10L532.58,424.10Z" fill="#00ff00" stroke="#000" stroke-width="1.68" stroke-linejoin="miter"/>
<path d="M594.20,422.54L604.20,417.54L604.20,427.54Z" fill="#00ff00" stroke="#000" stroke-width="1.68" stroke-linejoin="miter"/>
<path d="M603.56,422.79L613.56,417.79L613.56,427.79Z" fill="#00ff00" stroke="#000" stroke-width="1.68" stroke-linejoin="miter"/>
<path d="M612.92,422.88L622.92,417.88L622.92,427.88Z" fill="#00ff00" stroke="#000" stroke-width="1.68" stroke-linejoin="miter"/>
<path d="M622.28,423.23L632.28,418.23L632.28,428.23Z" fill="#00ff00" stroke="#000" stroke-width="1.68" stroke-linejoin="miter"/>
<path d="M631.64,423.46L641.64,418.46L641.64,428.46Z" fill="#00ff00" stroke="#000" stroke-width="1.68" stroke-linejoin="miter"/>
<path d="M637.70,423.47L647.70,418.47L647.70,428.47Z" fill="#00ff00" stroke="#000" stroke-width="1.68" stroke-linejoin="miter"/>
<path d="M154.45,141.73 L156.33,147.41 L158.21,152.97 L160.09,158.42 L161.97,163.77 L163.86,169.00 L165.74,174.14 L167.62,179.16 L169.50,184.09 L171.38,188.92 L173.26,193.66 L175.14,198.29 L177.02,202.84 L178.91,207.29 L180.79,211.66 L182.67,215.94 L184.55,220.13 L186.43,224.24 L188.31,228.26 L190.19,232.21 L192.07,236.08 L193.96,239.86 L195.84,243.58 L197.72,247.22 L199.60,250.78 L201.48,254.28 L203.36,257.70 L205.24,261.06 L207.12,264.35 L209.01,267.57 L210.89,270.73 L212.77,273.83 L214.65,276.86 L216.53,279.83 L218.41,282.75 L220.29,285.60 L222.17,288.40 L224.06,291.14 L225.94,293.83 L227.82,296.46 L229.70,299.04 L231.58,301.57 L233.46,304.05 L235.34,306.48 L237.22,308.86 L239.11,311.19 L240.99,313.48 L242.87,315.72 L244.75,317.91 L246.63,320.06 L248.51,322.17 L250.39,324.24 L252.27,326.26 L254.16,328.25 L256.04,330.19 L257.92,332.10 L259.80,333.96 L261.68,335.79 L263.56,337.59 L265.44,339.34 L267.32,341.07 L269.21,342.75 L271.09,344.41 L272.97,346.03 L274.85,347.62 L276.73,349.17 L278.61,350.70 L280.49,352.20 L282.38,353.66 L284.26,355.10 L286.14,356.50 L288.02,357.88 L289.90,359.23 L291.78,360.56 L293.66,361.86 L295.54,363.13 L297.42,364.37 L299.31,365.60 L301.19,366.79 L303.07,367.97 L304.95,369.11 L306.83,370.24 L308.71,371.35 L310.59,372.43 L312.47,373.49 L314.36,374.53 L316.24,375.54 L318.12,376.54 L320.00,377.52 L321.88,378.48 L323.76,379.42 L325.64,380.34 L327.52,381.24 L329.41,382.12 L331.29,382.99 L333.17,383.84 L335.05,384.67 L336.93,385.49 L338.81,386.28 L340.69,387.07 L342.57,387.83 L344.46,388.59 L346.34,389.32 L348.22,390.05 L350.10,390.75 L351.98,391.45 L353.86,392.13 L355.74,392.79 L357.62,393.44 L359.51,394.08 L361.39,394.71 L363.27,395.32 L365.15,395.93 L367.03,396.52 L368.91,397.09 L370.79,397.66 L372.67,398.22 L374.56,398.76 L376.44,399.29 L378.32,399.82 L380.20,400.33 L382.08,400.83 L383.96,401.32 L385.84,401.80 L387.72,402.28 L389.61,402.74 L391.49,403.19 L393.37,403.64 L395.25,404.07 L397.13,404.50 L399.01,404.92 L400.89,405.33 L402.77,405.73 L404.66,406.12 L406.54,406.51 L408.42,406.89 L410.30,407.26 L412.18,407.62 L414.06,407.98 L415.94,408.32 L417.82,408.67 L419.71,409.00 L421.59,409.33 L423.47,409.65 L425.35,409.97 L427.23,410.28 L429.11,410.58 L430.99,410.87 L432.87,411.17 L434.76,411.45 L436.64,411.73 L438.52,412.00 L440.40,412.27 L442.28,412.53 L444.16,412.79 L446.04,413.04 L447.92,413.29 L449.81,413.53 L451.69,413.77 L453.57,414.00 L455.45,414.23 L457.33,414.46 L459.21,414.67 L461.09,414.89 L462.97,415.10 L464.86,415.31 L466.74,415.51 L468.62,415.71 L470.50,415.90 L472.38,416.09 L474.26,416.28 L476.14,416.46 L478.02,416.64 L479.91,416.81 L481.79,416.98 L483.67,417.15 L485.55,417.32 L487.43,417.48 L489.31,417.64 L491.19,417.79 L493.07,417.95 L494.96,418.10 L496.84,418.24 L498.72,418.38 L500.60,418.53 L502.48,418.66 L504.36,418.80 L506.24,418.93 L508.12,419.06 L510.01,419.19 L511.89,419.31 L513.77,419.43 L515.65,419.55 L517.53,419.67 L519.41,419.78 L521.29,419.90 L523.17,420.01 L525.06,420.11 L526.94,420.22 L528.82,420.32 L530.70,420.43 L532.58,420.52 L534.46,420.62 L536.34,420.72 L538.22,420.81 L540.11,420.90 L541.99,420.99 L543.87,421.08 L545.75,421.17 L547.63,421.25 L549.51,421.34 L551.39,421.42 L553.27,421.50 L555.16,421.58 L557.04,421.65 L558.92,421.73 L560.80,421.80 L562.68,421.87 L564.56,421.94 L566.44,422.01 L568.32,422.08 L570.21,422.15 L572.09,422.21 L573.97,422.28 L575.85,422.34 L577.73,422.40 L579.61,422.46 L581.49,422.52 L583.38,422.58 L585.26,422.63 L587.14,422.69 L589.02,422.74 L590.90,422.80 L592.78,422.85 L594.66,422.90 L596.54,422.95 L598.42,423.00 L600.31,423.05 L602.19,423.09 L604.07,423.14 L605.95,423.18" fill="none" stroke="#ff0000" stroke-width="2.5" stroke-linejoin="round" stroke-linecap="square"/>
<path d="M154.45,425.40 L154.45,53.73 L156.33,61.17 L158.21,68.46 L160.09,75.60 L161.97,82.60 L163.86,89.46 L165.74,96.19 L167.62,102.78 L169.50,109.23 L171.38,115.56 L173.26,121.76 L175.14,127.84 L177.02,133.79 L178.91,139.63 L180.79,145.35 L182.67,150.95 L184.55,156.45 L186.43,161.83 L188.31,167.11 L190.19,172.27 L192.07,177.34 L193.96,182.31 L195.84,187.17 L197.72,191.94 L199.60,196.61 L201.48,201.19 L203.36,205.68 L205.24,210.08 L207.12,214.38 L209.01,218.61 L210.89,222.75 L212.77,226.80 L214.65,230.78 L216.53,234.67 L218.41,238.49 L220.29,242.23 L222.17,245.90 L224.06,249.49 L225.94,253.01 L227.82,256.46 L229.70,259.84 L231.58,263.16 L233.46,266.40 L235.34,269.58 L237.22,272.70 L239.11,275.76 L240.99,278.75 L242.87,281.69 L244.75,284.57 L246.63,287.38 L248.51,290.15 L250.39,292.85 L252.27,295.51 L254.16,298.11 L256.04,300.65 L257.92,303.15 L259.80,305.60 L261.68,307.99 L263.56,310.34 L265.44,312.65 L267.32,314.90 L269.21,317.12 L271.09,319.28 L272.97,321.41 L274.85,323.49 L276.73,325.53 L278.61,327.53 L280.49,329.49 L282.38,331.40 L284.26,333.29 L286.14,335.13 L288.02,336.94 L289.90,338.71 L291.78,340.44 L293.66,342.14 L295.54,343.81 L297.42,345.44 L299.31,347.04 L301.19,348.61 L303.07,350.15 L304.95,351.65 L306.83,353.13 L308.71,354.58 L310.59,355.99 L312.47,357.38 L314.36,358.74 L316.24,360.08 L318.12,361.39 L320.00,362.67 L321.88,363.92 L323.76,365.15 L325.64,366.36 L327.52,367.54 L329.41,368.70 L331.29,369.83 L333.17,370.94 L335.05,372.03 L336.93,373.10 L338.81,374.15 L340.69,375.18 L342.57,376.18 L344.46,377.17 L346.34,378.13 L348.22,379.08 L350.10,380.00 L351.98,380.91 L353.86,381.80 L355.74,382.68 L357.62,383.53 L359.51,384.37 L361.39,385.19 L363.27,385.99 L365.15,386.78 L367.03,387.56 L368.91,388.31 L370.79,389.06 L372.67,389.78 L374.56,390.50 L376.44,391.19 L378.32,391.88 L380.20,392.55 L382.08,393.21 L383.96,393.85 L385.84,394.48 L387.72,395.10 L389.61,395.71 L391.49,396.30 L393.37,396.89 L395.25,397.46 L397.13,398.01 L399.01,398.56 L400.89,399.10 L402.77,399.63 L404.66,400.14 L406.54,400.65 L408.42,401.14 L410.30,401.63 L412.18,402.10 L414.06,402.57 L415.94,403.03 L417.82,403.48 L419.71,403.91 L421.59,404.34 L423.47,404.77 L425.35,405.18 L427.23,405.58 L429.11,405.98 L430.99,406.37 L432.87,406.75 L434.76,407.12 L436.64,407.49 L438.52,407.85 L440.40,408.20 L442.28,408.54 L444.16,408.88 L446.04,409.21 L447.92,409.53 L449.81,409.85 L451.69,410.16 L453.57,410.47 L455.45,410.77 L457.33,411.06 L459.21,411.35 L461.09,411.63 L462.97,411.90 L464.86,412.17 L466.74,412.44 L468.62,412.70 L470.50,412.95 L472.38,413.20 L474.26,413.45 L476.14,413.68 L478.02,413.92 L479.91,414.15 L481.79,414.37 L483.67,414.60 L485.55,414.81 L487.43,415.02 L489.31,415.23 L491.19,415.43 L493.07,415.63 L494.96,415.83 L496.84,416.02 L498.72,416.21 L500.60,416.39 L502.48,416.57 L504.36,416.75 L506.24,416.92 L508.12,417.09 L510.01,417.26 L511.89,417.42 L513.77,417.58 L515.65,417.74 L517.53,417.89 L519.41,418.04 L521.29,418.19 L523.17,418.33 L525.06,418.47 L526.94,418.61 L528.82,418.75 L530.70,418.88 L532.58,419.01 L534.46,419.14 L536.34,419.27 L538.22,419.39 L540.11,419.51 L541.99,419.63 L543.87,419.74 L545.75,419.86 L547.63,419.97 L549.51,420.08 L551.39,420.18 L553.27,420.29 L555.16,420.39 L557.04,420.49 L558.92,420.59 L560.80,420.68 L562.68,420.78 L564.56,420.87 L566.44,420.96 L568.32,421.05 L570.21,421.14 L572.09,421.22 L573.97,421.31 L575.85,421.39 L577.73,421.47 L579.61,421.55 L581.49,421.62 L583.38,421.70 L585.26,421.77 L587.14,421.85 L589.02,421.92 L590.90,421.99 L592.78,422.06 L594.66,422.12 L596.54,422.19 L598.42,422.25 L600.31,422.32 L602.19,422.38 L604.07,422.44 L605.95,422.50" fill="none" stroke="#0000ff" stroke-width="2.5" stroke-linejoin="round" stroke-linecap="butt" stroke-dasharray="9.250,4.000"/>
<path d="M154.45,425.40 L154.45,36.41 L156.33,44.11 L158.21,51.66 L160.09,59.05 L161.97,66.30 L163.86,73.41 L165.74,80.38 L167.62,87.21 L169.50,93.90 L171.38,100.46 L173.26,106.89 L175.14,113.20 L177.02,119.38 L178.91,125.43 L180.79,131.37 L182.67,137.19 L184.55,142.90 L186.43,148.49 L188.31,153.97 L190.19,159.34 L192.07,164.61 L193.96,169.77 L195.84,174.83 L197.72,179.79 L199.60,184.65 L201.48,189.41 L203.36,194.09 L205.24,198.66 L207.12,203.15 L209.01,207.55 L210.89,211.86 L212.77,216.09 L214.65,220.23 L216.53,224.29 L218.41,228.27 L220.29,232.17 L222.17,236.00 L224.06,239.75 L225.94,243.42 L227.82,247.02 L229.70,250.56 L231.58,254.02 L233.46,257.41 L235.34,260.73 L237.22,263.99 L239.11,267.19 L240.99,270.32 L242.87,273.39 L244.75,276.40 L246.63,279.35 L248.51,282.24 L250.39,285.07 L252.27,287.85 L254.16,290.57 L256.04,293.24 L257.92,295.85 L259.80,298.42 L261.68,300.93 L263.56,303.40 L265.44,305.81 L267.32,308.18 L269.21,310.50 L271.09,312.77 L272.97,315.00 L274.85,317.19 L276.73,319.33 L278.61,321.43 L280.49,323.49 L282.38,325.50 L284.26,327.48 L286.14,329.42 L288.02,331.32 L289.90,333.18 L291.78,335.01 L293.66,336.79 L295.54,338.55 L297.42,340.27 L299.31,341.95 L301.19,343.60 L303.07,345.22 L304.95,346.81 L306.83,348.37 L308.71,349.89 L310.59,351.38 L312.47,352.85 L314.36,354.29 L316.24,355.69 L318.12,357.07 L320.00,358.43 L321.88,359.75 L323.76,361.05 L325.64,362.32 L327.52,363.57 L329.41,364.80 L331.29,366.00 L333.17,367.17 L335.05,368.32 L336.93,369.45 L338.81,370.56 L340.69,371.65 L342.57,372.71 L344.46,373.75 L346.34,374.78 L348.22,375.78 L350.10,376.76 L351.98,377.72 L353.86,378.67 L355.74,379.59 L357.62,380.50 L359.51,381.39 L361.39,382.26 L363.27,383.11 L365.15,383.95 L367.03,384.77 L368.91,385.57 L370.79,386.36 L372.67,387.13 L374.56,387.89 L376.44,388.63 L378.32,389.36 L380.20,390.08 L382.08,390.77 L383.96,391.46 L385.84,392.13 L387.72,392.79 L389.61,393.44 L391.49,394.07 L393.37,394.69 L395.25,395.30 L397.13,395.89 L399.01,396.48 L400.89,397.05 L402.77,397.61 L404.66,398.16 L406.54,398.70 L408.42,399.23 L410.30,399.75 L412.18,400.25 L414.06,400.75 L415.94,401.24 L417.82,401.72 L419.71,402.19 L421.59,402.65 L423.47,403.10 L425.35,403.54 L427.23,403.97 L429.11,404.39 L430.99,404.81 L432.87,405.22 L434.76,405.62 L436.64,406.01 L438.52,406.39 L440.40,406.77 L442.28,407.14 L444.16,407.50 L446.04,407.85 L447.92,408.20 L449.81,408.54 L451.69,408.87 L453.57,409.20 L455.45,409.52 L457.33,409.84 L459.21,410.14 L461.09,410.45 L462.97,410.74 L464.86,411.03 L466.74,411.32 L468.62,411.60 L470.50,411.87 L472.38,412.14 L474.26,412.40 L476.14,412.66 L478.02,412.91 L479.91,413.16 L481.79,413.40 L483.67,413.64 L485.55,413.87 L487.43,414.10 L489.31,414.32 L491.19,414.54 L493.07,414.75 L494.96,414.97 L496.84,415.17 L498.72,415.37 L500.60,415.57 L502.48,415.77 L504.36,415.96 L506.24,416.15 L508.12,416.33 L510.01,416.51 L511.89,416.68 L513.77,416.86 L515.65,417.03 L517.53,417.19 L519.41,417.35 L521.29,417.51 L523.17,417.67 L525.06,417.82 L526.94,417.97 L528.82,418.12 L530.70,418.26 L532.58,418.40 L534.46,418.54 L536.34,418.68 L538.22,418.81 L540.11,418.94 L541.99,419.07 L543.87,419.20 L545.75,419.32 L547.63,419.44 L549.51,419.56 L551.39,419.67 L553.27,419.79 L555.16,419.90 L557.04,420.01 L558.92,420.11 L560.80,420.22 L562.68,420.32 L564.56,420.42 L566.44,420.52 L568.32,420.62 L570.21,420.71 L572.09,420.80 L573.97,420.89 L575.85,420.98 L577.73,421.07 L579.61,421.16 L581.49,421.24 L583.38,421.32 L585.26,421.40 L587.14,421.48 L589.02,421.56 L590.90,421.64 L592.78,421.71 L594.66,421.78 L596.54,421.85 L598.42,421.93 L600.31,421.99 L602.19,422.06 L604.07,422.13 L605.95,422.19" fill="none" stroke="#ffa500" stroke-width="2.5" stroke-linejoin="round" stroke-linecap="butt" stroke-dasharray="16.128,4.032,2.520,4.032"/>
<path d="M154.45,425.40 L154.45,66.84 L156.33,74.02 L158.21,81.06 L160.09,87.96 L161.97,94.72 L163.86,101.35 L165.74,107.84 L167.62,114.21 L169.50,120.44 L171.38,126.55 L173.26,132.54 L175.14,138.41 L177.02,144.16 L178.91,149.80 L180.79,155.32 L182.67,160.73 L184.55,166.04 L186.43,171.23 L188.31,176.33 L190.19,181.32 L192.07,186.21 L193.96,191.00 L195.84,195.70 L197.72,200.30 L199.60,204.81 L201.48,209.23 L203.36,213.56 L205.24,217.81 L207.12,221.97 L209.01,226.05 L210.89,230.04 L212.77,233.96 L214.65,237.79 L216.53,241.55 L218.41,245.24 L220.29,248.85 L222.17,252.38 L224.06,255.85 L225.94,259.25 L227.82,262.58 L229.70,265.84 L231.58,269.04 L233.46,272.17 L235.34,275.24 L237.22,278.25 L239.11,281.20 L240.99,284.09 L242.87,286.92 L244.75,289.70 L246.63,292.41 L248.51,295.08 L250.39,297.69 L252.27,300.25 L254.16,302.76 L256.04,305.22 L257.92,307.62 L259.80,309.98 L261.68,312.30 L263.56,314.56 L265.44,316.78 L267.32,318.96 L269.21,321.09 L271.09,323.18 L272.97,325.23 L274.85,327.24 L276.73,329.21 L278.61,331.13 L280.49,333.02 L282.38,334.87 L284.26,336.69 L286.14,338.47 L288.02,340.21 L289.90,341.92 L291.78,343.59 L293.66,345.23 L295.54,346.83 L297.42,348.41 L299.31,349.95 L301.19,351.46 L303.07,352.94 L304.95,354.40 L306.83,355.82 L308.71,357.21 L310.59,358.58 L312.47,359.92 L314.36,361.23 L316.24,362.52 L318.12,363.78 L320.00,365.01 L321.88,366.22 L323.76,367.41 L325.64,368.57 L327.52,369.71 L329.41,370.82 L331.29,371.92 L333.17,372.99 L335.05,374.04 L336.93,375.07 L338.81,376.08 L340.69,377.07 L342.57,378.03 L344.46,378.98 L346.34,379.91 L348.22,380.83 L350.10,381.72 L351.98,382.59 L353.86,383.45 L355.74,384.29 L357.62,385.12 L359.51,385.92 L361.39,386.71 L363.27,387.49 L365.15,388.25 L367.03,388.99 L368.91,389.72 L370.79,390.44 L372.67,391.14 L374.56,391.83 L376.44,392.50 L378.32,393.16 L380.20,393.80 L382.08,394.44 L383.96,395.06 L385.84,395.67 L387.72,396.26 L389.61,396.85 L391.49,397.42 L393.37,397.98 L395.25,398.53 L397.13,399.07 L399.01,399.59 L400.89,400.11 L402.77,400.62 L404.66,401.11 L406.54,401.60 L408.42,402.08 L410.30,402.55 L412.18,403.00 L414.06,403.45 L415.94,403.89 L417.82,404.32 L419.71,404.75 L421.59,405.16 L423.47,405.56 L425.35,405.96 L427.23,406.35 L429.11,406.73 L430.99,407.11 L432.87,407.47 L434.76,407.83 L436.64,408.19 L438.52,408.53 L440.40,408.87 L442.28,409.20 L444.16,409.52 L446.04,409.84 L447.92,410.15 L449.81,410.46 L451.69,410.76 L453.57,411.05 L455.45,411.34 L457.33,411.62 L459.21,411.90 L461.09,412.17 L462.97,412.43 L464.86,412.69 L466.74,412.95 L468.62,413.20 L470.50,413.44 L472.38,413.68 L474.26,413.92 L476.14,414.15 L478.02,414.37 L479.91,414.59 L481.79,414.81 L483.67,415.02 L485.55,415.23 L487.43,415.43 L489.31,415.63 L491.19,415.83 L493.07,416.02 L494.96,416.21 L496.84,416.39 L498.72,416.57 L500.60,416.75 L502.48,416.92 L504.36,417.09 L506.24,417.26 L508.12,417.42 L510.01,417.58 L511.89,417.74 L513.77,417.89 L515.65,418.04 L517.53,418.19 L519.41,418.34 L521.29,418.48 L523.17,418.62 L525.06,418.75 L526.94,418.88 L528.82,419.02 L530.70,419.14 L532.58,419.27 L534.46,419.39 L536.34,419.51 L538.22,419.63 L540.11,419.75 L541.99,419.86 L543.87,419.97 L545.75,420.08 L547.63,420.19 L549.51,420.29 L551.39,420.39 L553.27,420.49 L555.16,420.59 L557.04,420.69 L558.92,420.78 L560.80,420.87 L562.68,420.96 L564.56,421.05 L566.44,421.14 L568.32,421.23 L570.21,421.31 L572.09,421.39 L573.97,421.47 L575.85,421.55 L577.73,421.63 L579.61,421.70 L581.49,421.78 L583.38,421.85 L585.26,421.92 L587.14,421.99 L589.02,422.06 L590.90,422.13 L592.78,422.19 L594.66,422.26 L596.54,422.32 L598.42,422.38 L600.31,422.44 L602.19,422.50 L604.07,422.56 L605.95,422.62" fill="none" stroke="#00ff00" stroke-width="2.5" stroke-linejoin="round" stroke-linecap="butt" stroke-dasharray="2.500,4.125"/>
</g>
<rect x="79.45" y="0.90" width="600.00" height="446.50" fill="none" stroke="#000" stroke-width="1.34" stroke-linejoin="miter"/>
<line x1="79.45" x2="79.45" y1="447.40" y2="453.30" stroke="#000" stroke-width="1.34"/>
<line x1="154.45" x2="154.45" y1="447.40" y2="453.30" stroke="#000" stroke-width="1.34"/>
<line x1="229.45" x2="229.45" y1="447.40" y2="453.30" stroke="#000" stroke-width="1.34"/>
<line x1="304.45" x2="304.45" y1="447.40" y2="453.30" stroke="#000" stroke-width="1.34"/>
<line x1="379.45" x2="379.45" y1="447.40" y2="453.30" stroke="#000" stroke-width="1.34"/>
<line x1="454.45" x2="454.45" y1="447.40" y2="453.30" stroke="#000" stroke-width="1.34"/>
<line x1="529.45" x2="529.45" y1="447.40" y2="453.30" stroke="#000" stroke-width="1.34"/>
<line x1="604.45" x2="604.45" y1="447.40" y2="453.30" stroke="#000" stroke-width="1.34"/>
<line x1="679.45" x2="679.45" y1="447.40" y2="453.30" stroke="#000" stroke-width="1.34"/>
<line x1="73.55" x2="79.45" y1="425.40" y2="425.40" stroke="#000" stroke-width="1.34"/>
<line x1="73.55" x2="79.45" y1="331.78" y2="331.78" stroke="#000" stroke-width="1.34"/>
<line x1="73.55" x2="79.45" y1="238.16" y2="238.16" stroke="#000" stroke-width="1.34"/>
<line x1="73.55" x2="79.45" y1="144.54" y2="144.54" stroke="#000" stroke-width="1.34"/>
<line x1="73.55" x2="79.45" y1="50.92" y2="50.92" stroke="#000" stroke-width="1.34"/>
<text x="67.65" y="434.50" font-size="25.00" font-family="Liberation Sans, sans-serif" text-anchor="end" textLength="15.91" lengthAdjust="spacingAndGlyphs">0</text>
<text x="67.65" y="340.88" font-size="25.00" font-family="Liberation Sans, sans-serif" text-anchor="end" textLength="31.81" lengthAdjust="spacingAndGlyphs">20</text>
<text x="67.65" y="247.26" font-size="25.00" font-family="Liberation Sans, sans-serif" text-anchor="end" textLength="31.81" lengthAdjust="spacingAndGlyphs">40</text>
<text x="67.65" y="153.64" font-size="25.00" font-family="Liberation Sans, sans-serif" text-anchor="end" textLength="31.81" lengthAdjust="spacingAndGlyphs">60</text>
<text x="67.65" y="60.02" font-size="25.00" font-family="Liberation Sans, sans-serif" text-anchor="end" textLength="31.81" lengthAdjust="spacingAndGlyphs">80</text>
<text x="154.45" y="478.20" font-size="25.00" font-family="Liberation Sans, sans-serif" text-anchor="middle" textLength="15.91" lengthAdjust="spacingAndGlyphs">0</text>
<text x="229.45" y="478.20" font-size="25.00" font-family="Liberation Sans, sans-serif" text-anchor="middle" textLength="15.91" lengthAdjust="spacingAndGlyphs">1</text>
<text x="304.45" y="478.20" font-size="25.00" font-family="Liberation Sans, sans-serif" text-anchor="middle" textLength="15.91" lengthAdjust="spacingAndGlyphs">2</text>
<text x="379.45" y="478.20" font-size="25.00" font-family="Liberation Sans, sans-serif" text-anchor="middle" textLength="15.91" lengthAdjust="spacingAndGlyphs">3</text>
<text x="454.45" y="478.20" font-size="25.00" font-family="Liberation Sans, sans-serif" text-anchor="middle" textLength="15.91" lengthAdjust="spacingAndGlyphs">4</text>
<text x="529.45" y="478.20" font-size="25.00" font-family="Liberation Sans, sans-serif" text-anchor="middle" textLength="15.91" lengthAdjust="spacingAndGlyphs">5</text>
<text x="604.45" y="478.20" font-size="25.00" font-family="Liberation Sans, sans-serif" text-anchor="middle" textLength="15.91" lengthAdjust="spacingAndGlyphs">6</text>
<text x="679.45" y="478.20" font-size="25.00" font-family="Liberation Sans, sans-serif" text-anchor="middle" textLength="15.91" lengthAdjust="spacingAndGlyphs">7</text>
<text x="302.70" y="512.80" font-size="25.00" font-family="Liberation Sans, sans-serif" text-anchor="start" textLength="111.46" lengthAdjust="spacingAndGlyphs">Time (10</text>
<text x="414.66" y="503.00" font-size="17.50" font-family="Liberation Sans, sans-serif" text-anchor="start" textLength="11.13" lengthAdjust="spacingAndGlyphs">6</text>
<text x="434.24" y="512.80" font-size="25.00" font-family="Liberation Sans, sans-serif" text-anchor="start" textLength="22.78" lengthAdjust="spacingAndGlyphs">s)</text>
<g transform="translate(22.6,360.0) rotate(-90)"><text x="0.00" y="0.00" font-size="25.00" font-family="Liberation Sans, sans-serif" text-anchor="start" textLength="236.84" lengthAdjust="spacingAndGlyphs">Detected counts (s</text><text x="237.34" y="-9.00" font-size="17.50" font-family="Liberation Sans, sans-serif" text-anchor="start" textLength="25.80" lengthAdjust="spacingAndGlyphs">−1</text><text x="263.64" y="0.00" font-size="25.00" font-family="Liberation Sans, sans-serif" text-anchor="start" textLength="9.75" lengthAdjust="spacingAndGlyphs">)</text></g>
<rect x="511.3" y="13.0" width="155.50" height="158.70" rx="4.5" ry="4.5" fill="#fff" fill-opacity="0.8" stroke="#d6d6d6" stroke-width="1.34"/>
<line x1="520.3" x2="572.4" y1="34.7" y2="34.7" stroke="#ff0000" stroke-width="1.68"/>
<circle cx="546.40" cy="34.70" r="5.00" fill="#ff0000" stroke="#000" stroke-width="1.68" stroke-linejoin="miter"/>
<text x="591.60" y="33.60" font-size="17.50" font-family="Liberation Sans, sans-serif" text-anchor="start" textLength="33.40" lengthAdjust="spacingAndGlyphs">225</text>
<text x="626.60" y="43.00" font-size="25.00" font-family="Liberation Sans, sans-serif" text-anchor="start" textLength="30.85" lengthAdjust="spacingAndGlyphs">Ac</text>
<line x1="520.3" x2="572.4" y1="72.7" y2="72.7" stroke="#0000ff" stroke-width="1.68" stroke-dasharray="6.22,2.69"/>
<rect x="541.40" y="67.70" width="10.00" height="10.00" fill="#0000ff" stroke="#000" stroke-width="1.68" stroke-linejoin="miter"/>
<text x="591.60" y="71.60" font-size="17.50" font-family="Liberation Sans, sans-serif" text-anchor="start" textLength="33.40" lengthAdjust="spacingAndGlyphs">221</text>
<text x="626.60" y="81.00" font-size="25.00" font-family="Liberation Sans, sans-serif" text-anchor="start" textLength="24.66" lengthAdjust="spacingAndGlyphs">Fr</text>
<line x1="520.3" x2="572.4" y1="110.5" y2="110.5" stroke="#ffa500" stroke-width="1.68" stroke-dasharray="10.75,2.69,1.68,2.69"/>
<path d="M546.40,105.50L541.40,115.50L551.40,115.50Z" fill="#ffa500" stroke="#000" stroke-width="1.68" stroke-linejoin="miter"/>
<text x="591.60" y="109.40" font-size="17.50" font-family="Liberation Sans, sans-serif" text-anchor="start" textLength="33.40" lengthAdjust="spacingAndGlyphs">217</text>
<text x="626.60" y="118.80" font-size="25.00" font-family="Liberation Sans, sans-serif" text-anchor="start" textLength="26.90" lengthAdjust="spacingAndGlyphs">At</text>
<line x1="520.3" x2="572.4" y1="148.2" y2="148.2" stroke="#00ff00" stroke-width="1.68" stroke-dasharray="1.68,2.77"/>
<path d="M541.40,148.20L551.40,143.20L551.40,153.20Z" fill="#00ff00" stroke="#000" stroke-width="1.68" stroke-linejoin="miter"/>
<text x="591.60" y="147.10" font-size="17.50" font-family="Liberation Sans, sans-serif" text-anchor="start" textLength="33.40" lengthAdjust="spacingAndGlyphs">213</text>
<text x="626.60" y="156.50" font-size="25.00" font-family="Liberation Sans, sans-serif" text-anchor="start" textLength="30.37" lengthAdjust="spacingAndGlyphs">Po</text>
</svg>
</body></html>
